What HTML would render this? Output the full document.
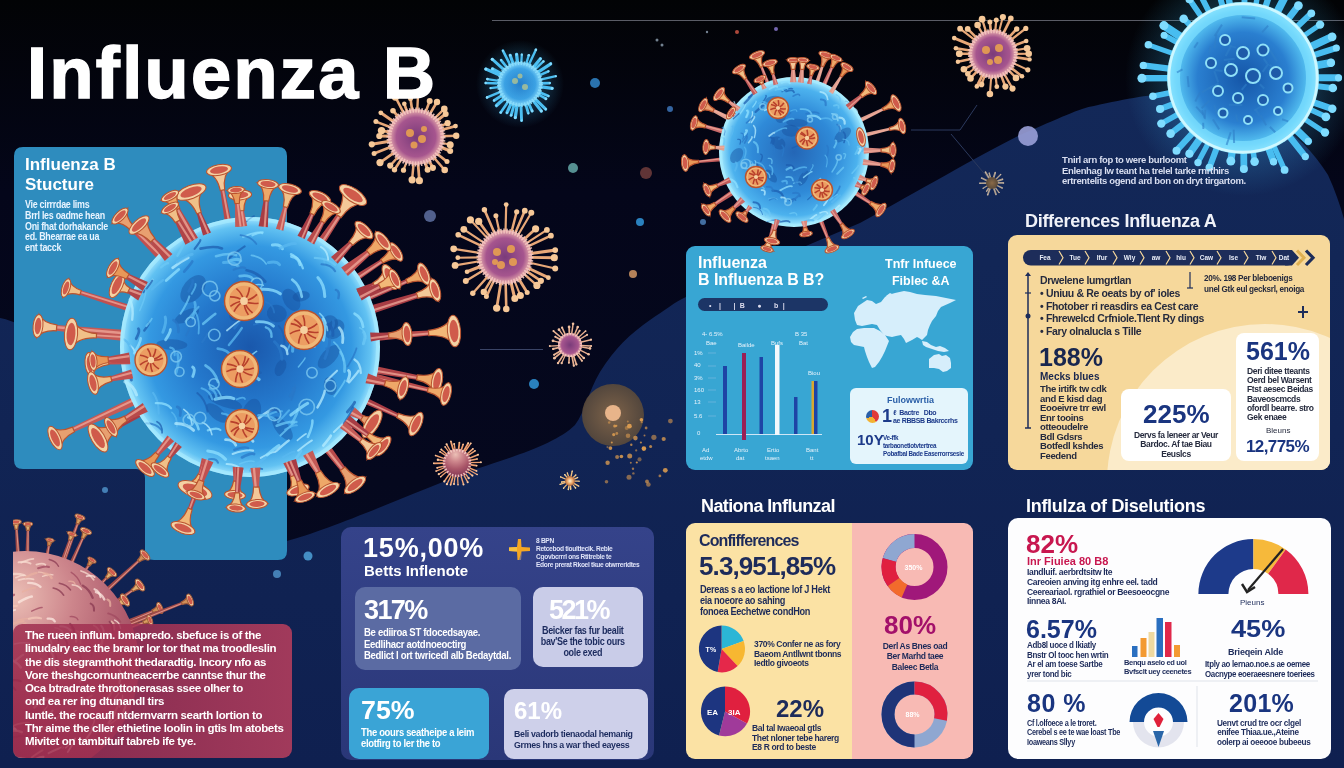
<!DOCTYPE html>
<html><head><meta charset="utf-8">
<style>
*{margin:0;padding:0;box-sizing:border-box}
html,body{width:1344px;height:768px;overflow:hidden;background:#070a17}
body{position:relative;font-family:"Liberation Sans",sans-serif;color:#fff}
.a{position:absolute}
.b{font-weight:bold}
.t{position:absolute;white-space:nowrap;line-height:1}
.sm{font-size:10px;line-height:11px;white-space:nowrap;position:absolute;font-weight:bold;letter-spacing:-0.35px}
.navy{color:#1c2b5e}
.panel{position:absolute;border-radius:9px}
</style></head><body>
<svg style="position:absolute;left:0;top:0" width="1344" height="768" viewBox="0 0 1344 768">
<defs>
<radialGradient id="gBlue" cx="50%" cy="50%" r="50%">
 <stop offset="0" stop-color="#1a58ac"/>
 <stop offset="0.45" stop-color="#2478cc"/>
 <stop offset="0.78" stop-color="#3499e2"/>
 <stop offset="0.93" stop-color="#62c2f2"/>
 <stop offset="1" stop-color="#a8e8ff"/>
</radialGradient>
<radialGradient id="gBlueLight" cx="50%" cy="50%" r="50%">
 <stop offset="0" stop-color="#2466b6"/>
 <stop offset="0.55" stop-color="#2f8ad8"/>
 <stop offset="0.85" stop-color="#4cb2ee"/>
 <stop offset="1" stop-color="#b0f0ff"/>
</radialGradient>
<radialGradient id="gGlow" cx="50%" cy="50%" r="50%">
 <stop offset="0.55" stop-color="#40b8f0" stop-opacity="0.45"/>
 <stop offset="1" stop-color="#40b8f0" stop-opacity="0"/>
</radialGradient>
<radialGradient id="gBlueTR" cx="50%" cy="50%" r="50%">
 <stop offset="0" stop-color="#1556a8"/>
 <stop offset="0.6" stop-color="#2a7fd0"/>
 <stop offset="0.88" stop-color="#58c6f4"/>
 <stop offset="1" stop-color="#a8f0ff"/>
</radialGradient>
<radialGradient id="gPink" cx="50%" cy="50%" r="50%">
 <stop offset="0" stop-color="#7a3b7a"/>
 <stop offset="0.7" stop-color="#a6558e"/>
 <stop offset="1" stop-color="#f0b8b0"/>
</radialGradient>
<radialGradient id="gSmallBlue" cx="50%" cy="50%" r="50%">
 <stop offset="0" stop-color="#1f6fc0"/>
 <stop offset="0.7" stop-color="#3a9be0"/>
 <stop offset="1" stop-color="#9fe6ff"/>
</radialGradient>
<radialGradient id="gPinkBig" cx="45%" cy="20%" r="85%">
 <stop offset="0" stop-color="#ecc0b6"/>
 <stop offset="0.3" stop-color="#cd868c"/>
 <stop offset="0.6" stop-color="#ab586a"/>
 <stop offset="1" stop-color="#7a3050"/>
</radialGradient>
<radialGradient id="gOrb" cx="50%" cy="50%" r="50%">
 <stop offset="0" stop-color="#8a6a48"/>
 <stop offset="1" stop-color="#5a4a3a"/>
</radialGradient>
<radialGradient id="gOrange" cx="50%" cy="50%" r="50%">
 <stop offset="0" stop-color="#fff0d0"/>
 <stop offset="0.6" stop-color="#e8a060"/>
 <stop offset="1" stop-color="#a06040"/>
</radialGradient>
<linearGradient id="gBg" x1="0" y1="0" x2="0" y2="1">
 <stop offset="0" stop-color="#020305"/>
 <stop offset="0.25" stop-color="#04061a"/>
 <stop offset="1" stop-color="#060a22"/>
</linearGradient>
<linearGradient id="gWave" x1="0" y1="0" x2="0" y2="1">
 <stop offset="0" stop-color="#132858"/>
 <stop offset="1" stop-color="#0f2050"/>
</linearGradient>
</defs>
<rect width="1344" height="768" fill="url(#gBg)"/>
<path d="M0,318 C60,330 120,420 150,470 C190,520 250,548 287,541 C330,530 420,490 476,469 C520,455 558,442 575,425 C585,412 588,392 600,372 C615,348 630,334 650,320 C665,310 675,302 686,297 L860,223 C920,190 980,155 1020,135 C1060,118 1080,108 1094,106 C1130,98 1160,93 1175,94 C1250,96 1300,130 1328,175 C1335,190 1340,205 1344,219 L1344,768 L0,768 Z" fill="url(#gWave)"/>
<line x1="492" y1="20.5" x2="1344" y2="20.5" stroke="#5a5c66" stroke-width="1.2"/>
<line x1="480" y1="349.5" x2="543" y2="349.5" stroke="#3a4466" stroke-width="1"/>
<polyline points="911,130 960,130 977,105" fill="none" stroke="#2c3a5e" stroke-width="1"/>
<line x1="951" y1="134" x2="988" y2="178" stroke="#2c3a5e" stroke-width="1"/>
<circle cx="595" cy="83" r="5" fill="#2f7fc0" opacity="0.9"/>
<circle cx="670" cy="109" r="3" fill="#3a6fb0" opacity="0.9"/>
<circle cx="573" cy="168" r="5" fill="#5fa0a0" opacity="0.9"/>
<circle cx="646" cy="173" r="6" fill="#6a3a3a" opacity="0.9"/>
<circle cx="640" cy="222" r="4" fill="#2f8fd0" opacity="0.9"/>
<circle cx="534" cy="384" r="5" fill="#2f8fd0" opacity="0.9"/>
<circle cx="633" cy="274" r="4" fill="#c89060" opacity="0.9"/>
<circle cx="1028" cy="136" r="10" fill="#9aa0d8" opacity="0.9"/>
<circle cx="430" cy="216" r="6" fill="#5a6a9a" opacity="0.9"/>
<circle cx="18" cy="408" r="3" fill="#5a9ad0" opacity="0.9"/>
<circle cx="105" cy="490" r="3" fill="#4a8ac0" opacity="0.9"/>
<circle cx="657" cy="40" r="1.5" fill="#8090a0" opacity="0.9"/>
<circle cx="662" cy="45" r="1.5" fill="#8090a0" opacity="0.9"/>
<circle cx="737" cy="32" r="2" fill="#c05040" opacity="0.9"/>
<circle cx="776" cy="29" r="2" fill="#8070c0" opacity="0.9"/>
<circle cx="707" cy="32" r="1.2" fill="#8090a0" opacity="0.9"/>
<circle cx="308" cy="556" r="4.5" fill="#4a9ad0" opacity="0.9"/>
<circle cx="277" cy="574" r="4" fill="#4a8ac0" opacity="0.9"/>
<circle cx="703" cy="222" r="3" fill="#4a7ab0" opacity="0.9"/>
<circle cx="613" cy="415" r="31" fill="url(#gOrb)" opacity="0.9"/>
<circle cx="613" cy="413" r="8" fill="#e8b48a"/>
<circle cx="626.7" cy="428.1" r="2" fill="#d89a50" opacity="0.5"/>
<circle cx="640.9" cy="442.5" r="1.1" fill="#d89a50" opacity="0.8"/>
<circle cx="607.5" cy="447.1" r="1.1" fill="#d89a50" opacity="0.5"/>
<circle cx="633.4" cy="473.4" r="1.2" fill="#d89a50" opacity="0.6"/>
<circle cx="647" cy="481.5" r="1.9" fill="#d89a50" opacity="0.7"/>
<circle cx="670.4" cy="421.1" r="2.4" fill="#d89a50" opacity="0.6"/>
<circle cx="614.7" cy="425.9" r="1.5" fill="#d89a50" opacity="0.9"/>
<circle cx="617.1" cy="457" r="2" fill="#d89a50" opacity="0.7"/>
<circle cx="641.7" cy="422.2" r="1.1" fill="#d89a50" opacity="0.6"/>
<circle cx="650.6" cy="446.6" r="1.5" fill="#d89a50" opacity="0.8"/>
<circle cx="635.4" cy="438.1" r="2.3" fill="#d89a50" opacity="0.8"/>
<circle cx="621.4" cy="456.5" r="1.8" fill="#d89a50" opacity="0.9"/>
<circle cx="653.9" cy="437.3" r="2.6" fill="#d89a50" opacity="0.6"/>
<circle cx="633" cy="468.7" r="1.2" fill="#d89a50" opacity="0.7"/>
<circle cx="607.6" cy="462.8" r="2.2" fill="#d89a50" opacity="0.8"/>
<circle cx="663.7" cy="439" r="2.1" fill="#d89a50" opacity="0.8"/>
<circle cx="643.9" cy="448.6" r="2.3" fill="#d89a50" opacity="1"/>
<circle cx="636.8" cy="462.5" r="1.1" fill="#d89a50" opacity="0.9"/>
<circle cx="648.4" cy="484.5" r="2.3" fill="#d89a50" opacity="0.6"/>
<circle cx="630.8" cy="462.8" r="1" fill="#d89a50" opacity="0.7"/>
<circle cx="616.3" cy="425.8" r="1.1" fill="#d89a50" opacity="0.9"/>
<circle cx="613.7" cy="434.6" r="1.6" fill="#d89a50" opacity="0.9"/>
<circle cx="610.4" cy="448.1" r="1.9" fill="#d89a50" opacity="0.9"/>
<circle cx="659.9" cy="475.9" r="1.4" fill="#d89a50" opacity="0.7"/>
<circle cx="629" cy="477.2" r="2.5" fill="#d89a50" opacity="0.6"/>
<circle cx="616.8" cy="433.5" r="1.4" fill="#d89a50" opacity="0.7"/>
<circle cx="644.5" cy="435.6" r="1" fill="#d89a50" opacity="0.7"/>
<circle cx="629.7" cy="455.9" r="2.5" fill="#d89a50" opacity="0.8"/>
<circle cx="639.5" cy="459.4" r="2.1" fill="#d89a50" opacity="0.5"/>
<circle cx="665.3" cy="470.3" r="2.4" fill="#d89a50" opacity="0.9"/>
<circle cx="631.3" cy="444.7" r="1.2" fill="#d89a50" opacity="0.8"/>
<circle cx="609.2" cy="422.5" r="1.3" fill="#d89a50" opacity="0.6"/>
<circle cx="627.8" cy="421.5" r="1" fill="#d89a50" opacity="0.6"/>
<circle cx="611.8" cy="442.4" r="1" fill="#d89a50" opacity="0.9"/>
<circle cx="646.1" cy="428" r="1.4" fill="#d89a50" opacity="0.7"/>
<circle cx="629.4" cy="426.2" r="2.4" fill="#d89a50" opacity="1"/>
<circle cx="636.2" cy="450.4" r="1.1" fill="#d89a50" opacity="0.6"/>
<circle cx="628" cy="435.7" r="2.3" fill="#d89a50" opacity="0.6"/>
<circle cx="606.5" cy="481.7" r="1.8" fill="#d89a50" opacity="0.6"/>
<circle cx="641.4" cy="419.8" r="1.8" fill="#d89a50" opacity="1"/>
<line x1="441.2" y1="136.2" x2="456.2" y2="135.7" stroke="#e8a878" stroke-width="2.5" stroke-linecap="round"/>
<circle cx="456.2" cy="135.7" r="3.2" fill="#f6c898"/>
<line x1="440.6" y1="142.6" x2="450.2" y2="144.8" stroke="#e8a878" stroke-width="2.1" stroke-linecap="round"/>
<circle cx="450.2" cy="144.8" r="3.5" fill="#f6c898"/>
<line x1="439.3" y1="146.5" x2="450.2" y2="151" stroke="#e8a878" stroke-width="3.1" stroke-linecap="round"/>
<circle cx="450.2" cy="151" r="3" fill="#f6c898"/>
<line x1="435.7" y1="152.7" x2="447" y2="161.6" stroke="#e8a878" stroke-width="2.7" stroke-linecap="round"/>
<circle cx="447" cy="161.6" r="2.5" fill="#f6c898"/>
<line x1="432.5" y1="156" x2="444.7" y2="170" stroke="#e8a878" stroke-width="2.6" stroke-linecap="round"/>
<circle cx="444.7" cy="170" r="3.3" fill="#f6c898"/>
<line x1="428.1" y1="159.1" x2="432.9" y2="167.8" stroke="#e8a878" stroke-width="2.9" stroke-linecap="round"/>
<circle cx="432.9" cy="167.8" r="3.1" fill="#f6c898"/>
<line x1="424.4" y1="160.8" x2="427.6" y2="169.8" stroke="#e8a878" stroke-width="3" stroke-linecap="round"/>
<circle cx="427.6" cy="169.8" r="3" fill="#f6c898"/>
<line x1="417.9" y1="162.1" x2="419.4" y2="180.7" stroke="#e8a878" stroke-width="2.8" stroke-linecap="round"/>
<circle cx="419.4" cy="180.7" r="3.6" fill="#f6c898"/>
<line x1="413.7" y1="162.1" x2="412.1" y2="179.8" stroke="#e8a878" stroke-width="2.5" stroke-linecap="round"/>
<circle cx="412.1" cy="179.8" r="3.6" fill="#f6c898"/>
<line x1="407.1" y1="160.6" x2="403.5" y2="170.2" stroke="#e8a878" stroke-width="2.2" stroke-linecap="round"/>
<circle cx="403.5" cy="170.2" r="2.6" fill="#f6c898"/>
<line x1="402.1" y1="158" x2="394.5" y2="169.7" stroke="#e8a878" stroke-width="2.7" stroke-linecap="round"/>
<circle cx="394.5" cy="169.7" r="2.7" fill="#f6c898"/>
<line x1="399.1" y1="155.7" x2="390.2" y2="165.6" stroke="#e8a878" stroke-width="2.4" stroke-linecap="round"/>
<circle cx="390.2" cy="165.6" r="3.1" fill="#f6c898"/>
<line x1="395.5" y1="151.6" x2="380" y2="162.6" stroke="#e8a878" stroke-width="2.8" stroke-linecap="round"/>
<circle cx="380" cy="162.6" r="3.6" fill="#f6c898"/>
<line x1="392.5" y1="146.2" x2="374.1" y2="153.5" stroke="#e8a878" stroke-width="2.8" stroke-linecap="round"/>
<circle cx="374.1" cy="153.5" r="2.5" fill="#f6c898"/>
<line x1="391.1" y1="141.1" x2="371.8" y2="144.3" stroke="#e8a878" stroke-width="3" stroke-linecap="round"/>
<circle cx="371.8" cy="144.3" r="3.1" fill="#f6c898"/>
<line x1="390.8" y1="136.3" x2="379.3" y2="136" stroke="#e8a878" stroke-width="2.9" stroke-linecap="round"/>
<circle cx="379.3" cy="136" r="3.1" fill="#f6c898"/>
<line x1="391.2" y1="132.4" x2="381.5" y2="130.6" stroke="#e8a878" stroke-width="3" stroke-linecap="round"/>
<circle cx="381.5" cy="130.6" r="3.7" fill="#f6c898"/>
<line x1="392.5" y1="128" x2="375.9" y2="121.6" stroke="#e8a878" stroke-width="2.5" stroke-linecap="round"/>
<circle cx="375.9" cy="121.6" r="2.5" fill="#f6c898"/>
<line x1="395.2" y1="122.7" x2="380.8" y2="112.8" stroke="#e8a878" stroke-width="3" stroke-linecap="round"/>
<circle cx="380.8" cy="112.8" r="2.4" fill="#f6c898"/>
<line x1="399.4" y1="118" x2="393" y2="110.7" stroke="#e8a878" stroke-width="2.8" stroke-linecap="round"/>
<circle cx="393" cy="110.7" r="2.8" fill="#f6c898"/>
<line x1="404.5" y1="114.6" x2="395.4" y2="97" stroke="#e8a878" stroke-width="2.6" stroke-linecap="round"/>
<circle cx="395.4" cy="97" r="3.7" fill="#f6c898"/>
<line x1="407.6" y1="113.2" x2="404.3" y2="103.8" stroke="#e8a878" stroke-width="2.7" stroke-linecap="round"/>
<circle cx="404.3" cy="103.8" r="2.3" fill="#f6c898"/>
<line x1="412.4" y1="112.1" x2="410.5" y2="98.6" stroke="#e8a878" stroke-width="2.7" stroke-linecap="round"/>
<circle cx="410.5" cy="98.6" r="2.5" fill="#f6c898"/>
<line x1="417.2" y1="111.8" x2="418.1" y2="93.3" stroke="#e8a878" stroke-width="2.4" stroke-linecap="round"/>
<circle cx="418.1" cy="93.3" r="3.7" fill="#f6c898"/>
<line x1="425" y1="113.5" x2="429.7" y2="101.1" stroke="#e8a878" stroke-width="2.6" stroke-linecap="round"/>
<circle cx="429.7" cy="101.1" r="3" fill="#f6c898"/>
<line x1="429" y1="115.4" x2="437" y2="102" stroke="#e8a878" stroke-width="2.7" stroke-linecap="round"/>
<circle cx="437" cy="102" r="3.2" fill="#f6c898"/>
<line x1="433.9" y1="119.2" x2="444.3" y2="108.9" stroke="#e8a878" stroke-width="2.5" stroke-linecap="round"/>
<circle cx="444.3" cy="108.9" r="3.3" fill="#f6c898"/>
<line x1="435.9" y1="121.5" x2="445.7" y2="113.9" stroke="#e8a878" stroke-width="3.1" stroke-linecap="round"/>
<circle cx="445.7" cy="113.9" r="3" fill="#f6c898"/>
<line x1="439.1" y1="126.9" x2="447.6" y2="123.2" stroke="#e8a878" stroke-width="2.5" stroke-linecap="round"/>
<circle cx="447.6" cy="123.2" r="3.1" fill="#f6c898"/>
<line x1="440.3" y1="130.3" x2="455.5" y2="126.1" stroke="#e8a878" stroke-width="2.7" stroke-linecap="round"/>
<circle cx="455.5" cy="126.1" r="2.4" fill="#f6c898"/>
<circle cx="416" cy="137" r="28" fill="url(#gPink)"/>
<circle cx="416" cy="137" r="27" fill="none" stroke="#f4c8c0" stroke-width="5" stroke-dasharray="1.5 1.5" opacity="0.9"/>
<circle cx="410" cy="133" r="4" fill="#e8a050" opacity="0.9"/>
<circle cx="422" cy="139" r="4" fill="#e8a050" opacity="0.9"/>
<circle cx="414" cy="145" r="3.5" fill="#e8a050" opacity="0.9"/>
<circle cx="424" cy="129" r="3" fill="#e8a050" opacity="0.9"/>
<line x1="539.8" y1="83.4" x2="549.7" y2="83.1" stroke="#4ec0f2" stroke-width="2.7" stroke-linecap="round"/>
<circle cx="549.7" cy="83.1" r="1.1" fill="#8fe0ff"/>
<line x1="539.6" y1="86.7" x2="552.1" y2="88.4" stroke="#4ec0f2" stroke-width="3.3" stroke-linecap="round"/>
<circle cx="552.1" cy="88.4" r="1.4" fill="#8fe0ff"/>
<line x1="538.2" y1="91.7" x2="548.4" y2="96" stroke="#4ec0f2" stroke-width="2.8" stroke-linecap="round"/>
<circle cx="548.4" cy="96" r="1.1" fill="#8fe0ff"/>
<line x1="537.2" y1="93.8" x2="545.9" y2="98.7" stroke="#4ec0f2" stroke-width="2.5" stroke-linecap="round"/>
<circle cx="545.9" cy="98.7" r="1.5" fill="#8fe0ff"/>
<line x1="534.1" y1="97.9" x2="545.7" y2="109.2" stroke="#4ec0f2" stroke-width="3.1" stroke-linecap="round"/>
<circle cx="545.7" cy="109.2" r="1.1" fill="#8fe0ff"/>
<line x1="532.3" y1="99.5" x2="541.3" y2="111" stroke="#4ec0f2" stroke-width="3.1" stroke-linecap="round"/>
<circle cx="541.3" cy="111" r="1.5" fill="#8fe0ff"/>
<line x1="528.1" y1="102.1" x2="532.1" y2="111" stroke="#4ec0f2" stroke-width="2.9" stroke-linecap="round"/>
<circle cx="532.1" cy="111" r="1.4" fill="#8fe0ff"/>
<line x1="525.4" y1="103" x2="528.3" y2="113.2" stroke="#4ec0f2" stroke-width="2.8" stroke-linecap="round"/>
<circle cx="528.3" cy="113.2" r="1" fill="#8fe0ff"/>
<line x1="520.9" y1="103.8" x2="521.6" y2="120.6" stroke="#4ec0f2" stroke-width="2.9" stroke-linecap="round"/>
<circle cx="521.6" cy="120.6" r="1.1" fill="#8fe0ff"/>
<line x1="517.3" y1="103.6" x2="515.3" y2="117.6" stroke="#4ec0f2" stroke-width="3.2" stroke-linecap="round"/>
<circle cx="515.3" cy="117.6" r="1.5" fill="#8fe0ff"/>
<line x1="514.6" y1="103" x2="511.1" y2="115.3" stroke="#4ec0f2" stroke-width="2.9" stroke-linecap="round"/>
<circle cx="511.1" cy="115.3" r="1.2" fill="#8fe0ff"/>
<line x1="511.8" y1="102" x2="507" y2="112.7" stroke="#4ec0f2" stroke-width="3.2" stroke-linecap="round"/>
<circle cx="507" cy="112.7" r="1" fill="#8fe0ff"/>
<line x1="508.9" y1="100.4" x2="500.7" y2="112.5" stroke="#4ec0f2" stroke-width="2.6" stroke-linecap="round"/>
<circle cx="500.7" cy="112.5" r="1.3" fill="#8fe0ff"/>
<line x1="505.4" y1="97.4" x2="496.5" y2="105.6" stroke="#4ec0f2" stroke-width="3.4" stroke-linecap="round"/>
<circle cx="496.5" cy="105.6" r="1.1" fill="#8fe0ff"/>
<line x1="503.3" y1="94.6" x2="494.1" y2="100.4" stroke="#4ec0f2" stroke-width="2.9" stroke-linecap="round"/>
<circle cx="494.1" cy="100.4" r="1.1" fill="#8fe0ff"/>
<line x1="501.7" y1="91.4" x2="487.1" y2="97.4" stroke="#4ec0f2" stroke-width="2.6" stroke-linecap="round"/>
<circle cx="487.1" cy="97.4" r="1.3" fill="#8fe0ff"/>
<line x1="500.4" y1="86.8" x2="490.6" y2="88.1" stroke="#4ec0f2" stroke-width="2.3" stroke-linecap="round"/>
<circle cx="490.6" cy="88.1" r="1.1" fill="#8fe0ff"/>
<line x1="500.2" y1="83.4" x2="485.7" y2="83" stroke="#4ec0f2" stroke-width="2.5" stroke-linecap="round"/>
<circle cx="485.7" cy="83" r="1.2" fill="#8fe0ff"/>
<line x1="500.4" y1="81.1" x2="487.4" y2="79.1" stroke="#4ec0f2" stroke-width="2.3" stroke-linecap="round"/>
<circle cx="487.4" cy="79.1" r="1.4" fill="#8fe0ff"/>
<line x1="501.9" y1="76" x2="485.8" y2="69" stroke="#4ec0f2" stroke-width="3.1" stroke-linecap="round"/>
<circle cx="485.8" cy="69" r="1.5" fill="#8fe0ff"/>
<line x1="502.6" y1="74.5" x2="492.5" y2="68.9" stroke="#4ec0f2" stroke-width="3.3" stroke-linecap="round"/>
<circle cx="492.5" cy="68.9" r="1.4" fill="#8fe0ff"/>
<line x1="505.2" y1="70.8" x2="492.2" y2="59.2" stroke="#4ec0f2" stroke-width="2.9" stroke-linecap="round"/>
<circle cx="492.2" cy="59.2" r="1.5" fill="#8fe0ff"/>
<line x1="507.7" y1="68.5" x2="501.1" y2="60.1" stroke="#4ec0f2" stroke-width="2.7" stroke-linecap="round"/>
<circle cx="501.1" cy="60.1" r="1" fill="#8fe0ff"/>
<line x1="510.9" y1="66.4" x2="502.9" y2="50.7" stroke="#4ec0f2" stroke-width="2.6" stroke-linecap="round"/>
<circle cx="502.9" cy="50.7" r="1" fill="#8fe0ff"/>
<line x1="513.6" y1="65.3" x2="510.2" y2="55.3" stroke="#4ec0f2" stroke-width="3.1" stroke-linecap="round"/>
<circle cx="510.2" cy="55.3" r="1.2" fill="#8fe0ff"/>
<line x1="517.7" y1="64.3" x2="516.6" y2="54.5" stroke="#4ec0f2" stroke-width="3.3" stroke-linecap="round"/>
<circle cx="516.6" cy="54.5" r="1.2" fill="#8fe0ff"/>
<line x1="521.2" y1="64.2" x2="521.8" y2="54.7" stroke="#4ec0f2" stroke-width="2.3" stroke-linecap="round"/>
<circle cx="521.8" cy="54.7" r="1.1" fill="#8fe0ff"/>
<line x1="525.8" y1="65.1" x2="528.8" y2="55.2" stroke="#4ec0f2" stroke-width="2.3" stroke-linecap="round"/>
<circle cx="528.8" cy="55.2" r="1.3" fill="#8fe0ff"/>
<line x1="528.3" y1="66" x2="535.9" y2="49.7" stroke="#4ec0f2" stroke-width="2.4" stroke-linecap="round"/>
<circle cx="535.9" cy="49.7" r="1.3" fill="#8fe0ff"/>
<line x1="532.4" y1="68.6" x2="540.4" y2="58.7" stroke="#4ec0f2" stroke-width="3.3" stroke-linecap="round"/>
<circle cx="540.4" cy="58.7" r="1.2" fill="#8fe0ff"/>
<line x1="534.2" y1="70.2" x2="543.4" y2="61.4" stroke="#4ec0f2" stroke-width="2.3" stroke-linecap="round"/>
<circle cx="543.4" cy="61.4" r="1.2" fill="#8fe0ff"/>
<line x1="536.5" y1="73.1" x2="550.7" y2="63.8" stroke="#4ec0f2" stroke-width="3.2" stroke-linecap="round"/>
<circle cx="550.7" cy="63.8" r="1.3" fill="#8fe0ff"/>
<line x1="538.1" y1="75.9" x2="548.4" y2="71.3" stroke="#4ec0f2" stroke-width="2.5" stroke-linecap="round"/>
<circle cx="548.4" cy="71.3" r="1.1" fill="#8fe0ff"/>
<line x1="539.3" y1="79.8" x2="555.8" y2="76.2" stroke="#4ec0f2" stroke-width="2.4" stroke-linecap="round"/>
<circle cx="555.8" cy="76.2" r="1" fill="#8fe0ff"/>
<circle cx="520" cy="84" r="22" fill="url(#gSmallBlue)"/>
<circle cx="520" cy="84" r="21" fill="none" stroke="#9fe8ff" stroke-width="4" stroke-dasharray="1.5 1.5" opacity="0.9"/>
<circle cx="515" cy="81" r="3" fill="#c0c080" opacity="0.9"/>
<circle cx="525" cy="87" r="3" fill="#c0c080" opacity="0.9"/>
<circle cx="520" cy="76" r="2.5" fill="#c0c080" opacity="0.9"/>
<line x1="529.3" y1="257.4" x2="554.3" y2="257.7" stroke="#e8a878" stroke-width="2.9" stroke-linecap="round"/>
<circle cx="554.3" cy="257.7" r="3.6" fill="#f6c898"/>
<line x1="528.7" y1="262.4" x2="555.2" y2="268.5" stroke="#e8a878" stroke-width="2.1" stroke-linecap="round"/>
<circle cx="555.2" cy="268.5" r="3" fill="#f6c898"/>
<line x1="526.9" y1="267.5" x2="548.4" y2="277.7" stroke="#e8a878" stroke-width="3" stroke-linecap="round"/>
<circle cx="548.4" cy="277.7" r="2.4" fill="#f6c898"/>
<line x1="525.3" y1="270.4" x2="540.9" y2="280.8" stroke="#e8a878" stroke-width="2.6" stroke-linecap="round"/>
<circle cx="540.9" cy="280.8" r="3.1" fill="#f6c898"/>
<line x1="523.1" y1="273.2" x2="536.9" y2="285.4" stroke="#e8a878" stroke-width="2.4" stroke-linecap="round"/>
<circle cx="536.9" cy="285.4" r="3.6" fill="#f6c898"/>
<line x1="517.9" y1="277.6" x2="527.2" y2="292.6" stroke="#e8a878" stroke-width="2.9" stroke-linecap="round"/>
<circle cx="527.2" cy="292.6" r="2.5" fill="#f6c898"/>
<line x1="514" y1="279.6" x2="520.4" y2="295.6" stroke="#e8a878" stroke-width="2.1" stroke-linecap="round"/>
<circle cx="520.4" cy="295.6" r="3.5" fill="#f6c898"/>
<line x1="510.6" y1="280.7" x2="514.8" y2="298.6" stroke="#e8a878" stroke-width="3.1" stroke-linecap="round"/>
<circle cx="514.8" cy="298.6" r="3.5" fill="#f6c898"/>
<line x1="505.6" y1="281.3" x2="506.3" y2="309" stroke="#e8a878" stroke-width="2.6" stroke-linecap="round"/>
<circle cx="506.3" cy="309" r="3.3" fill="#f6c898"/>
<line x1="501.1" y1="281" x2="496.7" y2="308.1" stroke="#e8a878" stroke-width="2.8" stroke-linecap="round"/>
<circle cx="496.7" cy="308.1" r="3.7" fill="#f6c898"/>
<line x1="494.7" y1="279" x2="486.4" y2="296.6" stroke="#e8a878" stroke-width="2.5" stroke-linecap="round"/>
<circle cx="486.4" cy="296.6" r="2.5" fill="#f6c898"/>
<line x1="492.4" y1="277.8" x2="483.8" y2="291.9" stroke="#e8a878" stroke-width="2.4" stroke-linecap="round"/>
<circle cx="483.8" cy="291.9" r="3.2" fill="#f6c898"/>
<line x1="488.9" y1="275.2" x2="472.8" y2="293.2" stroke="#e8a878" stroke-width="2.4" stroke-linecap="round"/>
<circle cx="472.8" cy="293.2" r="2.7" fill="#f6c898"/>
<line x1="484.3" y1="269.7" x2="465.8" y2="281.1" stroke="#e8a878" stroke-width="2.4" stroke-linecap="round"/>
<circle cx="465.8" cy="281.1" r="3" fill="#f6c898"/>
<line x1="482.3" y1="265.8" x2="467" y2="271.7" stroke="#e8a878" stroke-width="3.1" stroke-linecap="round"/>
<circle cx="467" cy="271.7" r="2.3" fill="#f6c898"/>
<line x1="481" y1="261" x2="455.1" y2="265.4" stroke="#e8a878" stroke-width="2.1" stroke-linecap="round"/>
<circle cx="455.1" cy="265.4" r="3.4" fill="#f6c898"/>
<line x1="480.7" y1="257.4" x2="457.8" y2="257.7" stroke="#e8a878" stroke-width="2.1" stroke-linecap="round"/>
<circle cx="457.8" cy="257.7" r="2.4" fill="#f6c898"/>
<line x1="481" y1="253.2" x2="453.7" y2="248.8" stroke="#e8a878" stroke-width="2.3" stroke-linecap="round"/>
<circle cx="453.7" cy="248.8" r="3.4" fill="#f6c898"/>
<line x1="483" y1="246.6" x2="458.2" y2="234.8" stroke="#e8a878" stroke-width="2.4" stroke-linecap="round"/>
<circle cx="458.2" cy="234.8" r="2.8" fill="#f6c898"/>
<line x1="484.8" y1="243.4" x2="463.8" y2="229.3" stroke="#e8a878" stroke-width="2.2" stroke-linecap="round"/>
<circle cx="463.8" cy="229.3" r="3.4" fill="#f6c898"/>
<line x1="488.4" y1="239.2" x2="470.4" y2="219.9" stroke="#e8a878" stroke-width="2.1" stroke-linecap="round"/>
<circle cx="470.4" cy="219.9" r="3.6" fill="#f6c898"/>
<line x1="490.5" y1="237.5" x2="478.7" y2="221.4" stroke="#e8a878" stroke-width="2.7" stroke-linecap="round"/>
<circle cx="478.7" cy="221.4" r="3.6" fill="#f6c898"/>
<line x1="495.3" y1="234.7" x2="484.4" y2="209.8" stroke="#e8a878" stroke-width="2.6" stroke-linecap="round"/>
<circle cx="484.4" cy="209.8" r="2.7" fill="#f6c898"/>
<line x1="499.7" y1="233.3" x2="495.9" y2="215.8" stroke="#e8a878" stroke-width="2.2" stroke-linecap="round"/>
<circle cx="495.9" cy="215.8" r="2.5" fill="#f6c898"/>
<line x1="505.5" y1="232.7" x2="506.2" y2="204.6" stroke="#e8a878" stroke-width="2.2" stroke-linecap="round"/>
<circle cx="506.2" cy="204.6" r="2.4" fill="#f6c898"/>
<line x1="511.1" y1="233.5" x2="516.7" y2="211.8" stroke="#e8a878" stroke-width="2.5" stroke-linecap="round"/>
<circle cx="516.7" cy="211.8" r="2.6" fill="#f6c898"/>
<line x1="514.5" y1="234.7" x2="524.8" y2="210.7" stroke="#e8a878" stroke-width="2.6" stroke-linecap="round"/>
<circle cx="524.8" cy="210.7" r="2.9" fill="#f6c898"/>
<line x1="517.4" y1="236.1" x2="531.3" y2="212.8" stroke="#e8a878" stroke-width="2.1" stroke-linecap="round"/>
<circle cx="531.3" cy="212.8" r="3" fill="#f6c898"/>
<line x1="522.9" y1="240.5" x2="535.6" y2="228.8" stroke="#e8a878" stroke-width="2.8" stroke-linecap="round"/>
<circle cx="535.6" cy="228.8" r="3.6" fill="#f6c898"/>
<line x1="525.4" y1="243.8" x2="546.9" y2="229.9" stroke="#e8a878" stroke-width="2.2" stroke-linecap="round"/>
<circle cx="546.9" cy="229.9" r="2.9" fill="#f6c898"/>
<line x1="527" y1="246.8" x2="550.9" y2="235.7" stroke="#e8a878" stroke-width="2.4" stroke-linecap="round"/>
<circle cx="550.9" cy="235.7" r="2.9" fill="#f6c898"/>
<line x1="529.1" y1="253.7" x2="555.2" y2="250.1" stroke="#e8a878" stroke-width="3.1" stroke-linecap="round"/>
<circle cx="555.2" cy="250.1" r="2.9" fill="#f6c898"/>
<circle cx="505" cy="257" r="27" fill="url(#gPink)"/>
<circle cx="505" cy="257" r="26" fill="none" stroke="#f4c8c0" stroke-width="4.9" stroke-dasharray="1.5 1.5" opacity="0.9"/>
<circle cx="497" cy="252" r="4" fill="#e8a050" opacity="0.9"/>
<circle cx="511" cy="249" r="4" fill="#e8a050" opacity="0.9"/>
<circle cx="513" cy="262" r="4" fill="#e8a050" opacity="0.9"/>
<circle cx="501" cy="265" r="4" fill="#e8a050" opacity="0.9"/>
<circle cx="495" cy="262" r="3" fill="#e8a050" opacity="0.9"/>
<line x1="580.8" y1="345.5" x2="591.1" y2="345.9" stroke="#e8b090" stroke-width="1.5" stroke-linecap="round"/>
<circle cx="591.1" cy="345.9" r="1" fill="#f0c0a0"/>
<line x1="580.6" y1="346.8" x2="590" y2="348.4" stroke="#e8b090" stroke-width="1.5" stroke-linecap="round"/>
<circle cx="590" cy="348.4" r="1.3" fill="#f0c0a0"/>
<line x1="579.7" y1="349.8" x2="588.6" y2="354.3" stroke="#e8b090" stroke-width="1.4" stroke-linecap="round"/>
<circle cx="588.6" cy="354.3" r="1.3" fill="#f0c0a0"/>
<line x1="577.8" y1="352.4" x2="583.8" y2="358" stroke="#e8b090" stroke-width="1.5" stroke-linecap="round"/>
<circle cx="583.8" cy="358" r="1.3" fill="#f0c0a0"/>
<line x1="576.5" y1="353.6" x2="581.9" y2="360.7" stroke="#e8b090" stroke-width="1.7" stroke-linecap="round"/>
<circle cx="581.9" cy="360.7" r="1" fill="#f0c0a0"/>
<line x1="573.4" y1="355.3" x2="576.4" y2="364.4" stroke="#e8b090" stroke-width="1.7" stroke-linecap="round"/>
<circle cx="576.4" cy="364.4" r="1.1" fill="#f0c0a0"/>
<line x1="571.9" y1="355.6" x2="573.8" y2="365.7" stroke="#e8b090" stroke-width="1.7" stroke-linecap="round"/>
<circle cx="573.8" cy="365.7" r="1.1" fill="#f0c0a0"/>
<line x1="569.3" y1="355.8" x2="568.9" y2="362.8" stroke="#e8b090" stroke-width="1.6" stroke-linecap="round"/>
<circle cx="568.9" cy="362.8" r="1" fill="#f0c0a0"/>
<line x1="565.5" y1="354.8" x2="561.7" y2="363.1" stroke="#e8b090" stroke-width="1.3" stroke-linecap="round"/>
<circle cx="561.7" cy="363.1" r="1.2" fill="#f0c0a0"/>
<line x1="564" y1="354" x2="558" y2="363.1" stroke="#e8b090" stroke-width="1.7" stroke-linecap="round"/>
<circle cx="558" cy="363.1" r="1.2" fill="#f0c0a0"/>
<line x1="561.8" y1="352" x2="554.4" y2="358.2" stroke="#e8b090" stroke-width="1.7" stroke-linecap="round"/>
<circle cx="554.4" cy="358.2" r="1.4" fill="#f0c0a0"/>
<line x1="560.8" y1="350.7" x2="554.1" y2="354.8" stroke="#e8b090" stroke-width="1.6" stroke-linecap="round"/>
<circle cx="554.1" cy="354.8" r="1" fill="#f0c0a0"/>
<line x1="559.5" y1="347.4" x2="553.2" y2="348.9" stroke="#e8b090" stroke-width="1.7" stroke-linecap="round"/>
<circle cx="553.2" cy="348.9" r="1.2" fill="#f0c0a0"/>
<line x1="559.2" y1="345.6" x2="549.8" y2="346.1" stroke="#e8b090" stroke-width="1.4" stroke-linecap="round"/>
<circle cx="549.8" cy="346.1" r="1" fill="#f0c0a0"/>
<line x1="559.5" y1="342.4" x2="553" y2="340.8" stroke="#e8b090" stroke-width="1.3" stroke-linecap="round"/>
<circle cx="553" cy="340.8" r="1.4" fill="#f0c0a0"/>
<line x1="560.6" y1="339.7" x2="555.3" y2="336.7" stroke="#e8b090" stroke-width="1.7" stroke-linecap="round"/>
<circle cx="555.3" cy="336.7" r="0.9" fill="#f0c0a0"/>
<line x1="561.7" y1="338" x2="553.5" y2="331.1" stroke="#e8b090" stroke-width="1.6" stroke-linecap="round"/>
<circle cx="553.5" cy="331.1" r="1" fill="#f0c0a0"/>
<line x1="563.7" y1="336.2" x2="559" y2="329.7" stroke="#e8b090" stroke-width="1.3" stroke-linecap="round"/>
<circle cx="559" cy="329.7" r="1.4" fill="#f0c0a0"/>
<line x1="565.5" y1="335.2" x2="562.1" y2="327.7" stroke="#e8b090" stroke-width="1.6" stroke-linecap="round"/>
<circle cx="562.1" cy="327.7" r="1.1" fill="#f0c0a0"/>
<line x1="569.4" y1="334.2" x2="569.1" y2="326.9" stroke="#e8b090" stroke-width="1.8" stroke-linecap="round"/>
<circle cx="569.1" cy="326.9" r="1.4" fill="#f0c0a0"/>
<line x1="571.6" y1="334.3" x2="573.1" y2="323.8" stroke="#e8b090" stroke-width="1.5" stroke-linecap="round"/>
<circle cx="573.1" cy="323.8" r="1.3" fill="#f0c0a0"/>
<line x1="574.3" y1="335.1" x2="577.7" y2="327.1" stroke="#e8b090" stroke-width="1.5" stroke-linecap="round"/>
<circle cx="577.7" cy="327.1" r="1.3" fill="#f0c0a0"/>
<line x1="576" y1="336" x2="579.6" y2="330.7" stroke="#e8b090" stroke-width="1.6" stroke-linecap="round"/>
<circle cx="579.6" cy="330.7" r="1" fill="#f0c0a0"/>
<line x1="578.1" y1="337.8" x2="585.6" y2="331.1" stroke="#e8b090" stroke-width="1.3" stroke-linecap="round"/>
<circle cx="585.6" cy="331.1" r="0.9" fill="#f0c0a0"/>
<line x1="579.3" y1="339.5" x2="587.1" y2="334.8" stroke="#e8b090" stroke-width="1.4" stroke-linecap="round"/>
<circle cx="587.1" cy="334.8" r="1" fill="#f0c0a0"/>
<line x1="580.5" y1="342.3" x2="591" y2="339.7" stroke="#e8b090" stroke-width="1.4" stroke-linecap="round"/>
<circle cx="591" cy="339.7" r="1.1" fill="#f0c0a0"/>
<circle cx="570" cy="345" r="12" fill="url(#gPink)"/>
<circle cx="570" cy="345" r="11" fill="none" stroke="#f4c8c0" stroke-width="2.2" stroke-dasharray="1.5 1.5" opacity="0.9"/>
<line x1="469.6" y1="462.6" x2="480.9" y2="462.3" stroke="#f0a070" stroke-width="1.3" stroke-linecap="round"/>
<circle cx="480.9" cy="462.3" r="1" fill="#f8c8a0"/>
<line x1="469.5" y1="464.7" x2="476.6" y2="465.7" stroke="#f0a070" stroke-width="1.8" stroke-linecap="round"/>
<circle cx="476.6" cy="465.7" r="0.8" fill="#f8c8a0"/>
<line x1="468.7" y1="467.7" x2="476.5" y2="470.9" stroke="#f0a070" stroke-width="1.5" stroke-linecap="round"/>
<circle cx="476.5" cy="470.9" r="0.9" fill="#f8c8a0"/>
<line x1="467.9" y1="469.3" x2="477.1" y2="474.5" stroke="#f0a070" stroke-width="1.3" stroke-linecap="round"/>
<circle cx="477.1" cy="474.5" r="0.8" fill="#f8c8a0"/>
<line x1="466.7" y1="471" x2="472.4" y2="475.6" stroke="#f0a070" stroke-width="1.4" stroke-linecap="round"/>
<circle cx="472.4" cy="475.6" r="1.1" fill="#f8c8a0"/>
<line x1="464.7" y1="473" x2="468.7" y2="478.1" stroke="#f0a070" stroke-width="1.4" stroke-linecap="round"/>
<circle cx="468.7" cy="478.1" r="1.2" fill="#f8c8a0"/>
<line x1="463.2" y1="474" x2="467.7" y2="482.2" stroke="#f0a070" stroke-width="1.4" stroke-linecap="round"/>
<circle cx="467.7" cy="482.2" r="1" fill="#f8c8a0"/>
<line x1="460.7" y1="475.1" x2="463.5" y2="484.4" stroke="#f0a070" stroke-width="1.5" stroke-linecap="round"/>
<circle cx="463.5" cy="484.4" r="1" fill="#f8c8a0"/>
<line x1="457.6" y1="475.6" x2="458" y2="484.7" stroke="#f0a070" stroke-width="1.3" stroke-linecap="round"/>
<circle cx="458" cy="484.7" r="0.7" fill="#f8c8a0"/>
<line x1="455.2" y1="475.5" x2="454" y2="484" stroke="#f0a070" stroke-width="1.3" stroke-linecap="round"/>
<circle cx="454" cy="484" r="1.1" fill="#f8c8a0"/>
<line x1="453.4" y1="475.1" x2="450.6" y2="484.7" stroke="#f0a070" stroke-width="1.7" stroke-linecap="round"/>
<circle cx="450.6" cy="484.7" r="0.8" fill="#f8c8a0"/>
<line x1="451.6" y1="474.4" x2="446.9" y2="484.2" stroke="#f0a070" stroke-width="1.3" stroke-linecap="round"/>
<circle cx="446.9" cy="484.2" r="1.1" fill="#f8c8a0"/>
<line x1="449.9" y1="473.4" x2="444.3" y2="481.4" stroke="#f0a070" stroke-width="1.6" stroke-linecap="round"/>
<circle cx="444.3" cy="481.4" r="1.1" fill="#f8c8a0"/>
<line x1="447.4" y1="471.1" x2="440.7" y2="476.7" stroke="#f0a070" stroke-width="1.3" stroke-linecap="round"/>
<circle cx="440.7" cy="476.7" r="0.8" fill="#f8c8a0"/>
<line x1="446.3" y1="469.6" x2="438.8" y2="474.2" stroke="#f0a070" stroke-width="1.2" stroke-linecap="round"/>
<circle cx="438.8" cy="474.2" r="1.1" fill="#f8c8a0"/>
<line x1="445.2" y1="467.5" x2="436.1" y2="471.1" stroke="#f0a070" stroke-width="1.3" stroke-linecap="round"/>
<circle cx="436.1" cy="471.1" r="0.8" fill="#f8c8a0"/>
<line x1="444.8" y1="466" x2="437.2" y2="467.8" stroke="#f0a070" stroke-width="1.4" stroke-linecap="round"/>
<circle cx="437.2" cy="467.8" r="0.9" fill="#f8c8a0"/>
<line x1="444.4" y1="463.2" x2="433.8" y2="463.3" stroke="#f0a070" stroke-width="1.7" stroke-linecap="round"/>
<circle cx="433.8" cy="463.3" r="0.8" fill="#f8c8a0"/>
<line x1="444.6" y1="460.8" x2="437.9" y2="459.7" stroke="#f0a070" stroke-width="1.6" stroke-linecap="round"/>
<circle cx="437.9" cy="459.7" r="1.2" fill="#f8c8a0"/>
<line x1="445.1" y1="458.8" x2="435.5" y2="455.5" stroke="#f0a070" stroke-width="1.4" stroke-linecap="round"/>
<circle cx="435.5" cy="455.5" r="0.7" fill="#f8c8a0"/>
<line x1="446.5" y1="456.1" x2="440" y2="451.8" stroke="#f0a070" stroke-width="1.3" stroke-linecap="round"/>
<circle cx="440" cy="451.8" r="0.9" fill="#f8c8a0"/>
<line x1="447.4" y1="454.8" x2="441.3" y2="449.5" stroke="#f0a070" stroke-width="1.5" stroke-linecap="round"/>
<circle cx="441.3" cy="449.5" r="0.9" fill="#f8c8a0"/>
<line x1="449.5" y1="452.9" x2="445.1" y2="446.9" stroke="#f0a070" stroke-width="1.3" stroke-linecap="round"/>
<circle cx="445.1" cy="446.9" r="0.8" fill="#f8c8a0"/>
<line x1="450.9" y1="452" x2="446.6" y2="444.3" stroke="#f0a070" stroke-width="1.4" stroke-linecap="round"/>
<circle cx="446.6" cy="444.3" r="1.1" fill="#f8c8a0"/>
<line x1="453.6" y1="450.9" x2="450.9" y2="441.4" stroke="#f0a070" stroke-width="1.8" stroke-linecap="round"/>
<circle cx="450.9" cy="441.4" r="0.7" fill="#f8c8a0"/>
<line x1="455.2" y1="450.5" x2="454.2" y2="444" stroke="#f0a070" stroke-width="1.4" stroke-linecap="round"/>
<circle cx="454.2" cy="444" r="1" fill="#f8c8a0"/>
<line x1="458.5" y1="450.5" x2="459.4" y2="442.7" stroke="#f0a070" stroke-width="1.8" stroke-linecap="round"/>
<circle cx="459.4" cy="442.7" r="0.7" fill="#f8c8a0"/>
<line x1="460.9" y1="451" x2="463.1" y2="444.4" stroke="#f0a070" stroke-width="1.7" stroke-linecap="round"/>
<circle cx="463.1" cy="444.4" r="0.7" fill="#f8c8a0"/>
<line x1="463.2" y1="452" x2="468.2" y2="443.2" stroke="#f0a070" stroke-width="1.8" stroke-linecap="round"/>
<circle cx="468.2" cy="443.2" r="1" fill="#f8c8a0"/>
<line x1="464.2" y1="452.7" x2="470.8" y2="443.4" stroke="#f0a070" stroke-width="1.5" stroke-linecap="round"/>
<circle cx="470.8" cy="443.4" r="0.8" fill="#f8c8a0"/>
<line x1="466.4" y1="454.6" x2="472.9" y2="448.9" stroke="#f0a070" stroke-width="1.5" stroke-linecap="round"/>
<circle cx="472.9" cy="448.9" r="0.8" fill="#f8c8a0"/>
<line x1="467.4" y1="455.9" x2="475" y2="450.8" stroke="#f0a070" stroke-width="1.5" stroke-linecap="round"/>
<circle cx="475" cy="450.8" r="0.8" fill="#f8c8a0"/>
<line x1="468.7" y1="458.4" x2="478" y2="454.7" stroke="#f0a070" stroke-width="1.6" stroke-linecap="round"/>
<circle cx="478" cy="454.7" r="0.9" fill="#f8c8a0"/>
<line x1="469.4" y1="460.5" x2="477.1" y2="459" stroke="#f0a070" stroke-width="1.3" stroke-linecap="round"/>
<circle cx="477.1" cy="459" r="0.8" fill="#f8c8a0"/>
<circle cx="457" cy="463" r="14" fill="url(#gPinkBig)"/>
<circle cx="457" cy="463" r="13" fill="none" stroke="#f8d0c8" stroke-width="2.5" stroke-dasharray="1.5 1.5" opacity="0.9"/>
<line x1="1014.6" y1="53.9" x2="1028.7" y2="53.8" stroke="#e8a878" stroke-width="2.1" stroke-linecap="round"/>
<circle cx="1028.7" cy="53.8" r="3.3" fill="#f6c898"/>
<line x1="1014.4" y1="57.2" x2="1029.6" y2="59.4" stroke="#e8a878" stroke-width="2.8" stroke-linecap="round"/>
<circle cx="1029.6" cy="59.4" r="2.2" fill="#f6c898"/>
<line x1="1012.7" y1="62.9" x2="1027.8" y2="69.8" stroke="#e8a878" stroke-width="2" stroke-linecap="round"/>
<circle cx="1027.8" cy="69.8" r="2.6" fill="#f6c898"/>
<line x1="1010.1" y1="67.1" x2="1022" y2="76.2" stroke="#e8a878" stroke-width="2.6" stroke-linecap="round"/>
<circle cx="1022" cy="76.2" r="2.3" fill="#f6c898"/>
<line x1="1008" y1="69.6" x2="1016" y2="77.9" stroke="#e8a878" stroke-width="2.4" stroke-linecap="round"/>
<circle cx="1016" cy="77.9" r="3.3" fill="#f6c898"/>
<line x1="1003.6" y1="72.8" x2="1012.5" y2="88.6" stroke="#e8a878" stroke-width="2.3" stroke-linecap="round"/>
<circle cx="1012.5" cy="88.6" r="3.1" fill="#f6c898"/>
<line x1="1000.7" y1="74.2" x2="1005.4" y2="86.6" stroke="#e8a878" stroke-width="2.6" stroke-linecap="round"/>
<circle cx="1005.4" cy="86.6" r="3.1" fill="#f6c898"/>
<line x1="995.5" y1="75.5" x2="996.8" y2="86.7" stroke="#e8a878" stroke-width="2.2" stroke-linecap="round"/>
<circle cx="996.8" cy="86.7" r="2.4" fill="#f6c898"/>
<line x1="991.3" y1="75.5" x2="989.9" y2="94" stroke="#e8a878" stroke-width="2.1" stroke-linecap="round"/>
<circle cx="989.9" cy="94" r="3.3" fill="#f6c898"/>
<line x1="985.4" y1="74.2" x2="981.5" y2="84.4" stroke="#e8a878" stroke-width="2.3" stroke-linecap="round"/>
<circle cx="981.5" cy="84.4" r="2.8" fill="#f6c898"/>
<line x1="983.3" y1="73.3" x2="976.8" y2="86.4" stroke="#e8a878" stroke-width="2.8" stroke-linecap="round"/>
<circle cx="976.8" cy="86.4" r="2.3" fill="#f6c898"/>
<line x1="978.4" y1="69.9" x2="970.5" y2="78.4" stroke="#e8a878" stroke-width="2.5" stroke-linecap="round"/>
<circle cx="970.5" cy="78.4" r="3.3" fill="#f6c898"/>
<line x1="976" y1="67.3" x2="967.8" y2="73.8" stroke="#e8a878" stroke-width="2" stroke-linecap="round"/>
<circle cx="967.8" cy="73.8" r="2.8" fill="#f6c898"/>
<line x1="973.8" y1="64" x2="963.9" y2="69.2" stroke="#e8a878" stroke-width="2.4" stroke-linecap="round"/>
<circle cx="963.9" cy="69.2" r="3.3" fill="#f6c898"/>
<line x1="971.9" y1="58.7" x2="957.9" y2="61.8" stroke="#e8a878" stroke-width="2.5" stroke-linecap="round"/>
<circle cx="957.9" cy="61.8" r="2.2" fill="#f6c898"/>
<line x1="971.4" y1="53.8" x2="959.3" y2="53.7" stroke="#e8a878" stroke-width="2.5" stroke-linecap="round"/>
<circle cx="959.3" cy="53.7" r="3.4" fill="#f6c898"/>
<line x1="971.7" y1="50.7" x2="955.9" y2="48.3" stroke="#e8a878" stroke-width="2.5" stroke-linecap="round"/>
<circle cx="955.9" cy="48.3" r="2.3" fill="#f6c898"/>
<line x1="973" y1="45.8" x2="954.2" y2="38.1" stroke="#e8a878" stroke-width="2.9" stroke-linecap="round"/>
<circle cx="954.2" cy="38.1" r="2.3" fill="#f6c898"/>
<line x1="975.9" y1="40.9" x2="960.1" y2="28.7" stroke="#e8a878" stroke-width="2.1" stroke-linecap="round"/>
<circle cx="960.1" cy="28.7" r="2.9" fill="#f6c898"/>
<line x1="977.6" y1="38.8" x2="967.7" y2="28.9" stroke="#e8a878" stroke-width="2.6" stroke-linecap="round"/>
<circle cx="967.7" cy="28.9" r="2.9" fill="#f6c898"/>
<line x1="982.9" y1="34.9" x2="977.6" y2="25" stroke="#e8a878" stroke-width="2.3" stroke-linecap="round"/>
<circle cx="977.6" cy="25" r="3.3" fill="#f6c898"/>
<line x1="986.5" y1="33.4" x2="982.1" y2="19.2" stroke="#e8a878" stroke-width="2.3" stroke-linecap="round"/>
<circle cx="982.1" cy="19.2" r="3.4" fill="#f6c898"/>
<line x1="990.9" y1="32.5" x2="989.9" y2="22" stroke="#e8a878" stroke-width="2.7" stroke-linecap="round"/>
<circle cx="989.9" cy="22" r="2.5" fill="#f6c898"/>
<line x1="995.1" y1="32.5" x2="996.3" y2="20" stroke="#e8a878" stroke-width="2.3" stroke-linecap="round"/>
<circle cx="996.3" cy="20" r="2.5" fill="#f6c898"/>
<line x1="998.6" y1="33.1" x2="1002.9" y2="17" stroke="#e8a878" stroke-width="2" stroke-linecap="round"/>
<circle cx="1002.9" cy="17" r="3.1" fill="#f6c898"/>
<line x1="1002.7" y1="34.7" x2="1010.8" y2="18.4" stroke="#e8a878" stroke-width="2.7" stroke-linecap="round"/>
<circle cx="1010.8" cy="18.4" r="2.8" fill="#f6c898"/>
<line x1="1007.9" y1="38.3" x2="1016.7" y2="29" stroke="#e8a878" stroke-width="2.6" stroke-linecap="round"/>
<circle cx="1016.7" cy="29" r="2.7" fill="#f6c898"/>
<line x1="1010" y1="40.7" x2="1025.8" y2="28.4" stroke="#e8a878" stroke-width="2.3" stroke-linecap="round"/>
<circle cx="1025.8" cy="28.4" r="2.6" fill="#f6c898"/>
<line x1="1013.1" y1="46.1" x2="1026.2" y2="41" stroke="#e8a878" stroke-width="2.6" stroke-linecap="round"/>
<circle cx="1026.2" cy="41" r="2.3" fill="#f6c898"/>
<line x1="1014.3" y1="50.4" x2="1027.1" y2="48.3" stroke="#e8a878" stroke-width="2" stroke-linecap="round"/>
<circle cx="1027.1" cy="48.3" r="3.4" fill="#f6c898"/>
<circle cx="993" cy="54" r="24" fill="url(#gPink)"/>
<circle cx="993" cy="54" r="23" fill="none" stroke="#f4c8c0" stroke-width="4.3" stroke-dasharray="1.5 1.5" opacity="0.9"/>
<circle cx="986" cy="50" r="4" fill="#e8a050" opacity="0.9"/>
<circle cx="999" cy="48" r="4" fill="#e8a050" opacity="0.9"/>
<circle cx="998" cy="60" r="4" fill="#e8a050" opacity="0.9"/>
<circle cx="990" cy="62" r="3" fill="#e8a050" opacity="0.9"/>
<line x1="574.5" y1="481.1" x2="579.1" y2="481.2" stroke="#f0c080" stroke-width="1.3" stroke-linecap="round"/>
<circle cx="579.1" cy="481.2" r="0.5" fill="#f8e0b0"/>
<line x1="573.9" y1="483.3" x2="578.7" y2="486.1" stroke="#f0c080" stroke-width="1.4" stroke-linecap="round"/>
<circle cx="578.7" cy="486.1" r="0.5" fill="#f8e0b0"/>
<line x1="572.8" y1="484.5" x2="575.5" y2="487.9" stroke="#f0c080" stroke-width="1.2" stroke-linecap="round"/>
<circle cx="575.5" cy="487.9" r="0.8" fill="#f8e0b0"/>
<line x1="570.4" y1="485.5" x2="570.7" y2="489.1" stroke="#f0c080" stroke-width="1.5" stroke-linecap="round"/>
<circle cx="570.7" cy="489.1" r="0.7" fill="#f8e0b0"/>
<line x1="569.1" y1="485.4" x2="568.3" y2="489.5" stroke="#f0c080" stroke-width="1.4" stroke-linecap="round"/>
<circle cx="568.3" cy="489.5" r="0.6" fill="#f8e0b0"/>
<line x1="567" y1="484.4" x2="563.6" y2="488.2" stroke="#f0c080" stroke-width="1.1" stroke-linecap="round"/>
<circle cx="563.6" cy="488.2" r="0.7" fill="#f8e0b0"/>
<line x1="565.7" y1="482.4" x2="560.1" y2="484.3" stroke="#f0c080" stroke-width="1.4" stroke-linecap="round"/>
<circle cx="560.1" cy="484.3" r="0.5" fill="#f8e0b0"/>
<line x1="565.5" y1="481.6" x2="561.7" y2="482.1" stroke="#f0c080" stroke-width="1.5" stroke-linecap="round"/>
<circle cx="561.7" cy="482.1" r="0.6" fill="#f8e0b0"/>
<line x1="565.9" y1="479.2" x2="560.6" y2="476.9" stroke="#f0c080" stroke-width="1.2" stroke-linecap="round"/>
<circle cx="560.6" cy="476.9" r="0.6" fill="#f8e0b0"/>
<line x1="567.1" y1="477.5" x2="564.8" y2="474.7" stroke="#f0c080" stroke-width="1.3" stroke-linecap="round"/>
<circle cx="564.8" cy="474.7" r="0.7" fill="#f8e0b0"/>
<line x1="568.6" y1="476.7" x2="567.3" y2="472.9" stroke="#f0c080" stroke-width="1.3" stroke-linecap="round"/>
<circle cx="567.3" cy="472.9" r="0.5" fill="#f8e0b0"/>
<line x1="571" y1="476.6" x2="572.2" y2="471.2" stroke="#f0c080" stroke-width="1.4" stroke-linecap="round"/>
<circle cx="572.2" cy="471.2" r="0.6" fill="#f8e0b0"/>
<line x1="573.1" y1="477.8" x2="575.8" y2="475" stroke="#f0c080" stroke-width="1.3" stroke-linecap="round"/>
<circle cx="575.8" cy="475" r="0.6" fill="#f8e0b0"/>
<line x1="574.1" y1="479.2" x2="577.6" y2="477.6" stroke="#f0c080" stroke-width="1.4" stroke-linecap="round"/>
<circle cx="577.6" cy="477.6" r="0.5" fill="#f8e0b0"/>
<circle cx="570" cy="481" r="5" fill="url(#gOrange)"/>
<line x1="997.4" y1="182.9" x2="1003.3" y2="182.9" stroke="#b0a090" stroke-width="1.9" stroke-linecap="round"/>
<circle cx="1003.3" cy="182.9" r="0.5" fill="#d0c0b0"/>
<line x1="996.9" y1="185.4" x2="1002.2" y2="188" stroke="#b0a090" stroke-width="1.4" stroke-linecap="round"/>
<circle cx="1002.2" cy="188" r="0.5" fill="#d0c0b0"/>
<line x1="995.2" y1="187.3" x2="999.1" y2="192.6" stroke="#b0a090" stroke-width="1.3" stroke-linecap="round"/>
<circle cx="999.1" cy="192.6" r="0.5" fill="#d0c0b0"/>
<line x1="993.8" y1="188.1" x2="996" y2="194.4" stroke="#b0a090" stroke-width="1.7" stroke-linecap="round"/>
<circle cx="996" cy="194.4" r="0.4" fill="#d0c0b0"/>
<line x1="990.1" y1="188.1" x2="987.7" y2="194.7" stroke="#b0a090" stroke-width="1.7" stroke-linecap="round"/>
<circle cx="987.7" cy="194.7" r="0.6" fill="#d0c0b0"/>
<line x1="989" y1="187.5" x2="986.7" y2="191.1" stroke="#b0a090" stroke-width="1.6" stroke-linecap="round"/>
<circle cx="986.7" cy="191.1" r="0.4" fill="#d0c0b0"/>
<line x1="987.3" y1="185.7" x2="983.1" y2="188.2" stroke="#b0a090" stroke-width="1.3" stroke-linecap="round"/>
<circle cx="983.1" cy="188.2" r="0.5" fill="#d0c0b0"/>
<line x1="986.6" y1="183.1" x2="979.9" y2="183.2" stroke="#b0a090" stroke-width="1.6" stroke-linecap="round"/>
<circle cx="979.9" cy="183.2" r="0.6" fill="#d0c0b0"/>
<line x1="987.1" y1="180.7" x2="981.6" y2="178" stroke="#b0a090" stroke-width="1.6" stroke-linecap="round"/>
<circle cx="981.6" cy="178" r="0.5" fill="#d0c0b0"/>
<line x1="989.2" y1="178.4" x2="985.5" y2="172.2" stroke="#b0a090" stroke-width="1.8" stroke-linecap="round"/>
<circle cx="985.5" cy="172.2" r="0.6" fill="#d0c0b0"/>
<line x1="990.5" y1="177.8" x2="989.2" y2="173.1" stroke="#b0a090" stroke-width="1.5" stroke-linecap="round"/>
<circle cx="989.2" cy="173.1" r="0.4" fill="#d0c0b0"/>
<line x1="993.6" y1="177.8" x2="995.2" y2="172.7" stroke="#b0a090" stroke-width="1.8" stroke-linecap="round"/>
<circle cx="995.2" cy="172.7" r="0.5" fill="#d0c0b0"/>
<line x1="995.9" y1="179.2" x2="1000.7" y2="174.5" stroke="#b0a090" stroke-width="1.3" stroke-linecap="round"/>
<circle cx="1000.7" cy="174.5" r="0.5" fill="#d0c0b0"/>
<line x1="997.1" y1="181.2" x2="1002.4" y2="179.3" stroke="#b0a090" stroke-width="1.9" stroke-linecap="round"/>
<circle cx="1002.4" cy="179.3" r="0.5" fill="#d0c0b0"/>
<circle cx="992" cy="183" r="6" fill="url(#gOrb)"/>
<circle cx="1243" cy="78" r="118" fill="url(#gGlow)" opacity="0.6"/>
<circle cx="520" cy="84" r="44" fill="url(#gGlow)" opacity="0.5"/>
<line x1="1307.6" y1="77.8" x2="1338.5" y2="77.8" stroke="#48bdf0" stroke-width="7" stroke-linecap="round"/>
<circle cx="1338.5" cy="77.8" r="3.6" fill="#7fdcff"/>
<line x1="1307.2" y1="85.2" x2="1332.8" y2="88" stroke="#48bdf0" stroke-width="5.8" stroke-linecap="round"/>
<circle cx="1332.8" cy="88" r="4.3" fill="#7fdcff"/>
<line x1="1304.1" y1="99.1" x2="1332.3" y2="108.8" stroke="#48bdf0" stroke-width="6.7" stroke-linecap="round"/>
<circle cx="1332.3" cy="108.8" r="4.2" fill="#7fdcff"/>
<line x1="1301.5" y1="105.4" x2="1325.9" y2="116.8" stroke="#48bdf0" stroke-width="5.5" stroke-linecap="round"/>
<circle cx="1325.9" cy="116.8" r="4.4" fill="#7fdcff"/>
<line x1="1296.8" y1="113.8" x2="1325" y2="132.5" stroke="#48bdf0" stroke-width="5.2" stroke-linecap="round"/>
<circle cx="1325" cy="132.5" r="4.2" fill="#7fdcff"/>
<line x1="1289.4" y1="123" x2="1308.2" y2="141.3" stroke="#48bdf0" stroke-width="7.5" stroke-linecap="round"/>
<circle cx="1308.2" cy="141.3" r="3.5" fill="#7fdcff"/>
<line x1="1283.1" y1="128.6" x2="1305.3" y2="156.6" stroke="#48bdf0" stroke-width="6.5" stroke-linecap="round"/>
<circle cx="1305.3" cy="156.6" r="3.6" fill="#7fdcff"/>
<line x1="1269.7" y1="136.8" x2="1284.6" y2="169.9" stroke="#48bdf0" stroke-width="5.3" stroke-linecap="round"/>
<circle cx="1284.6" cy="169.9" r="3.9" fill="#7fdcff"/>
<line x1="1265.1" y1="138.7" x2="1273.5" y2="161.8" stroke="#48bdf0" stroke-width="6.9" stroke-linecap="round"/>
<circle cx="1273.5" cy="161.8" r="3.7" fill="#7fdcff"/>
<line x1="1251.9" y1="142" x2="1254.6" y2="161.6" stroke="#48bdf0" stroke-width="5.5" stroke-linecap="round"/>
<circle cx="1254.6" cy="161.6" r="4.3" fill="#7fdcff"/>
<line x1="1243.6" y1="142.6" x2="1243.9" y2="169.1" stroke="#48bdf0" stroke-width="6.8" stroke-linecap="round"/>
<circle cx="1243.9" cy="169.1" r="4" fill="#7fdcff"/>
<line x1="1233.6" y1="141.9" x2="1230.8" y2="161.1" stroke="#48bdf0" stroke-width="7.2" stroke-linecap="round"/>
<circle cx="1230.8" cy="161.1" r="4.5" fill="#7fdcff"/>
<line x1="1220.3" y1="138.5" x2="1209.4" y2="167.6" stroke="#48bdf0" stroke-width="6.1" stroke-linecap="round"/>
<circle cx="1209.4" cy="167.6" r="3.9" fill="#7fdcff"/>
<line x1="1212.6" y1="135" x2="1198" y2="162.6" stroke="#48bdf0" stroke-width="5.3" stroke-linecap="round"/>
<circle cx="1198" cy="162.6" r="3.7" fill="#7fdcff"/>
<line x1="1205.7" y1="130.7" x2="1189.4" y2="153.8" stroke="#48bdf0" stroke-width="7.4" stroke-linecap="round"/>
<circle cx="1189.4" cy="153.8" r="4" fill="#7fdcff"/>
<line x1="1199.4" y1="125.7" x2="1176.5" y2="150.7" stroke="#48bdf0" stroke-width="6.3" stroke-linecap="round"/>
<circle cx="1176.5" cy="150.7" r="4" fill="#7fdcff"/>
<line x1="1191.7" y1="117.3" x2="1170.6" y2="133.6" stroke="#48bdf0" stroke-width="6.2" stroke-linecap="round"/>
<circle cx="1170.6" cy="133.6" r="4.3" fill="#7fdcff"/>
<line x1="1186.6" y1="109.5" x2="1161.3" y2="123.6" stroke="#48bdf0" stroke-width="5.5" stroke-linecap="round"/>
<circle cx="1161.3" cy="123.6" r="4.2" fill="#7fdcff"/>
<line x1="1182.5" y1="100.6" x2="1160.1" y2="109" stroke="#48bdf0" stroke-width="6" stroke-linecap="round"/>
<circle cx="1160.1" cy="109" r="4.1" fill="#7fdcff"/>
<line x1="1179.7" y1="90.8" x2="1152.9" y2="96.2" stroke="#48bdf0" stroke-width="5.6" stroke-linecap="round"/>
<circle cx="1152.9" cy="96.2" r="3.8" fill="#7fdcff"/>
<line x1="1178.4" y1="78.1" x2="1141.9" y2="78.2" stroke="#48bdf0" stroke-width="6.4" stroke-linecap="round"/>
<circle cx="1141.9" cy="78.2" r="4.5" fill="#7fdcff"/>
<line x1="1178.9" y1="69.9" x2="1143.3" y2="65.4" stroke="#48bdf0" stroke-width="6.1" stroke-linecap="round"/>
<circle cx="1143.3" cy="65.4" r="3.7" fill="#7fdcff"/>
<line x1="1182" y1="56.6" x2="1148.4" y2="44.8" stroke="#48bdf0" stroke-width="5" stroke-linecap="round"/>
<circle cx="1148.4" cy="44.8" r="3.8" fill="#7fdcff"/>
<line x1="1186.2" y1="47.2" x2="1164.1" y2="35.2" stroke="#48bdf0" stroke-width="5.7" stroke-linecap="round"/>
<circle cx="1164.1" cy="35.2" r="3.5" fill="#7fdcff"/>
<line x1="1189.1" y1="42.3" x2="1163.9" y2="25.6" stroke="#48bdf0" stroke-width="8" stroke-linecap="round"/>
<circle cx="1163.9" cy="25.6" r="4.5" fill="#7fdcff"/>
<line x1="1197.3" y1="32.3" x2="1183.7" y2="18.7" stroke="#48bdf0" stroke-width="6" stroke-linecap="round"/>
<circle cx="1183.7" cy="18.7" r="4.3" fill="#7fdcff"/>
<line x1="1206.7" y1="24.6" x2="1189.5" y2="-0.7" stroke="#48bdf0" stroke-width="5.7" stroke-linecap="round"/>
<circle cx="1189.5" cy="-0.7" r="4" fill="#7fdcff"/>
<line x1="1213.5" y1="20.5" x2="1199.7" y2="-6.5" stroke="#48bdf0" stroke-width="5.8" stroke-linecap="round"/>
<circle cx="1199.7" cy="-6.5" r="4.4" fill="#7fdcff"/>
<line x1="1225.3" y1="15.9" x2="1219.4" y2="-5.1" stroke="#48bdf0" stroke-width="5.9" stroke-linecap="round"/>
<circle cx="1219.4" cy="-5.1" r="4.4" fill="#7fdcff"/>
<line x1="1231.6" y1="14.4" x2="1225.2" y2="-21.2" stroke="#48bdf0" stroke-width="6.5" stroke-linecap="round"/>
<circle cx="1225.2" cy="-21.2" r="4.2" fill="#7fdcff"/>
<line x1="1244.2" y1="13.4" x2="1244.7" y2="-9.3" stroke="#48bdf0" stroke-width="5.9" stroke-linecap="round"/>
<circle cx="1244.7" cy="-9.3" r="3.8" fill="#7fdcff"/>
<line x1="1254.2" y1="14.4" x2="1259.7" y2="-16.8" stroke="#48bdf0" stroke-width="5.4" stroke-linecap="round"/>
<circle cx="1259.7" cy="-16.8" r="4.4" fill="#7fdcff"/>
<line x1="1262.5" y1="16.4" x2="1269.5" y2="-5.8" stroke="#48bdf0" stroke-width="6.3" stroke-linecap="round"/>
<circle cx="1269.5" cy="-5.8" r="4.5" fill="#7fdcff"/>
<line x1="1272.7" y1="20.6" x2="1286.6" y2="-6.3" stroke="#48bdf0" stroke-width="7.8" stroke-linecap="round"/>
<circle cx="1286.6" cy="-6.3" r="4.5" fill="#7fdcff"/>
<line x1="1282.2" y1="26.7" x2="1298.4" y2="5.6" stroke="#48bdf0" stroke-width="6.8" stroke-linecap="round"/>
<circle cx="1298.4" cy="5.6" r="4.4" fill="#7fdcff"/>
<line x1="1289.9" y1="33.6" x2="1311.3" y2="13.3" stroke="#48bdf0" stroke-width="6" stroke-linecap="round"/>
<circle cx="1311.3" cy="13.3" r="3.9" fill="#7fdcff"/>
<line x1="1296.1" y1="41.2" x2="1320.1" y2="24.6" stroke="#48bdf0" stroke-width="5.1" stroke-linecap="round"/>
<circle cx="1320.1" cy="24.6" r="4.2" fill="#7fdcff"/>
<line x1="1301.6" y1="50.9" x2="1332.1" y2="36.8" stroke="#48bdf0" stroke-width="7.7" stroke-linecap="round"/>
<circle cx="1332.1" cy="36.8" r="4.4" fill="#7fdcff"/>
<line x1="1304.5" y1="58.2" x2="1336.3" y2="48" stroke="#48bdf0" stroke-width="6.1" stroke-linecap="round"/>
<circle cx="1336.3" cy="48" r="3.6" fill="#7fdcff"/>
<line x1="1306.7" y1="67" x2="1330.9" y2="62.8" stroke="#48bdf0" stroke-width="7.8" stroke-linecap="round"/>
<circle cx="1330.9" cy="62.8" r="4.2" fill="#7fdcff"/>
<circle cx="1243" cy="78" r="76" fill="url(#gBlueTR)"/>
<circle cx="1243" cy="78" r="69" fill="none" stroke="#7fe0ff" stroke-width="12" opacity="0.7"/>
<circle cx="1243" cy="78" r="74" fill="none" stroke="#e0fcff" stroke-width="2.5" opacity="0.8"/>
<path d="M1210.2,46.3 l-0.8,7" stroke="#2f7fc8" stroke-width="2" opacity="0.6"/>
<path d="M1202.2,110 l2.3,7.6" stroke="#2f7fc8" stroke-width="2" opacity="0.6"/>
<path d="M1229.1,45.6 l6.8,2" stroke="#2f7fc8" stroke-width="2" opacity="0.6"/>
<path d="M1231.4,45.3 l-5.8,10.6" stroke="#2f7fc8" stroke-width="2" opacity="0.6"/>
<path d="M1203.2,122.8 l0.2,6.2" stroke="#2f7fc8" stroke-width="2" opacity="0.6"/>
<path d="M1260.7,115.3 l5.4,10" stroke="#2f7fc8" stroke-width="2" opacity="0.6"/>
<path d="M1228.8,104.8 l13.5,0.3" stroke="#2f7fc8" stroke-width="2" opacity="0.6"/>
<path d="M1236.1,114.6 l1.6,7.4" stroke="#2f7fc8" stroke-width="2" opacity="0.6"/>
<path d="M1268.4,63.8 l-5.8,8.1" stroke="#2f7fc8" stroke-width="2" opacity="0.6"/>
<path d="M1218.6,83.5 l-9.6,5.1" stroke="#2f7fc8" stroke-width="2" opacity="0.6"/>
<path d="M1213,85.8 l-11.1,6.5" stroke="#2f7fc8" stroke-width="2" opacity="0.6"/>
<path d="M1214.3,71 l3.9,11.4" stroke="#2f7fc8" stroke-width="2" opacity="0.6"/>
<path d="M1216.6,34.5 l-2.3,13.6" stroke="#2f7fc8" stroke-width="2" opacity="0.6"/>
<path d="M1212.9,119.3 l6.3,10.1" stroke="#2f7fc8" stroke-width="2" opacity="0.6"/>
<path d="M1214.9,111.6 l7.7,3.5" stroke="#2f7fc8" stroke-width="2" opacity="0.6"/>
<path d="M1214.7,69.9 l7.9,1.2" stroke="#2f7fc8" stroke-width="2" opacity="0.6"/>
<path d="M1230.7,132.2 l-4.1,12.8" stroke="#2f7fc8" stroke-width="2" opacity="0.6"/>
<path d="M1270,50.3 l7,11.1" stroke="#2f7fc8" stroke-width="2" opacity="0.6"/>
<path d="M1229.1,61 l-4.3,12" stroke="#2f7fc8" stroke-width="2" opacity="0.6"/>
<path d="M1196.2,106.7 l7.4,8.1" stroke="#2f7fc8" stroke-width="2" opacity="0.6"/>
<path d="M1214.2,105.1 l2.8,8.6" stroke="#2f7fc8" stroke-width="2" opacity="0.6"/>
<path d="M1269.9,126.8 l5.3,5.5" stroke="#2f7fc8" stroke-width="2" opacity="0.6"/>
<path d="M1182.5,69.3 l-5.6,3.2" stroke="#2f7fc8" stroke-width="2" opacity="0.6"/>
<path d="M1268.1,25.7 l-6,6.6" stroke="#2f7fc8" stroke-width="2" opacity="0.6"/>
<path d="M1265.3,104 l-11.2,6.5" stroke="#2f7fc8" stroke-width="2" opacity="0.6"/>
<path d="M1263.7,58.5 l3.5,5.1" stroke="#2f7fc8" stroke-width="2" opacity="0.6"/>
<path d="M1246.4,84.2 l-4.6,5.7" stroke="#2f7fc8" stroke-width="2" opacity="0.6"/>
<path d="M1255.4,109.4 l4.2,6.2" stroke="#2f7fc8" stroke-width="2" opacity="0.6"/>
<path d="M1197.9,42.2 l-3.7,5.7" stroke="#2f7fc8" stroke-width="2" opacity="0.6"/>
<path d="M1200,92.4 l-4.7,9.1" stroke="#2f7fc8" stroke-width="2" opacity="0.6"/>
<path d="M1187.6,76.2 l1.1,11" stroke="#2f7fc8" stroke-width="2" opacity="0.6"/>
<path d="M1205.3,109.8 l-0.5,9.3" stroke="#2f7fc8" stroke-width="2" opacity="0.6"/>
<path d="M1233.7,129.6 l0.4,13.4" stroke="#2f7fc8" stroke-width="2" opacity="0.6"/>
<path d="M1222,24.6 l-7.4,11.5" stroke="#2f7fc8" stroke-width="2" opacity="0.6"/>
<path d="M1209.4,100.6 l-7.8,7.6" stroke="#2f7fc8" stroke-width="2" opacity="0.6"/>
<path d="M1282.1,119.2 l6.1,2.2" stroke="#2f7fc8" stroke-width="2" opacity="0.6"/>
<path d="M1259.9,84.2 l4.3,4.3" stroke="#2f7fc8" stroke-width="2" opacity="0.6"/>
<path d="M1234.7,58.8 l-10.9,1.2" stroke="#2f7fc8" stroke-width="2" opacity="0.6"/>
<path d="M1241.7,17.2 l13.5,1.2" stroke="#2f7fc8" stroke-width="2" opacity="0.6"/>
<path d="M1269.5,64.8 l7.8,5.9" stroke="#2f7fc8" stroke-width="2" opacity="0.6"/>
<circle cx="1225" cy="40" r="5" fill="#1d5aa8" stroke="#8fe0f8" stroke-width="2"/>
<circle cx="1243" cy="53" r="6" fill="#1d5aa8" stroke="#8fe0f8" stroke-width="2"/>
<circle cx="1263" cy="50" r="5.5" fill="#1d5aa8" stroke="#8fe0f8" stroke-width="2"/>
<circle cx="1211" cy="63" r="5" fill="#1d5aa8" stroke="#8fe0f8" stroke-width="2"/>
<circle cx="1231" cy="70" r="6" fill="#1d5aa8" stroke="#8fe0f8" stroke-width="2"/>
<circle cx="1253" cy="76" r="7" fill="#1d5aa8" stroke="#8fe0f8" stroke-width="2"/>
<circle cx="1276" cy="73" r="6" fill="#1d5aa8" stroke="#8fe0f8" stroke-width="2"/>
<circle cx="1218" cy="91" r="5" fill="#1d5aa8" stroke="#8fe0f8" stroke-width="2"/>
<circle cx="1238" cy="98" r="5" fill="#1d5aa8" stroke="#8fe0f8" stroke-width="2"/>
<circle cx="1263" cy="100" r="5" fill="#1d5aa8" stroke="#8fe0f8" stroke-width="2"/>
<circle cx="1288" cy="88" r="4.5" fill="#1d5aa8" stroke="#8fe0f8" stroke-width="2"/>
<circle cx="1223" cy="113" r="4.5" fill="#1d5aa8" stroke="#8fe0f8" stroke-width="2"/>
<circle cx="1248" cy="120" r="4" fill="#1d5aa8" stroke="#8fe0f8" stroke-width="2"/>
<circle cx="1278" cy="111" r="4" fill="#1d5aa8" stroke="#8fe0f8" stroke-width="2"/></svg>

<!-- title -->
<div class="t b" style="left:27px;top:37px;font-size:72px;letter-spacing:2.4px;color:#fff;-webkit-text-stroke:1.6px #fff">Influenza B</div>

<!-- left blue structure panel with notch -->
<svg class="a" style="left:0;top:0" width="300" height="570" viewBox="0 0 300 570">
 <path d="M23,147 H278 Q287,147 287,156 V551 Q287,560 278,560 H154 Q145,560 145,551 V478 Q145,469 136,469 H23 Q14,469 14,460 V156 Q14,147 23,147 Z" fill="#2e8cbe"/>
</svg>
<div class="t b" style="left:25px;top:155px;font-size:17px;line-height:20px">Influenza B<br>Stucture</div>
<div class="sm" style="left:25px;top:199px;font-size:11px;line-height:10.8px;color:#e8f4ff;transform:scaleX(0.81);transform-origin:0 0">Vie cirrrdae lims<br>Brrl les oadme hean<br>Oni fhat dorhakancle<br>ed. Bhearrae ea ua<br>ent tacck</div>

<svg style="position:absolute;left:0;top:0" width="1344" height="768" viewBox="0 0 1344 768"><path d="M237.2,250.3 L224.7,189.7 L220.3,190.5 L229.1,251.7 Z" fill="#b84a4a"/>
<line x1="234.4" y1="250.7" x2="223" y2="190" stroke="#f4b0a0" stroke-width="1.9" opacity="0.7"/>
<path d="M224.7,189.7 Q222.5,174.6 231.4,167.8 L206.6,172.2 Q217.2,175.5 220.3,190.5 Z" fill="#f4c898" stroke="#b9532f" stroke-width="1.2"/>
<ellipse cx="219" cy="170" rx="12.6" ry="5.3" transform="rotate(-9.9 219 170)" fill="#f4d2a4" stroke="#b9532f" stroke-width="1"/>
<ellipse cx="219" cy="170" rx="9.1" ry="3.5" transform="rotate(-9.9 219 170)" fill="#c9473c" opacity="0.85"/>
<path d="M308.8,269.1 L341,217.6 L336.4,214.6 L300.6,263.5 Z" fill="#b84a4a"/>
<line x1="305.9" y1="267.1" x2="339.1" y2="216.4" stroke="#f4b0a0" stroke-width="2.3" opacity="0.7"/>
<path d="M341,217.6 Q352.1,202.1 366,203.8 L340,186.2 Q346.7,198.4 336.4,214.6 Z" fill="#f4c898" stroke="#b9532f" stroke-width="1.2"/>
<ellipse cx="353" cy="195" rx="15.8" ry="6.6" transform="rotate(34.1 353 195)" fill="#f4d2a4" stroke="#b9532f" stroke-width="1"/>
<ellipse cx="353" cy="195" rx="11.3" ry="4.4" transform="rotate(34.1 353 195)" fill="#c9473c" opacity="0.85"/>
<path d="M184.6,274.6 L133.7,226.3 L130.2,229.8 L178.1,281 Z" fill="#c05050"/>
<line x1="182.3" y1="276.8" x2="132.3" y2="227.7" stroke="#f4b0a0" stroke-width="2.1" opacity="0.7"/>
<path d="M133.7,226.3 Q125.1,216.9 127.5,208.6 L112.5,223.4 Q120.9,221.1 130.2,229.8 Z" fill="#e8a070" stroke="#b9532f" stroke-width="1.2"/>
<ellipse cx="120" cy="216" rx="10.5" ry="4.4" transform="rotate(-44.8 120 216)" fill="#f4d2a4" stroke="#b9532f" stroke-width="1"/>
<ellipse cx="120" cy="216" rx="7.6" ry="2.9" transform="rotate(-44.8 120 216)" fill="#c9473c" opacity="0.85"/>
<path d="M334,297.3 L383,263.1 L380.5,259.4 L329.5,290.4 Z" fill="#b04448"/>
<line x1="332.4" y1="294.9" x2="382" y2="261.6" stroke="#f4b0a0" stroke-width="1.9" opacity="0.7"/>
<path d="M383,263.1 Q393.9,256.6 401.7,260.8 L390.3,243.2 Q391,252.1 380.5,259.4 Z" fill="#eea868" stroke="#b9532f" stroke-width="1.2"/>
<ellipse cx="396" cy="252" rx="10.5" ry="4.4" transform="rotate(56.9 396 252)" fill="#f4d2a4" stroke="#b9532f" stroke-width="1"/>
<ellipse cx="396" cy="252" rx="7.6" ry="2.9" transform="rotate(56.9 396 252)" fill="#c9473c" opacity="0.85"/>
<path d="M158.4,313.3 L81.3,290.5 L79.9,294.8 L155.9,321.1 Z" fill="#c05050"/>
<line x1="157.5" y1="316.1" x2="80.7" y2="292.2" stroke="#f4b0a0" stroke-width="1.9" opacity="0.7"/>
<path d="M81.3,290.5 Q70.5,286.6 68.9,279 L63.1,297 Q68.8,291.7 79.9,294.8 Z" fill="#f0c088" stroke="#b9532f" stroke-width="1.2"/>
<ellipse cx="66" cy="288" rx="9.5" ry="4" transform="rotate(-72.2 66 288)" fill="#f4d2a4" stroke="#b9532f" stroke-width="1"/>
<ellipse cx="66" cy="288" rx="6.8" ry="2.6" transform="rotate(-72.2 66 288)" fill="#c9473c" opacity="0.85"/>
<path d="M341.4,312.9 L407.6,283.2 L405.9,279.3 L338.4,305.7 Z" fill="#a83c44"/>
<line x1="340.4" y1="310.4" x2="406.9" y2="281.6" stroke="#f4b0a0" stroke-width="1.8" opacity="0.7"/>
<path d="M407.6,283.2 Q420.7,278.2 428.5,284.7 L419.5,263.3 Q418.7,273.4 405.9,279.3 Z" fill="#eea868" stroke="#b9532f" stroke-width="1.2"/>
<ellipse cx="424" cy="274" rx="11.6" ry="4.9" transform="rotate(67.2 424 274)" fill="#f4d2a4" stroke="#b9532f" stroke-width="1"/>
<ellipse cx="424" cy="274" rx="8.3" ry="3.2" transform="rotate(67.2 424 274)" fill="#c9473c" opacity="0.85"/>
<path d="M344.7,323.2 L418,298.2 L416.3,292.8 L341.7,313.4 Z" fill="#a83c44"/>
<line x1="343.6" y1="319.8" x2="417.3" y2="296" stroke="#f4b0a0" stroke-width="2.3" opacity="0.7"/>
<path d="M418,298.2 Q431.5,294.6 438.4,301 L431.6,279 Q429.5,288.2 416.3,292.8 Z" fill="#f4c898" stroke="#b9532f" stroke-width="1.2"/>
<ellipse cx="435" cy="290" rx="11.6" ry="4.9" transform="rotate(72.9 435 290)" fill="#f4d2a4" stroke="#b9532f" stroke-width="1"/>
<ellipse cx="435" cy="290" rx="8.3" ry="3.2" transform="rotate(72.9 435 290)" fill="#c9473c" opacity="0.85"/>
<path d="M153.5,332 L56.9,324.9 L56.3,330.8 L152.4,342.8 Z" fill="#c45a56"/>
<line x1="153.1" y1="335.8" x2="56.7" y2="327.3" stroke="#f4b0a0" stroke-width="2.5" opacity="0.7"/>
<path d="M56.9,324.9 Q43,322.9 39.1,314.5 L36.9,337.5 Q42.3,330 56.3,330.8 Z" fill="#f4c898" stroke="#b9532f" stroke-width="1.2"/>
<ellipse cx="38" cy="326" rx="11.6" ry="4.9" transform="rotate(-84.3 38 326)" fill="#f4d2a4" stroke="#b9532f" stroke-width="1"/>
<ellipse cx="38" cy="326" rx="8.3" ry="3.2" transform="rotate(-84.3 38 326)" fill="#c9473c" opacity="0.85"/>
<path d="M153,336 L96.6,333.7 L96.3,338 L152.5,343.9 Z" fill="#c45a56"/>
<line x1="152.8" y1="338.8" x2="96.5" y2="335.4" stroke="#f4b0a0" stroke-width="1.8" opacity="0.7"/>
<path d="M96.6,333.7 Q77.5,331.9 72.1,318.3 L69.9,349.7 Q77.2,337.1 96.3,338 Z" fill="#f0c088" stroke="#b9532f" stroke-width="1.2"/>
<ellipse cx="71" cy="334" rx="15.8" ry="6.6" transform="rotate(-85.8 71 334)" fill="#f4d2a4" stroke="#b9532f" stroke-width="1"/>
<ellipse cx="71" cy="334" rx="11.3" ry="4.4" transform="rotate(-85.8 71 334)" fill="#c9473c" opacity="0.85"/>
<path d="M347.6,344.1 L428.8,335.6 L428.4,330.4 L346.8,334.6 Z" fill="#b84a4a"/>
<line x1="347.3" y1="340.8" x2="428.6" y2="333.5" stroke="#f4b0a0" stroke-width="2.2" opacity="0.7"/>
<path d="M428.8,335.6 Q447.9,334.6 455.2,346.7 L452.8,315.3 Q447.4,328.4 428.4,330.4 Z" fill="#f2b878" stroke="#b9532f" stroke-width="1.2"/>
<ellipse cx="454" cy="331" rx="15.8" ry="6.6" transform="rotate(85.5 454 331)" fill="#f4d2a4" stroke="#b9532f" stroke-width="1"/>
<ellipse cx="454" cy="331" rx="11.3" ry="4.4" transform="rotate(85.5 454 331)" fill="#c9473c" opacity="0.85"/>
<path d="M345.1,368.9 L416.5,379.8 L417.4,374.9 L346.7,360 Z" fill="#b04448"/>
<line x1="345.7" y1="365.8" x2="416.8" y2="377.8" stroke="#f4b0a0" stroke-width="2" opacity="0.7"/>
<path d="M416.5,379.8 Q431.5,383 434.7,393.4 L439.3,368.6 Q432.5,377.2 417.4,374.9 Z" fill="#eea868" stroke="#b9532f" stroke-width="1.2"/>
<ellipse cx="437" cy="381" rx="12.6" ry="5.3" transform="rotate(100.3 437 381)" fill="#f4d2a4" stroke="#b9532f" stroke-width="1"/>
<ellipse cx="437" cy="381" rx="9.1" ry="3.5" transform="rotate(100.3 437 381)" fill="#c9473c" opacity="0.85"/>
<path d="M343.9,373.7 L427.3,391.8 L428.3,387.5 L345.8,365.7 Z" fill="#b84a4a"/>
<line x1="344.5" y1="370.9" x2="427.7" y2="390.1" stroke="#f4b0a0" stroke-width="1.9" opacity="0.7"/>
<path d="M427.3,391.8 Q440.8,395.5 443.3,405.2 L448.7,382.8 Q442.1,390.3 428.3,387.5 Z" fill="#eea868" stroke="#b9532f" stroke-width="1.2"/>
<ellipse cx="446" cy="394" rx="11.6" ry="4.9" transform="rotate(103.5 446 394)" fill="#f4d2a4" stroke="#b9532f" stroke-width="1"/>
<ellipse cx="446" cy="394" rx="8.3" ry="3.2" transform="rotate(103.5 446 394)" fill="#c9473c" opacity="0.85"/>
<path d="M159.7,384 L72.4,427.1 L74.6,431.7 L163.6,392.5 Z" fill="#c45a56"/>
<line x1="161.1" y1="387" x2="73.3" y2="428.9" stroke="#f4b0a0" stroke-width="2.1" opacity="0.7"/>
<path d="M72.4,427.1 Q58.3,433.1 49.7,426.6 L60.3,449.4 Q60.9,438.6 74.6,431.7 Z" fill="#e8a070" stroke="#b9532f" stroke-width="1.2"/>
<ellipse cx="55" cy="438" rx="12.6" ry="5.3" transform="rotate(245 55 438)" fill="#f4d2a4" stroke="#b9532f" stroke-width="1"/>
<ellipse cx="55" cy="438" rx="9.1" ry="3.5" transform="rotate(245 55 438)" fill="#c9473c" opacity="0.85"/>
<path d="M163.7,392.7 L118.5,422.5 L121.3,427.3 L169,401.4 Z" fill="#a83c44"/>
<line x1="165.6" y1="395.8" x2="119.6" y2="424.4" stroke="#f4b0a0" stroke-width="2.3" opacity="0.7"/>
<path d="M118.5,422.5 Q101.8,431.9 89.9,424.5 L106.1,451.5 Q105.2,437.6 121.3,427.3 Z" fill="#e8a070" stroke="#b9532f" stroke-width="1.2"/>
<ellipse cx="98" cy="438" rx="15.8" ry="6.6" transform="rotate(239.1 98 438)" fill="#f4d2a4" stroke="#b9532f" stroke-width="1"/>
<ellipse cx="98" cy="438" rx="11.3" ry="4.4" transform="rotate(239.1 98 438)" fill="#c9473c" opacity="0.85"/>
<path d="M336.7,391.7 L396.6,417.4 L398.4,413.4 L340.1,384.4 Z" fill="#a83c44"/>
<line x1="337.9" y1="389.1" x2="397.3" y2="415.8" stroke="#f4b0a0" stroke-width="1.8" opacity="0.7"/>
<path d="M396.6,417.4 Q410.3,424.3 410.7,435.4 L421.3,412.6 Q412.5,419.5 398.4,413.4 Z" fill="#f4c898" stroke="#b9532f" stroke-width="1.2"/>
<ellipse cx="416" cy="424" rx="12.6" ry="5.3" transform="rotate(114.9 416 424)" fill="#f4d2a4" stroke="#b9532f" stroke-width="1"/>
<ellipse cx="416" cy="424" rx="9.1" ry="3.5" transform="rotate(114.9 416 424)" fill="#c9473c" opacity="0.85"/>
<path d="M212.4,437 L188,508.1 L192.1,509.6 L219.9,439.8 Z" fill="#b04448"/>
<line x1="215" y1="438" x2="189.7" y2="508.7" stroke="#f4b0a0" stroke-width="1.8" opacity="0.7"/>
<path d="M188,508.1 Q182.3,522.3 171.2,523.6 L194.8,532.4 Q187.2,524.1 192.1,509.6 Z" fill="#f2b878" stroke="#b9532f" stroke-width="1.2"/>
<ellipse cx="183" cy="528" rx="12.6" ry="5.3" transform="rotate(200.3 183 528)" fill="#f4d2a4" stroke="#b9532f" stroke-width="1"/>
<ellipse cx="183" cy="528" rx="9.1" ry="3.5" transform="rotate(200.3 183 528)" fill="#c9473c" opacity="0.85"/>
<path d="M304.8,427.8 L340.3,470.5 L345,467 L313.3,421.4 Z" fill="#b84a4a"/>
<line x1="307.8" y1="425.6" x2="342.2" y2="469.1" stroke="#f4b0a0" stroke-width="2.4" opacity="0.7"/>
<path d="M340.3,470.5 Q349.1,483 345,492.6 L365,477.4 Q354.7,478.8 345,467 Z" fill="#e8a070" stroke="#b9532f" stroke-width="1.2"/>
<ellipse cx="355" cy="485" rx="12.6" ry="5.3" transform="rotate(142.7 355 485)" fill="#f4d2a4" stroke="#b9532f" stroke-width="1"/>
<ellipse cx="355" cy="485" rx="9.1" ry="3.5" transform="rotate(142.7 355 485)" fill="#c9473c" opacity="0.85"/>
<circle cx="250" cy="347" r="130" fill="url(#gBlue)"/>
<ellipse cx="329.9" cy="323.2" rx="8.2" ry="8" transform="rotate(164 329.9 323.2)" fill="#174f9e" opacity="0.45"/>
<ellipse cx="298.4" cy="333.2" rx="12.2" ry="8.4" transform="rotate(35 298.4 333.2)" fill="#174f9e" opacity="0.45"/>
<ellipse cx="280.5" cy="367.7" rx="8.9" ry="5.1" transform="rotate(114 280.5 367.7)" fill="#174f9e" opacity="0.45"/>
<ellipse cx="330.3" cy="386" rx="9.2" ry="6.4" transform="rotate(77 330.3 386)" fill="#174f9e" opacity="0.45"/>
<ellipse cx="216.7" cy="413" rx="12.9" ry="6.1" transform="rotate(42 216.7 413)" fill="#174f9e" opacity="0.45"/>
<ellipse cx="276.8" cy="313.5" rx="10" ry="8.7" transform="rotate(11 276.8 313.5)" fill="#174f9e" opacity="0.45"/>
<ellipse cx="171.8" cy="344.6" rx="15.5" ry="5.3" transform="rotate(2 171.8 344.6)" fill="#174f9e" opacity="0.45"/>
<ellipse cx="291.3" cy="299.8" rx="12" ry="7.8" transform="rotate(59 291.3 299.8)" fill="#174f9e" opacity="0.45"/>
<ellipse cx="233.4" cy="299.2" rx="11.1" ry="5.2" transform="rotate(99 233.4 299.2)" fill="#174f9e" opacity="0.45"/>
<ellipse cx="244.1" cy="307.7" rx="17.9" ry="9.1" transform="rotate(140 244.1 307.7)" fill="#174f9e" opacity="0.45"/>
<ellipse cx="186.8" cy="315.8" rx="13.5" ry="5.3" transform="rotate(152 186.8 315.8)" fill="#174f9e" opacity="0.45"/>
<ellipse cx="334.5" cy="329.3" rx="11.1" ry="8.5" transform="rotate(134 334.5 329.3)" fill="#174f9e" opacity="0.45"/>
<ellipse cx="282.5" cy="428.4" rx="14.2" ry="6.6" transform="rotate(51 282.5 428.4)" fill="#174f9e" opacity="0.45"/>
<ellipse cx="225.1" cy="401.6" rx="17.9" ry="5.5" transform="rotate(19 225.1 401.6)" fill="#174f9e" opacity="0.45"/>
<ellipse cx="193.1" cy="289" rx="16.1" ry="9.9" transform="rotate(129 193.1 289)" fill="#174f9e" opacity="0.45"/>
<ellipse cx="328.8" cy="356.8" rx="14.4" ry="7.2" transform="rotate(132 328.8 356.8)" fill="#174f9e" opacity="0.45"/>
<ellipse cx="301.2" cy="296.2" rx="8.7" ry="5.1" transform="rotate(169 301.2 296.2)" fill="#174f9e" opacity="0.45"/>
<ellipse cx="251.2" cy="413.3" rx="15" ry="9.1" transform="rotate(109 251.2 413.3)" fill="#174f9e" opacity="0.45"/>
<path d="M257.2,431.3 q-3.7,-2.3 -13.3,1.4" stroke="#5ab8f0" stroke-width="3.1" fill="none" opacity="0.75" stroke-linecap="round"/>
<path d="M348.6,370.6 q2.6,2.2 -0.9,10.4" stroke="#b5ecff" stroke-width="3" fill="none" opacity="0.75" stroke-linecap="round"/>
<path d="M172.6,267.8 q10.8,-8 15.7,-10.1" stroke="#b5ecff" stroke-width="2.7" fill="none" opacity="0.75" stroke-linecap="round"/>
<path d="M253.1,450.6 q-7.3,-1.3 -20.5,3.4" stroke="#b5ecff" stroke-width="2.1" fill="none" opacity="0.75" stroke-linecap="round"/>
<path d="M228.2,258.9 q11.3,-9.3 16.5,-12.5" stroke="#1d5fb0" stroke-width="2" fill="none" opacity="0.75" stroke-linecap="round"/>
<path d="M297.9,409.1 q-0.1,4.2 -6.3,14.4" stroke="#6cc8f5" stroke-width="2.6" fill="none" opacity="0.75" stroke-linecap="round"/>
<path d="M246.6,270.3 q12.3,2.6 18.6,11.3" stroke="#1d5fb0" stroke-width="2.7" fill="none" opacity="0.75" stroke-linecap="round"/>
<path d="M221,395.9 q-3.2,-8.8 -12.4,-11.6" stroke="#6cc8f5" stroke-width="1.6" fill="none" opacity="0.75" stroke-linecap="round"/>
<path d="M228.9,345 q9.4,-11.4 12.9,-16.9" stroke="#5ab8f0" stroke-width="2.4" fill="none" opacity="0.75" stroke-linecap="round"/>
<path d="M226.8,290.4 q9.3,-9.5 12.6,-12.9" stroke="#2a78c8" stroke-width="2.3" fill="none" opacity="0.75" stroke-linecap="round"/>
<path d="M188.6,291.4 q5,-8.6 4,-11.2" stroke="#2a78c8" stroke-width="2.6" fill="none" opacity="0.75" stroke-linecap="round"/>
<path d="M289,340.9 q4.8,2.2 3.6,10.4" stroke="#5ab8f0" stroke-width="3.1" fill="none" opacity="0.75" stroke-linecap="round"/>
<path d="M354.5,359.5 q6.2,3.8 6.3,13.6" stroke="#b5ecff" stroke-width="2.3" fill="none" opacity="0.75" stroke-linecap="round"/>
<path d="M333.9,342.1 q7.9,6.4 9.8,18.8" stroke="#6cc8f5" stroke-width="1.8" fill="none" opacity="0.75" stroke-linecap="round"/>
<path d="M326.3,348.4 q2.5,2.1 -1.1,10.3" stroke="#2a78c8" stroke-width="2.4" fill="none" opacity="0.75" stroke-linecap="round"/>
<path d="M260.6,372.7 q-3.5,-0.8 -12.9,4.4" stroke="#1d5fb0" stroke-width="2.5" fill="none" opacity="0.75" stroke-linecap="round"/>
<path d="M151.9,289.3 q8.6,-7.6 11.2,-9.3" stroke="#5ab8f0" stroke-width="2.5" fill="none" opacity="0.75" stroke-linecap="round"/>
<path d="M278.7,326 q5.9,5.8 5.8,17.5" stroke="#1d5fb0" stroke-width="1.8" fill="none" opacity="0.75" stroke-linecap="round"/>
<path d="M162.8,332.3 q4.2,-10.7 2.4,-15.3" stroke="#5ab8f0" stroke-width="2.9" fill="none" opacity="0.75" stroke-linecap="round"/>
<path d="M241,419.3 q-3.4,-2.2 -12.9,1.5" stroke="#5ab8f0" stroke-width="1.5" fill="none" opacity="0.75" stroke-linecap="round"/>
<path d="M194.6,248.9 q5.9,-7.5 5.8,-8.9" stroke="#1d5fb0" stroke-width="2.1" fill="none" opacity="0.75" stroke-linecap="round"/>
<path d="M289,410.4 q-2.5,2.9 -11,11.9" stroke="#5ab8f0" stroke-width="2.2" fill="none" opacity="0.75" stroke-linecap="round"/>
<path d="M252.5,369.4 q-3,-0.4 -11.9,5.2" stroke="#1d5fb0" stroke-width="2.7" fill="none" opacity="0.75" stroke-linecap="round"/>
<path d="M144.3,330.5 q5.4,-6.9 4.7,-7.8" stroke="#1d5fb0" stroke-width="2.4" fill="none" opacity="0.75" stroke-linecap="round"/>
<path d="M166.2,280.6 q9.3,-8.6 12.6,-11.2" stroke="#8fe0ff" stroke-width="2.7" fill="none" opacity="0.75" stroke-linecap="round"/>
<path d="M296.3,422 q-6.8,-1.2 -19.6,3.7" stroke="#6cc8f5" stroke-width="2.7" fill="none" opacity="0.75" stroke-linecap="round"/>
<path d="M260.1,289.4 q13.1,-0.8 20.2,4.4" stroke="#8fe0ff" stroke-width="3.1" fill="none" opacity="0.75" stroke-linecap="round"/>
<path d="M323.1,319 q3.1,7.6 0.3,21.1" stroke="#8fe0ff" stroke-width="3.1" fill="none" opacity="0.75" stroke-linecap="round"/>
<path d="M245,399 q-1.2,-2.8 -8.3,0.4" stroke="#5ab8f0" stroke-width="1.8" fill="none" opacity="0.75" stroke-linecap="round"/>
<path d="M132.2,319.7 q1.7,-13.1 -2.5,-20.2" stroke="#b5ecff" stroke-width="2.4" fill="none" opacity="0.75" stroke-linecap="round"/>
<path d="M243,236.8 q12.9,-5.3 19.8,-4.6" stroke="#8fe0ff" stroke-width="1.9" fill="none" opacity="0.75" stroke-linecap="round"/>
<path d="M192,424.8 q-1.1,-10.7 -8.2,-15.4" stroke="#b5ecff" stroke-width="1.7" fill="none" opacity="0.75" stroke-linecap="round"/>
<path d="M231.8,356.6 q-4,-7 -14,-8" stroke="#5ab8f0" stroke-width="2.8" fill="none" opacity="0.75" stroke-linecap="round"/>
<path d="M275.1,452 q-4.1,-0.1 -14.3,5.9" stroke="#b5ecff" stroke-width="2" fill="none" opacity="0.75" stroke-linecap="round"/>
<path d="M223.6,304.1 q9.9,-7.6 13.7,-9.3" stroke="#2a78c8" stroke-width="2.8" fill="none" opacity="0.75" stroke-linecap="round"/>
<path d="M248.1,448.1 q-4,-2.1 -13.9,1.8" stroke="#2a78c8" stroke-width="2.3" fill="none" opacity="0.75" stroke-linecap="round"/>
<path d="M265.9,327.4 q5.8,1.7 5.6,9.3" stroke="#6cc8f5" stroke-width="2.5" fill="none" opacity="0.75" stroke-linecap="round"/>
<path d="M240.5,235.1 q11,1.4 15.9,8.9" stroke="#2a78c8" stroke-width="1.7" fill="none" opacity="0.75" stroke-linecap="round"/>
<path d="M253.9,324.7 q13,-3.7 20.1,-1.4" stroke="#2a78c8" stroke-width="1.8" fill="none" opacity="0.75" stroke-linecap="round"/>
<path d="M244.1,287.5 q12.6,-4.2 19.2,-2.3" stroke="#8fe0ff" stroke-width="1.5" fill="none" opacity="0.75" stroke-linecap="round"/>
<path d="M330.9,435.6 q-0.9,2 -7.7,10" stroke="#b5ecff" stroke-width="2.6" fill="none" opacity="0.75" stroke-linecap="round"/>
<path d="M216,256.2 q13,-3.6 20.1,-1.1" stroke="#6cc8f5" stroke-width="2.6" fill="none" opacity="0.75" stroke-linecap="round"/>
<path d="M146.2,374.5 q4,-7.8 2.1,-9.5" stroke="#b5ecff" stroke-width="2.9" fill="none" opacity="0.75" stroke-linecap="round"/>
<path d="M354.7,402.2 q-0.7,1.9 -7.4,9.8" stroke="#1d5fb0" stroke-width="2.8" fill="none" opacity="0.75" stroke-linecap="round"/>
<path d="M346.2,420.8 q-3.1,2.6 -12.3,11.2" stroke="#b5ecff" stroke-width="1.9" fill="none" opacity="0.75" stroke-linecap="round"/>
<path d="M229.7,260.9 q8.5,-3 11,-0.1" stroke="#6cc8f5" stroke-width="3.1" fill="none" opacity="0.75" stroke-linecap="round"/>
<path d="M340.5,352.2 q5,6.7 4,19.4" stroke="#6cc8f5" stroke-width="2.7" fill="none" opacity="0.75" stroke-linecap="round"/>
<path d="M307.6,403.4 q-5.3,2.8 -16.7,11.7" stroke="#8fe0ff" stroke-width="3.2" fill="none" opacity="0.75" stroke-linecap="round"/>
<path d="M232.9,289 q10.2,-4.8 14.4,-3.5" stroke="#b5ecff" stroke-width="2.1" fill="none" opacity="0.75" stroke-linecap="round"/>
<path d="M184.2,271.7 q7.1,-8.1 8.1,-10.3" stroke="#2a78c8" stroke-width="2.6" fill="none" opacity="0.75" stroke-linecap="round"/>
<path d="M165.6,339.7 q5.3,-8 4.7,-10.1" stroke="#8fe0ff" stroke-width="2.9" fill="none" opacity="0.75" stroke-linecap="round"/>
<path d="M315.9,248.2 q7.5,5.3 9,16.5" stroke="#5ab8f0" stroke-width="1.6" fill="none" opacity="0.75" stroke-linecap="round"/>
<path d="M294.6,422.6 q-4.1,3.5 -14.2,13" stroke="#6cc8f5" stroke-width="2" fill="none" opacity="0.75" stroke-linecap="round"/>
<path d="M131.4,380 q-1.1,-6.5 -8.2,-7.1" stroke="#1d5fb0" stroke-width="2.9" fill="none" opacity="0.75" stroke-linecap="round"/>
<path d="M295,385.1 q1.2,4.5 -3.7,15" stroke="#2a78c8" stroke-width="1.7" fill="none" opacity="0.75" stroke-linecap="round"/>
<path d="M236.5,305 q6.4,-7.2 6.9,-8.5" stroke="#1d5fb0" stroke-width="1.9" fill="none" opacity="0.75" stroke-linecap="round"/>
<path d="M253.1,441.4 q-3.7,-5.2 -13.4,-4.3" stroke="#b5ecff" stroke-width="2.7" fill="none" opacity="0.75" stroke-linecap="round"/>
<path d="M158.7,413.6 q0.2,-13.3 -5.6,-20.7" stroke="#5ab8f0" stroke-width="2.1" fill="none" opacity="0.75" stroke-linecap="round"/>
<path d="M358.5,370.8 q-1.7,2.8 -9.5,11.6" stroke="#b5ecff" stroke-width="2.3" fill="none" opacity="0.75" stroke-linecap="round"/>
<path d="M234.5,328.1 q8.3,-10.8 10.5,-15.7" stroke="#2a78c8" stroke-width="2.7" fill="none" opacity="0.75" stroke-linecap="round"/>
<path d="M297,425.3 q-3,-0.8 -12,4.3" stroke="#5ab8f0" stroke-width="1.9" fill="none" opacity="0.75" stroke-linecap="round"/>
<path d="M218,462.7 q-1.5,-4.7 -9,-3.5" stroke="#2a78c8" stroke-width="2.1" fill="none" opacity="0.75" stroke-linecap="round"/>
<path d="M252.4,235.4 q7.9,-4 9.9,-2.1" stroke="#8fe0ff" stroke-width="2" fill="none" opacity="0.75" stroke-linecap="round"/>
<path d="M335.9,289.9 q4.3,1.2 2.5,8.3" stroke="#2a78c8" stroke-width="2.4" fill="none" opacity="0.75" stroke-linecap="round"/>
<path d="M290.3,339.9 q1.4,2.3 -3.1,10.6" stroke="#5ab8f0" stroke-width="1.8" fill="none" opacity="0.75" stroke-linecap="round"/>
<path d="M220.4,430 q-3.3,-2.8 -12.6,0.4" stroke="#8fe0ff" stroke-width="2.2" fill="none" opacity="0.75" stroke-linecap="round"/>
<path d="M305,358.1 q-0.3,1.4 -6.6,8.8" stroke="#6cc8f5" stroke-width="1.5" fill="none" opacity="0.75" stroke-linecap="round"/>
<path d="M314.9,257.9 q13.2,0.5 20.3,6.9" stroke="#6cc8f5" stroke-width="2.4" fill="none" opacity="0.75" stroke-linecap="round"/>
<path d="M235.6,422.4 q-3.8,-7.5 -13.6,-9" stroke="#5ab8f0" stroke-width="2.1" fill="none" opacity="0.75" stroke-linecap="round"/>
<path d="M218,382 q-3.2,-11.2 -12.5,-16.5" stroke="#6cc8f5" stroke-width="2.7" fill="none" opacity="0.75" stroke-linecap="round"/>
<path d="M200.5,248.6 q13.7,-3.1 21.5,-0.2" stroke="#1d5fb0" stroke-width="2.7" fill="none" opacity="0.75" stroke-linecap="round"/>
<path d="M185.7,321.6 q9.4,-10.4 12.8,-14.7" stroke="#5ab8f0" stroke-width="2.2" fill="none" opacity="0.75" stroke-linecap="round"/>
<path d="M235.8,445.2 q-2.2,-5.8 -10.3,-5.6" stroke="#b5ecff" stroke-width="2.8" fill="none" opacity="0.75" stroke-linecap="round"/>
<path d="M293.6,388.5 q1.3,0.8 -3.4,7.6" stroke="#2a78c8" stroke-width="3.2" fill="none" opacity="0.75" stroke-linecap="round"/>
<path d="M223.5,262.5 q10.3,-1.1 14.7,3.9" stroke="#5ab8f0" stroke-width="3" fill="none" opacity="0.75" stroke-linecap="round"/>
<path d="M319.7,313.4 q6.9,5.6 7.8,17.1" stroke="#8fe0ff" stroke-width="1.7" fill="none" opacity="0.75" stroke-linecap="round"/>
<path d="M256.6,351.4 q-2.6,1.5 -11.2,9" stroke="#8fe0ff" stroke-width="1.6" fill="none" opacity="0.75" stroke-linecap="round"/>
<path d="M281.9,411.3 q-4.8,-0.8 -15.5,4.4" stroke="#5ab8f0" stroke-width="2" fill="none" opacity="0.75" stroke-linecap="round"/>
<path d="M354.6,313.7 q7.3,3.6 8.5,13.2" stroke="#8fe0ff" stroke-width="2.7" fill="none" opacity="0.75" stroke-linecap="round"/>
<path d="M363.6,332.2 q2.9,2.8 -0.2,11.6" stroke="#6cc8f5" stroke-width="3" fill="none" opacity="0.75" stroke-linecap="round"/>
<path d="M212.3,399.4 q-2.3,-8.6 -10.7,-11.1" stroke="#5ab8f0" stroke-width="2.1" fill="none" opacity="0.75" stroke-linecap="round"/>
<path d="M291.6,256.4 q7.3,1.1 8.5,8.3" stroke="#8fe0ff" stroke-width="3.1" fill="none" opacity="0.75" stroke-linecap="round"/>
<path d="M256.3,321.7 q11.6,-0.8 17.2,4.4" stroke="#8fe0ff" stroke-width="2.9" fill="none" opacity="0.75" stroke-linecap="round"/>
<path d="M203.2,323.8 q9.1,-8 12.1,-10" stroke="#6cc8f5" stroke-width="2.6" fill="none" opacity="0.75" stroke-linecap="round"/>
<path d="M253.5,295.6 q6.9,-0.4 7.8,5.2" stroke="#6cc8f5" stroke-width="2.2" fill="none" opacity="0.75" stroke-linecap="round"/>
<path d="M239.7,276.1 q9.5,-1.6 13.1,2.8" stroke="#6cc8f5" stroke-width="2.8" fill="none" opacity="0.75" stroke-linecap="round"/>
<path d="M254,454 q-3,-1.3 -12,3.4" stroke="#2a78c8" stroke-width="2.8" fill="none" opacity="0.75" stroke-linecap="round"/>
<path d="M302.5,332.1 q1.3,5.2 -3.4,16.3" stroke="#2a78c8" stroke-width="2.3" fill="none" opacity="0.75" stroke-linecap="round"/>
<path d="M272.4,245.1 q8,-1.2 10,3.7" stroke="#8fe0ff" stroke-width="3" fill="none" opacity="0.75" stroke-linecap="round"/>
<path d="M353.1,407.8 q-1.4,4.8 -8.9,15.7" stroke="#1d5fb0" stroke-width="2.9" fill="none" opacity="0.75" stroke-linecap="round"/>
<path d="M161,267.2 q6.5,-5 7,-4" stroke="#6cc8f5" stroke-width="2.4" fill="none" opacity="0.75" stroke-linecap="round"/>
<path d="M356.5,348.3 q-1.5,6.2 -9,18.3" stroke="#2a78c8" stroke-width="1.7" fill="none" opacity="0.75" stroke-linecap="round"/>
<path d="M329.6,338.8 q0.6,6.7 -4.8,19.5" stroke="#2a78c8" stroke-width="2.8" fill="none" opacity="0.75" stroke-linecap="round"/>
<path d="M233.8,398.7 q-6.3,-2.8 -18.7,0.5" stroke="#8fe0ff" stroke-width="3.1" fill="none" opacity="0.75" stroke-linecap="round"/>
<path d="M291.2,323.8 q6.7,4.7 7.3,15.5" stroke="#6cc8f5" stroke-width="2.2" fill="none" opacity="0.75" stroke-linecap="round"/>
<path d="M176.9,426.7 q0.5,-10.2 -5,-14.3" stroke="#5ab8f0" stroke-width="1.8" fill="none" opacity="0.75" stroke-linecap="round"/>
<path d="M216.6,398.6 q-0.4,-8 -6.7,-10" stroke="#5ab8f0" stroke-width="2.4" fill="none" opacity="0.75" stroke-linecap="round"/>
<path d="M272.5,409.3 q-3.8,1.3 -13.5,8.6" stroke="#b5ecff" stroke-width="2.8" fill="none" opacity="0.75" stroke-linecap="round"/>
<path d="M251.5,255.4 q10.3,1.3 14.6,8.5" stroke="#6cc8f5" stroke-width="1.8" fill="none" opacity="0.75" stroke-linecap="round"/>
<path d="M198.6,333.5 q1.4,-13.6 -3.1,-21.2" stroke="#5ab8f0" stroke-width="1.8" fill="none" opacity="0.75" stroke-linecap="round"/>
<path d="M136.4,360.6 q-0.1,-10.5 -6.3,-15.1" stroke="#b5ecff" stroke-width="1.9" fill="none" opacity="0.75" stroke-linecap="round"/>
<path d="M177.5,255.6 q6.6,-10.6 7.1,-15.2" stroke="#6cc8f5" stroke-width="2.5" fill="none" opacity="0.75" stroke-linecap="round"/>
<path d="M281.3,345.7 q6,1.2 6.1,8.4" stroke="#b5ecff" stroke-width="2.4" fill="none" opacity="0.75" stroke-linecap="round"/>
<path d="M177.1,262 q10.6,-6.9 15.1,-7.7" stroke="#5ab8f0" stroke-width="2.9" fill="none" opacity="0.75" stroke-linecap="round"/>
<path d="M191.7,293.8 q4.9,-7.9 3.8,-9.8" stroke="#5ab8f0" stroke-width="2" fill="none" opacity="0.75" stroke-linecap="round"/>
<path d="M275.2,419.7 q-5.4,-5.2 -16.8,-4.4" stroke="#5ab8f0" stroke-width="2.6" fill="none" opacity="0.75" stroke-linecap="round"/>
<path d="M134.1,353.1 q6.3,-10.4 6.6,-14.8" stroke="#8fe0ff" stroke-width="2.6" fill="none" opacity="0.75" stroke-linecap="round"/>
<path d="M311,331.6 q4.8,4.5 3.5,15" stroke="#6cc8f5" stroke-width="2.7" fill="none" opacity="0.75" stroke-linecap="round"/>
<path d="M262.2,469 q-2.1,-1.4 -10.1,3.1" stroke="#1d5fb0" stroke-width="1.8" fill="none" opacity="0.75" stroke-linecap="round"/>
<path d="M211.9,434.7 q-1.7,-9.1 -9.4,-12.2" stroke="#b5ecff" stroke-width="1.6" fill="none" opacity="0.75" stroke-linecap="round"/>
<path d="M320.8,246.9 q6.7,3.4 7.4,12.8" stroke="#b5ecff" stroke-width="1.8" fill="none" opacity="0.75" stroke-linecap="round"/>
<path d="M162.1,432.8 q0.4,-8.6 -5.1,-11.1" stroke="#1d5fb0" stroke-width="1.7" fill="none" opacity="0.75" stroke-linecap="round"/>
<path d="M161.5,430 q-4.7,-6.4 -15.3,-6.7" stroke="#2a78c8" stroke-width="2.1" fill="none" opacity="0.75" stroke-linecap="round"/>
<path d="M278.9,445.6 q-3,1.7 -11.9,9.4" stroke="#8fe0ff" stroke-width="3.2" fill="none" opacity="0.75" stroke-linecap="round"/>
<path d="M274.4,341.7 q6.8,5.8 7.6,17.6" stroke="#2a78c8" stroke-width="2.9" fill="none" opacity="0.75" stroke-linecap="round"/>
<path d="M324.8,390.7 q-0.6,5.3 -7.3,16.7" stroke="#b5ecff" stroke-width="2.5" fill="none" opacity="0.75" stroke-linecap="round"/>
<path d="M202.2,342.1 q5.3,-7 4.5,-8" stroke="#2a78c8" stroke-width="2.2" fill="none" opacity="0.75" stroke-linecap="round"/>
<path d="M290.9,254.1 q9,4.2 12,14.3" stroke="#8fe0ff" stroke-width="2.2" fill="none" opacity="0.75" stroke-linecap="round"/>
<path d="M344.9,380.6 q-2.3,4.9 -10.6,15.9" stroke="#6cc8f5" stroke-width="1.9" fill="none" opacity="0.75" stroke-linecap="round"/>
<path d="M192.5,318.1 q4.1,-10.8 2.3,-15.7" stroke="#5ab8f0" stroke-width="2.8" fill="none" opacity="0.75" stroke-linecap="round"/>
<path d="M207.6,411.6 q-2.1,-12.3 -10.3,-18.6" stroke="#1d5fb0" stroke-width="2" fill="none" opacity="0.75" stroke-linecap="round"/>
<path d="M225.5,459.3 q-5.9,-7.1 -17.7,-8.3" stroke="#8fe0ff" stroke-width="3.1" fill="none" opacity="0.75" stroke-linecap="round"/>
<path d="M244.3,384.2 q-3.9,-8.2 -13.9,-10.3" stroke="#5ab8f0" stroke-width="2.3" fill="none" opacity="0.75" stroke-linecap="round"/>
<path d="M359.8,327.7 q6,2.5 6.1,11.1" stroke="#6cc8f5" stroke-width="1.6" fill="none" opacity="0.75" stroke-linecap="round"/>
<path d="M301.1,450.6 q-2.3,4.6 -10.5,15.2" stroke="#6cc8f5" stroke-width="2.6" fill="none" opacity="0.75" stroke-linecap="round"/>
<path d="M339.2,327.8 q4.7,4.4 3.4,14.8" stroke="#b5ecff" stroke-width="2.8" fill="none" opacity="0.75" stroke-linecap="round"/>
<path d="M265.8,301.9 q7.2,2.3 8.4,10.6" stroke="#2a78c8" stroke-width="1.8" fill="none" opacity="0.75" stroke-linecap="round"/>
<path d="M265.1,457.9 q-4.4,3.4 -14.7,12.7" stroke="#5ab8f0" stroke-width="2.7" fill="none" opacity="0.75" stroke-linecap="round"/>
<path d="M226.9,330.5 q9.4,-8.1 12.9,-10.1" stroke="#b5ecff" stroke-width="1.7" fill="none" opacity="0.75" stroke-linecap="round"/>
<path d="M292.2,279.7 q7.8,5.5 9.6,17.1" stroke="#8fe0ff" stroke-width="2.7" fill="none" opacity="0.75" stroke-linecap="round"/>
<path d="M254,461.4 q-4.3,-1.7 -14.6,2.6" stroke="#6cc8f5" stroke-width="1.6" fill="none" opacity="0.75" stroke-linecap="round"/>
<path d="M244.5,222.9 q7.8,-6.4 9.6,-6.9" stroke="#1d5fb0" stroke-width="1.6" fill="none" opacity="0.75" stroke-linecap="round"/>
<path d="M333.3,320.8 q1.5,3.5 -3.1,13.1" stroke="#2a78c8" stroke-width="2.7" fill="none" opacity="0.75" stroke-linecap="round"/>
<path d="M145.4,288.9 q6.6,-7.6 7.2,-9.3" stroke="#8fe0ff" stroke-width="1.9" fill="none" opacity="0.75" stroke-linecap="round"/>
<path d="M278.4,411.7 q-1.3,-3.6 -8.5,-1.2" stroke="#1d5fb0" stroke-width="2.5" fill="none" opacity="0.75" stroke-linecap="round"/>
<path d="M136.2,338.7 q4.1,-8 2.2,-10" stroke="#1d5fb0" stroke-width="2.8" fill="none" opacity="0.75" stroke-linecap="round"/>
<path d="M242.9,470.8 q-5.2,-6.4 -16.3,-6.8" stroke="#b5ecff" stroke-width="2.1" fill="none" opacity="0.75" stroke-linecap="round"/>
<path d="M268.3,262.6 q8.6,-1.9 11.3,2.2" stroke="#5ab8f0" stroke-width="2.8" fill="none" opacity="0.75" stroke-linecap="round"/>
<path d="M178.4,331.9 q0.6,-8.9 -4.9,-11.8" stroke="#2a78c8" stroke-width="2.7" fill="none" opacity="0.75" stroke-linecap="round"/>
<path d="M171.1,408.2 q-4.7,-5.5 -15.3,-5" stroke="#8fe0ff" stroke-width="2.3" fill="none" opacity="0.75" stroke-linecap="round"/>
<path d="M305.4,315.5 q6.6,0.5 7.2,6.9" stroke="#8fe0ff" stroke-width="1.7" fill="none" opacity="0.75" stroke-linecap="round"/>
<path d="M143.5,292.3 q7.4,-8.9 8.8,-11.8" stroke="#1d5fb0" stroke-width="1.8" fill="none" opacity="0.75" stroke-linecap="round"/>
<path d="M174.6,355.1 q0.8,-6.8 -4.4,-7.5" stroke="#5ab8f0" stroke-width="2.1" fill="none" opacity="0.75" stroke-linecap="round"/>
<path d="M327.9,324.4 q5.5,2.6 5,11.1" stroke="#1d5fb0" stroke-width="3" fill="none" opacity="0.75" stroke-linecap="round"/>
<path d="M317.9,277.6 q6.5,6.5 6.9,19" stroke="#8fe0ff" stroke-width="3" fill="none" opacity="0.75" stroke-linecap="round"/>
<path d="M186.3,335.4 q5.3,-11.1 4.6,-16.3" stroke="#2a78c8" stroke-width="1.9" fill="none" opacity="0.75" stroke-linecap="round"/>
<path d="M198.6,429.2 q-2.2,-8.9 -10.4,-11.8" stroke="#8fe0ff" stroke-width="2.5" fill="none" opacity="0.75" stroke-linecap="round"/>
<path d="M312,440.4 q-4,2.2 -14,10.4" stroke="#b5ecff" stroke-width="1.8" fill="none" opacity="0.75" stroke-linecap="round"/>
<path d="M136.6,394.9 q-2.8,-9.6 -11.7,-13.1" stroke="#b5ecff" stroke-width="3" fill="none" opacity="0.75" stroke-linecap="round"/>
<path d="M337,370.7 q-2.3,2.1 -10.6,10.3" stroke="#b5ecff" stroke-width="2.2" fill="none" opacity="0.75" stroke-linecap="round"/>
<path d="M309.5,321.9 q8,0.3 9.9,6.7" stroke="#1d5fb0" stroke-width="2" fill="none" opacity="0.75" stroke-linecap="round"/>
<path d="M294.4,451.7 q-2.7,-0.3 -11.4,5.4" stroke="#5ab8f0" stroke-width="2.1" fill="none" opacity="0.75" stroke-linecap="round"/>
<path d="M237.3,296 q10.1,-3.1 14.1,-0.1" stroke="#2a78c8" stroke-width="1.9" fill="none" opacity="0.75" stroke-linecap="round"/>
<path d="M288.8,440.5 q-3.3,2.3 -12.6,10.6" stroke="#b5ecff" stroke-width="2.3" fill="none" opacity="0.75" stroke-linecap="round"/>
<path d="M180.1,415.5 q1.6,-7.3 -2.8,-8.6" stroke="#2a78c8" stroke-width="2.8" fill="none" opacity="0.75" stroke-linecap="round"/>
<path d="M139.7,310.5 q6.1,-13.5 6.2,-21" stroke="#6cc8f5" stroke-width="1.6" fill="none" opacity="0.75" stroke-linecap="round"/>
<path d="M180.5,313.7 q7.4,-11.7 8.8,-17.3" stroke="#6cc8f5" stroke-width="2.1" fill="none" opacity="0.75" stroke-linecap="round"/>
<path d="M279.8,248.2 q10.9,-5.3 15.8,-4.6" stroke="#5ab8f0" stroke-width="2.8" fill="none" opacity="0.75" stroke-linecap="round"/>
<path d="M176.2,372.7 q3.6,-12.5 1.3,-19.1" stroke="#5ab8f0" stroke-width="2.7" fill="none" opacity="0.75" stroke-linecap="round"/>
<path d="M259,379.5 q-5.6,-5.1 -17.2,-4.2" stroke="#8fe0ff" stroke-width="3.2" fill="none" opacity="0.75" stroke-linecap="round"/>
<path d="M306.1,433.9 q-1.3,0.2 -8.7,6.5" stroke="#b5ecff" stroke-width="1.6" fill="none" opacity="0.75" stroke-linecap="round"/>
<path d="M131.9,354 q-1,-10.3 -7.9,-14.5" stroke="#5ab8f0" stroke-width="2.2" fill="none" opacity="0.75" stroke-linecap="round"/>
<path d="M312.4,420.4 q0.7,5.2 -4.5,16.5" stroke="#8fe0ff" stroke-width="2.5" fill="none" opacity="0.75" stroke-linecap="round"/>
<path d="M193.5,430.3 q-5.8,-6.4 -17.7,-6.8" stroke="#b5ecff" stroke-width="3.1" fill="none" opacity="0.75" stroke-linecap="round"/>
<path d="M321.5,264.3 q9.8,0.4 13.6,6.9" stroke="#2a78c8" stroke-width="2.1" fill="none" opacity="0.75" stroke-linecap="round"/>
<path d="M233.7,269.8 q8.8,-3.8 11.5,-1.6" stroke="#2a78c8" stroke-width="2.2" fill="none" opacity="0.75" stroke-linecap="round"/>
<path d="M367.6,377.9 q4.5,2.3 3.1,10.7" stroke="#6cc8f5" stroke-width="3" fill="none" opacity="0.75" stroke-linecap="round"/>
<path d="M153.2,372.5 q2.6,-7.5 -0.7,-9.1" stroke="#b5ecff" stroke-width="2.1" fill="none" opacity="0.75" stroke-linecap="round"/>
<path d="M146.3,326.1 q5.7,-6.7 5.5,-7.5" stroke="#6cc8f5" stroke-width="1.9" fill="none" opacity="0.75" stroke-linecap="round"/>
<path d="M192.8,376.4 q3,-7.7 -0.1,-9.3" stroke="#8fe0ff" stroke-width="2.9" fill="none" opacity="0.75" stroke-linecap="round"/>
<circle cx="214.3" cy="335" r="5.7" fill="none" stroke="#7cc8f0" stroke-width="1.6" opacity="0.8"/>
<circle cx="234.4" cy="258.6" r="6.6" fill="none" stroke="#7cc8f0" stroke-width="1.6" opacity="0.8"/>
<circle cx="200" cy="418" r="5.8" fill="none" stroke="#7cc8f0" stroke-width="1.6" opacity="0.8"/>
<circle cx="231.7" cy="371.9" r="4.8" fill="none" stroke="#7cc8f0" stroke-width="1.6" opacity="0.8"/>
<circle cx="306.7" cy="406.9" r="7.7" fill="none" stroke="#7cc8f0" stroke-width="1.6" opacity="0.8"/>
<circle cx="179.5" cy="371.8" r="4.5" fill="none" stroke="#7cc8f0" stroke-width="1.6" opacity="0.8"/>
<circle cx="190.7" cy="321.9" r="4.6" fill="none" stroke="#7cc8f0" stroke-width="1.6" opacity="0.8"/>
<circle cx="188.9" cy="420.1" r="5.7" fill="none" stroke="#7cc8f0" stroke-width="1.6" opacity="0.8"/>
<circle cx="214" cy="383.8" r="5.1" fill="none" stroke="#7cc8f0" stroke-width="1.6" opacity="0.8"/>
<circle cx="330.2" cy="385.8" r="5.5" fill="none" stroke="#7cc8f0" stroke-width="1.6" opacity="0.8"/>
<circle cx="176.1" cy="356.6" r="5.3" fill="none" stroke="#7cc8f0" stroke-width="1.6" opacity="0.8"/>
<circle cx="312" cy="372.7" r="5.2" fill="none" stroke="#7cc8f0" stroke-width="1.6" opacity="0.8"/>
<circle cx="256.7" cy="283.7" r="5.7" fill="none" stroke="#7cc8f0" stroke-width="1.6" opacity="0.8"/>
<circle cx="214.8" cy="295.8" r="5.1" fill="none" stroke="#7cc8f0" stroke-width="1.6" opacity="0.8"/>
<circle cx="274.3" cy="414.2" r="6.5" fill="none" stroke="#7cc8f0" stroke-width="1.6" opacity="0.8"/>
<circle cx="209.9" cy="288.7" r="7.5" fill="none" stroke="#7cc8f0" stroke-width="1.6" opacity="0.8"/>
<circle cx="250" cy="347" r="128" fill="none" stroke="#a8ecff" stroke-width="4" opacity="0.6"/>
<circle cx="244" cy="301" r="19.5" fill="#f0b878" stroke="#b9532f" stroke-width="1.4"/>
<circle cx="244" cy="301" r="15.2" fill="#ec9d62"/>
<path d="M244,301 Q251,304.4 258.5,303.2" stroke="#b8402c" stroke-width="1.6" fill="none"/>
<path d="M244,301 Q246.5,308.4 252.6,312.8" stroke="#b8402c" stroke-width="1.6" fill="none"/>
<path d="M244,301 Q244.1,308.8 248.4,314.9" stroke="#b8402c" stroke-width="1.6" fill="none"/>
<path d="M244,301 Q237.2,304.9 234,311.7" stroke="#b8402c" stroke-width="1.6" fill="none"/>
<path d="M244,301 Q236.2,301.6 230.4,306.4" stroke="#b8402c" stroke-width="1.6" fill="none"/>
<path d="M244,301 Q237.5,296.7 230,296.9" stroke="#b8402c" stroke-width="1.6" fill="none"/>
<path d="M244,301 Q242.1,293.4 236.4,288.5" stroke="#b8402c" stroke-width="1.6" fill="none"/>
<path d="M244,301 Q248.9,295 249.5,287.4" stroke="#b8402c" stroke-width="1.6" fill="none"/>
<path d="M244,301 Q251.7,299.7 257,294.4" stroke="#b8402c" stroke-width="1.6" fill="none"/>
<circle cx="244" cy="301" r="3.9" fill="#f6d0a0"/>
<circle cx="304" cy="330" r="19.5" fill="#f0b878" stroke="#b9532f" stroke-width="1.4"/>
<circle cx="304" cy="330" r="15.2" fill="#ec9d62"/>
<path d="M304,330 Q311,333.4 318.5,332.2" stroke="#b8402c" stroke-width="1.6" fill="none"/>
<path d="M304,330 Q308.9,336.1 316.1,338.2" stroke="#b8402c" stroke-width="1.6" fill="none"/>
<path d="M304,330 Q304.5,337.8 309.2,343.7" stroke="#b8402c" stroke-width="1.6" fill="none"/>
<path d="M304,330 Q299.1,336.1 298.6,343.6" stroke="#b8402c" stroke-width="1.6" fill="none"/>
<path d="M304,330 Q296.2,329.7 289.9,333.8" stroke="#b8402c" stroke-width="1.6" fill="none"/>
<path d="M304,330 Q298.3,324.7 290.8,323.6" stroke="#b8402c" stroke-width="1.6" fill="none"/>
<path d="M304,330 Q300.7,322.9 294.1,319.2" stroke="#b8402c" stroke-width="1.6" fill="none"/>
<path d="M304,330 Q305.8,322.4 302.9,315.4" stroke="#b8402c" stroke-width="1.6" fill="none"/>
<path d="M304,330 Q311.7,328.8 317.2,323.6" stroke="#b8402c" stroke-width="1.6" fill="none"/>
<circle cx="304" cy="330" r="3.9" fill="#f6d0a0"/>
<circle cx="240" cy="369" r="18.5" fill="#f0b878" stroke="#b9532f" stroke-width="1.4"/>
<circle cx="240" cy="369" r="14.4" fill="#ec9d62"/>
<path d="M240,369 Q247.2,370.6 253.8,367.9" stroke="#b8402c" stroke-width="1.6" fill="none"/>
<path d="M240,369 Q245.3,374.1 252.4,375.3" stroke="#b8402c" stroke-width="1.6" fill="none"/>
<path d="M240,369 Q239.2,376.4 242.6,382.6" stroke="#b8402c" stroke-width="1.6" fill="none"/>
<path d="M240,369 Q235.7,375 235.6,382.2" stroke="#b8402c" stroke-width="1.6" fill="none"/>
<path d="M240,369 Q232.6,368.2 226.4,371.6" stroke="#b8402c" stroke-width="1.6" fill="none"/>
<path d="M240,369 Q234.2,364.4 227,364.1" stroke="#b8402c" stroke-width="1.6" fill="none"/>
<path d="M240,369 Q238.8,361.7 233.7,356.6" stroke="#b8402c" stroke-width="1.6" fill="none"/>
<path d="M240,369 Q244.7,363.3 245.3,356.2" stroke="#b8402c" stroke-width="1.6" fill="none"/>
<path d="M240,369 Q246.2,364.9 248.8,358.3" stroke="#b8402c" stroke-width="1.6" fill="none"/>
<circle cx="240" cy="369" r="3.7" fill="#f6d0a0"/>
<circle cx="151" cy="360" r="16" fill="#f0b878" stroke="#b9532f" stroke-width="1.4"/>
<circle cx="151" cy="360" r="12.5" fill="#ec9d62"/>
<path d="M151,360 Q157.3,361 162.9,358.3" stroke="#b8402c" stroke-width="1.6" fill="none"/>
<path d="M151,360 Q153.7,365.8 159,368.9" stroke="#b8402c" stroke-width="1.6" fill="none"/>
<path d="M151,360 Q149.9,366.3 152.4,371.9" stroke="#b8402c" stroke-width="1.6" fill="none"/>
<path d="M151,360 Q146.4,364.5 145.3,370.6" stroke="#b8402c" stroke-width="1.6" fill="none"/>
<path d="M151,360 Q144.6,360.8 140,364.9" stroke="#b8402c" stroke-width="1.6" fill="none"/>
<path d="M151,360 Q146.1,355.8 140,355.2" stroke="#b8402c" stroke-width="1.6" fill="none"/>
<path d="M151,360 Q151,353.6 147.4,348.5" stroke="#b8402c" stroke-width="1.6" fill="none"/>
<path d="M151,360 Q155.1,355.1 155.7,348.9" stroke="#b8402c" stroke-width="1.6" fill="none"/>
<path d="M151,360 Q157.3,358.8 161.6,354.4" stroke="#b8402c" stroke-width="1.6" fill="none"/>
<circle cx="151" cy="360" r="3.2" fill="#f6d0a0"/>
<circle cx="242" cy="426" r="16.5" fill="#f0b878" stroke="#b9532f" stroke-width="1.4"/>
<circle cx="242" cy="426" r="12.9" fill="#ec9d62"/>
<path d="M242,426 Q247.7,429.4 254,428.9" stroke="#b8402c" stroke-width="1.6" fill="none"/>
<path d="M242,426 Q246.5,430.8 252.8,432.1" stroke="#b8402c" stroke-width="1.6" fill="none"/>
<path d="M242,426 Q242.7,432.6 246.9,437.3" stroke="#b8402c" stroke-width="1.6" fill="none"/>
<path d="M242,426 Q236.5,429.6 234.1,435.6" stroke="#b8402c" stroke-width="1.6" fill="none"/>
<path d="M242,426 Q235.5,427.2 231,431.7" stroke="#b8402c" stroke-width="1.6" fill="none"/>
<path d="M242,426 Q236.8,422 230.4,421.6" stroke="#b8402c" stroke-width="1.6" fill="none"/>
<path d="M242,426 Q240.4,419.6 235.6,415.4" stroke="#b8402c" stroke-width="1.6" fill="none"/>
<path d="M242,426 Q246.3,421 246.9,414.7" stroke="#b8402c" stroke-width="1.6" fill="none"/>
<path d="M242,426 Q248,423.3 251.2,417.8" stroke="#b8402c" stroke-width="1.6" fill="none"/>
<circle cx="242" cy="426" r="3.3" fill="#f6d0a0"/>
<path d="M211,232.5 L201.2,212.2 L196.8,213.8 L203,235.5 Z" fill="#a83c44"/>
<line x1="208.2" y1="233.5" x2="199.4" y2="212.8" stroke="#f4b0a0" stroke-width="2" opacity="0.7"/>
<path d="M201.2,212.2 Q195.6,196.2 205.7,186.4 L176.3,197.6 Q190.4,198.3 196.8,213.8 Z" fill="#f0c088" stroke="#b9532f" stroke-width="1.2"/>
<ellipse cx="191" cy="192" rx="15.8" ry="6.6" transform="rotate(-20.8 191 192)" fill="#f4d2a4" stroke="#b9532f" stroke-width="1"/>
<ellipse cx="191" cy="192" rx="11.3" ry="4.4" transform="rotate(-20.8 191 192)" fill="#c9473c" opacity="0.85"/>
<path d="M247.2,226 L243.9,210.5 L238.2,210.9 L236.9,226.7 Z" fill="#c45a56"/>
<line x1="243.6" y1="226.3" x2="241.6" y2="210.6" stroke="#f4b0a0" stroke-width="2.4" opacity="0.7"/>
<path d="M243.9,210.5 Q243.6,198.7 251.5,194.2 L228.5,195.8 Q236.9,199.1 238.2,210.9 Z" fill="#f2b878" stroke="#b9532f" stroke-width="1.2"/>
<ellipse cx="240" cy="195" rx="11.6" ry="4.9" transform="rotate(-3.8 240 195)" fill="#f4d2a4" stroke="#b9532f" stroke-width="1"/>
<ellipse cx="240" cy="195" rx="8.3" ry="3.2" transform="rotate(-3.8 240 195)" fill="#c9473c" opacity="0.85"/>
<path d="M267.9,227.3 L268.7,201.2 L263.6,200.6 L258.6,226.3 Z" fill="#a83c44"/>
<line x1="264.7" y1="227" x2="266.6" y2="201" stroke="#f4b0a0" stroke-width="2.1" opacity="0.7"/>
<path d="M268.7,201.2 Q270.6,188.6 278.4,185.2 L257.6,182.8 Q264.5,187.9 263.6,200.6 Z" fill="#eea868" stroke="#b9532f" stroke-width="1.2"/>
<ellipse cx="268" cy="184" rx="10.5" ry="4.4" transform="rotate(6.3 268 184)" fill="#f4d2a4" stroke="#b9532f" stroke-width="1"/>
<ellipse cx="268" cy="184" rx="7.6" ry="2.9" transform="rotate(6.3 268 184)" fill="#c9473c" opacity="0.85"/>
<path d="M283.4,230.7 L287.5,207.6 L283.4,206.6 L275.9,228.8 Z" fill="#c45a56"/>
<line x1="280.8" y1="230.1" x2="285.8" y2="207.2" stroke="#f4b0a0" stroke-width="1.8" opacity="0.7"/>
<path d="M287.5,207.6 Q291.3,194.2 301.2,191.8 L278.8,186.2 Q286.4,192.9 283.4,206.6 Z" fill="#f0c088" stroke="#b9532f" stroke-width="1.2"/>
<ellipse cx="290" cy="189" rx="11.6" ry="4.9" transform="rotate(14.2 290 189)" fill="#f4d2a4" stroke="#b9532f" stroke-width="1"/>
<ellipse cx="290" cy="189" rx="8.3" ry="3.2" transform="rotate(14.2 290 189)" fill="#c9473c" opacity="0.85"/>
<path d="M304.7,239.1 L314.1,214.9 L310.1,213 L297.5,235.8 Z" fill="#a83c44"/>
<line x1="302.2" y1="237.9" x2="312.5" y2="214.1" stroke="#f4b0a0" stroke-width="1.8" opacity="0.7"/>
<path d="M314.1,214.9 Q320.4,202.3 330.5,201.9 L309.5,192.1 Q315.7,200.1 310.1,213 Z" fill="#f2b878" stroke="#b9532f" stroke-width="1.2"/>
<ellipse cx="320" cy="197" rx="11.6" ry="4.9" transform="rotate(25 320 197)" fill="#f4d2a4" stroke="#b9532f" stroke-width="1"/>
<ellipse cx="320" cy="197" rx="8.3" ry="3.2" transform="rotate(25 320 197)" fill="#c9473c" opacity="0.85"/>
<path d="M172.4,254.1 L154.8,238.2 L150.7,242 L164.8,261 Z" fill="#b84a4a"/>
<line x1="169.8" y1="256.5" x2="153.1" y2="239.7" stroke="#f4b0a0" stroke-width="2.3" opacity="0.7"/>
<path d="M154.8,238.2 Q144.9,226.5 148.3,216.5 L129.7,233.5 Q140,231 150.7,242 Z" fill="#e8a070" stroke="#b9532f" stroke-width="1.2"/>
<ellipse cx="139" cy="225" rx="12.6" ry="5.3" transform="rotate(-42.3 139 225)" fill="#f4d2a4" stroke="#b9532f" stroke-width="1"/>
<ellipse cx="139" cy="225" rx="9.1" ry="3.5" transform="rotate(-42.3 139 225)" fill="#c9473c" opacity="0.85"/>
<path d="M337.7,263.7 L352.8,245.2 L349.1,241.6 L331,257.1 Z" fill="#b04448"/>
<line x1="335.4" y1="261.4" x2="351.3" y2="243.7" stroke="#f4b0a0" stroke-width="2.1" opacity="0.7"/>
<path d="M352.8,245.2 Q362.9,235.5 372.3,238.1 L355.7,221.9 Q358.5,231.2 349.1,241.6 Z" fill="#f4c898" stroke="#b9532f" stroke-width="1.2"/>
<ellipse cx="364" cy="230" rx="11.6" ry="4.9" transform="rotate(44.3 364 230)" fill="#f4d2a4" stroke="#b9532f" stroke-width="1"/>
<ellipse cx="364" cy="230" rx="8.3" ry="3.2" transform="rotate(44.3 364 230)" fill="#c9473c" opacity="0.85"/>
<path d="M347.9,275.9 L370.2,255 L366.5,250.3 L341.2,267.4 Z" fill="#c05050"/>
<line x1="345.6" y1="272.9" x2="368.7" y2="253.1" stroke="#f4b0a0" stroke-width="2.5" opacity="0.7"/>
<path d="M370.2,255 Q381.6,246.7 390.2,250 L375.8,232 Q377.1,241.1 366.5,250.3 Z" fill="#eea868" stroke="#b9532f" stroke-width="1.2"/>
<ellipse cx="383" cy="241" rx="11.6" ry="4.9" transform="rotate(51.4 383 241)" fill="#f4d2a4" stroke="#b9532f" stroke-width="1"/>
<ellipse cx="383" cy="241" rx="8.3" ry="3.2" transform="rotate(51.4 383 241)" fill="#c9473c" opacity="0.85"/>
<path d="M142.6,291.2 L129.9,287.9 L127.5,293 L138.2,300.6 Z" fill="#b04448"/>
<line x1="141.1" y1="294.5" x2="128.9" y2="289.9" stroke="#f4b0a0" stroke-width="2.4" opacity="0.7"/>
<path d="M129.9,287.9 Q121.4,283.3 122.8,272.6 L111.2,297.4 Q118.5,289.4 127.5,293 Z" fill="#f0c088" stroke="#b9532f" stroke-width="1.2"/>
<ellipse cx="117" cy="285" rx="13.7" ry="5.7" transform="rotate(-65 117 285)" fill="#f4d2a4" stroke="#b9532f" stroke-width="1"/>
<ellipse cx="117" cy="285" rx="9.8" ry="3.8" transform="rotate(-65 117 285)" fill="#c9473c" opacity="0.85"/>
<path d="M360.2,297.1 L375.2,287.2 L372.9,282.7 L356.1,288.8 Z" fill="#a83c44"/>
<line x1="358.8" y1="294.2" x2="374.3" y2="285.4" stroke="#f4b0a0" stroke-width="2.1" opacity="0.7"/>
<path d="M375.2,287.2 Q387.4,281.7 396.1,289.2 L383.9,264.8 Q384.7,276.3 372.9,282.7 Z" fill="#f4c898" stroke="#b9532f" stroke-width="1.2"/>
<ellipse cx="390" cy="277" rx="13.7" ry="5.7" transform="rotate(63.4 390 277)" fill="#f4d2a4" stroke="#b9532f" stroke-width="1"/>
<ellipse cx="390" cy="277" rx="9.8" ry="3.8" transform="rotate(63.4 390 277)" fill="#c9473c" opacity="0.85"/>
<path d="M370.9,341.4 L388.9,337.9 L388.5,333.1 L370.1,332.6 Z" fill="#a83c44"/>
<line x1="370.6" y1="338.3" x2="388.8" y2="336" stroke="#f4b0a0" stroke-width="2" opacity="0.7"/>
<path d="M388.9,337.9 Q402.7,337.3 408,345.5 L406,322.5 Q402.2,331.5 388.5,333.1 Z" fill="#e8a070" stroke="#b9532f" stroke-width="1.2"/>
<ellipse cx="407" cy="334" rx="11.6" ry="4.9" transform="rotate(85.3 407 334)" fill="#f4d2a4" stroke="#b9532f" stroke-width="1"/>
<ellipse cx="407" cy="334" rx="8.3" ry="3.2" transform="rotate(85.3 407 334)" fill="#c9473c" opacity="0.85"/>
<path d="M129.3,355.3 L108.3,359.6 L108.9,364.5 L130.3,364.3 Z" fill="#c05050"/>
<line x1="129.6" y1="358.4" x2="108.5" y2="361.5" stroke="#f4b0a0" stroke-width="2.1" opacity="0.7"/>
<path d="M108.3,359.6 Q94.3,360.6 88.8,352.5 L91.2,375.5 Q95,366.5 108.9,364.5 Z" fill="#f0c088" stroke="#b9532f" stroke-width="1.2"/>
<ellipse cx="90" cy="364" rx="11.6" ry="4.9" transform="rotate(263.9 90 364)" fill="#f4d2a4" stroke="#b9532f" stroke-width="1"/>
<ellipse cx="90" cy="364" rx="8.3" ry="3.2" transform="rotate(263.9 90 364)" fill="#c9473c" opacity="0.85"/>
<path d="M131.1,369.5 L110.7,376.3 L111.8,381.3 L133.2,378.6 Z" fill="#c05050"/>
<line x1="131.8" y1="372.7" x2="111.1" y2="378.3" stroke="#f4b0a0" stroke-width="2.1" opacity="0.7"/>
<path d="M110.7,376.3 Q96.9,379 90.4,371.7 L95.6,394.3 Q98.2,384.9 111.8,381.3 Z" fill="#f0c088" stroke="#b9532f" stroke-width="1.2"/>
<ellipse cx="93" cy="383" rx="11.6" ry="4.9" transform="rotate(257.1 93 383)" fill="#f4d2a4" stroke="#b9532f" stroke-width="1"/>
<ellipse cx="93" cy="383" rx="8.3" ry="3.2" transform="rotate(257.1 93 383)" fill="#c9473c" opacity="0.85"/>
<path d="M349.6,415.6 L360.7,420 L363.5,415.5 L354.8,407.4 Z" fill="#c45a56"/>
<line x1="351.5" y1="412.8" x2="361.8" y2="418.2" stroke="#f4b0a0" stroke-width="2.2" opacity="0.7"/>
<path d="M360.7,420 Q367.8,425.1 363.6,437.3 L380.4,410.7 Q371.2,419.8 363.5,415.5 Z" fill="#e8a070" stroke="#b9532f" stroke-width="1.2"/>
<ellipse cx="372" cy="424" rx="15.8" ry="6.6" transform="rotate(122.3 372 424)" fill="#f4d2a4" stroke="#b9532f" stroke-width="1"/>
<ellipse cx="372" cy="424" rx="11.3" ry="4.4" transform="rotate(122.3 372 424)" fill="#c9473c" opacity="0.85"/>
<path d="M167.4,435.4 L155.4,452.3 L159.1,455.5 L174.1,441.2 Z" fill="#c05050"/>
<line x1="169.8" y1="437.4" x2="156.9" y2="453.6" stroke="#f4b0a0" stroke-width="2" opacity="0.7"/>
<path d="M155.4,452.3 Q145.9,462.6 136.3,460.4 L153.7,475.6 Q150.3,466.4 159.1,455.5 Z" fill="#e89858" stroke="#b9532f" stroke-width="1.2"/>
<ellipse cx="145" cy="468" rx="11.6" ry="4.9" transform="rotate(221 145 468)" fill="#f4d2a4" stroke="#b9532f" stroke-width="1"/>
<ellipse cx="145" cy="468" rx="8.3" ry="3.2" transform="rotate(221 145 468)" fill="#c9473c" opacity="0.85"/>
<path d="M201.8,458 L198.2,473.9 L203.4,475.9 L211.4,461.7 Z" fill="#c05050"/>
<line x1="205.2" y1="459.3" x2="200.3" y2="474.7" stroke="#f4b0a0" stroke-width="2.3" opacity="0.7"/>
<path d="M198.2,473.9 Q193.3,485 178.3,483.6 L211.7,496.4 Q199.6,487.4 203.4,475.9 Z" fill="#f2b878" stroke="#b9532f" stroke-width="1.2"/>
<ellipse cx="195" cy="490" rx="17.9" ry="7.5" transform="rotate(201 195 490)" fill="#f4d2a4" stroke="#b9532f" stroke-width="1"/>
<ellipse cx="195" cy="490" rx="12.9" ry="5" transform="rotate(201 195 490)" fill="#c9473c" opacity="0.85"/>
<path d="M232.7,466.8 L233.6,480.9 L239.2,481.4 L242.9,467.8 Z" fill="#c05050"/>
<line x1="236.3" y1="467.1" x2="235.8" y2="481.1" stroke="#f4b0a0" stroke-width="2.3" opacity="0.7"/>
<path d="M233.6,480.9 Q232,491.2 224.6,493.9 L245.4,496.1 Q238.7,491.9 239.2,481.4 Z" fill="#f2b878" stroke="#b9532f" stroke-width="1.2"/>
<ellipse cx="235" cy="495" rx="10.5" ry="4.4" transform="rotate(185.8 235 495)" fill="#f4d2a4" stroke="#b9532f" stroke-width="1"/>
<ellipse cx="235" cy="495" rx="7.6" ry="2.9" transform="rotate(185.8 235 495)" fill="#c9473c" opacity="0.85"/>
<path d="M250.4,468 L253.5,487.1 L259,486.9 L260.4,467.6 Z" fill="#c45a56"/>
<line x1="253.9" y1="467.8" x2="255.7" y2="487" stroke="#f4b0a0" stroke-width="2.3" opacity="0.7"/>
<path d="M253.5,487.1 Q253.6,499.9 246.5,504.5 L267.5,503.5 Q260.1,499.6 259,486.9 Z" fill="#f4c898" stroke="#b9532f" stroke-width="1.2"/>
<ellipse cx="257" cy="504" rx="10.5" ry="4.4" transform="rotate(177.4 257 504)" fill="#f4d2a4" stroke="#b9532f" stroke-width="1"/>
<ellipse cx="257" cy="504" rx="7.6" ry="2.9" transform="rotate(177.4 257 504)" fill="#c9473c" opacity="0.85"/>
<path d="M283.3,463.3 L290.4,476.8 L296,474.9 L293.6,459.9 Z" fill="#b84a4a"/>
<line x1="286.9" y1="462.1" x2="292.7" y2="476" stroke="#f4b0a0" stroke-width="2.5" opacity="0.7"/>
<path d="M290.4,476.8 Q293.4,487.6 287.1,493.7 L308.9,486.3 Q300.2,485.3 296,474.9 Z" fill="#f2b878" stroke="#b9532f" stroke-width="1.2"/>
<ellipse cx="298" cy="490" rx="11.6" ry="4.9" transform="rotate(161.4 298 490)" fill="#f4d2a4" stroke="#b9532f" stroke-width="1"/>
<ellipse cx="298" cy="490" rx="8.3" ry="3.2" transform="rotate(161.4 298 490)" fill="#c9473c" opacity="0.85"/>
<path d="M303.1,455.7 L315.6,473.5 L320.8,470.7 L312.7,450.5 Z" fill="#c45a56"/>
<line x1="306.5" y1="453.9" x2="317.7" y2="472.4" stroke="#f4b0a0" stroke-width="2.5" opacity="0.7"/>
<path d="M315.6,473.5 Q322.4,487.2 316.9,496 L339.1,484 Q328.7,483.8 320.8,470.7 Z" fill="#eea868" stroke="#b9532f" stroke-width="1.2"/>
<ellipse cx="328" cy="490" rx="12.6" ry="5.3" transform="rotate(151.4 328 490)" fill="#f4d2a4" stroke="#b9532f" stroke-width="1"/>
<ellipse cx="328" cy="490" rx="9.1" ry="3.5" transform="rotate(151.4 328 490)" fill="#c9473c" opacity="0.85"/>
<path d="M344.3,422.8 L366.5,436.8 L369.5,432.9 L349.7,415.6 Z" fill="#a83c44"/>
<line x1="346.2" y1="420.3" x2="367.7" y2="435.2" stroke="#f4b0a0" stroke-width="2" opacity="0.7"/>
<path d="M366.5,436.8 Q377.5,445.6 376.1,455.3 L389.9,436.7 Q381,440.9 369.5,432.9 Z" fill="#f2b878" stroke="#b9532f" stroke-width="1.2"/>
<ellipse cx="383" cy="446" rx="11.6" ry="4.9" transform="rotate(126.7 383 446)" fill="#f4d2a4" stroke="#b9532f" stroke-width="1"/>
<ellipse cx="383" cy="446" rx="8.3" ry="3.2" transform="rotate(126.7 383 446)" fill="#c9473c" opacity="0.85"/>
<path d="M175.3,442.1 L167.5,456 L171.1,458.6 L181.9,447 Z" fill="#b04448"/>
<line x1="177.6" y1="443.8" x2="168.9" y2="457" stroke="#f4b0a0" stroke-width="1.9" opacity="0.7"/>
<path d="M167.5,456 Q160.2,465.2 151.5,463.8 L168.5,476.2 Q164.5,468.4 171.1,458.6 Z" fill="#f0c088" stroke="#b9532f" stroke-width="1.2"/>
<ellipse cx="160" cy="470" rx="10.5" ry="4.4" transform="rotate(216.2 160 470)" fill="#f4d2a4" stroke="#b9532f" stroke-width="1"/>
<ellipse cx="160" cy="470" rx="7.6" ry="2.9" transform="rotate(216.2 160 470)" fill="#c9473c" opacity="0.85"/>
<path d="M198,237.7 L179.7,208.2 L174.7,210.8 L188.8,242.6 Z" fill="#b84a4a"/>
<line x1="194.8" y1="239.4" x2="177.7" y2="209.3" stroke="#f4b0a0" stroke-width="2.4" opacity="0.7"/>
<path d="M179.7,208.2 Q174.8,197.8 178.4,191.6 L161.6,200.4 Q168.8,201 174.7,210.8 Z" fill="#eea868" stroke="#b9532f" stroke-width="1.2"/>
<ellipse cx="170" cy="196" rx="9.5" ry="4" transform="rotate(-27.9 170 196)" fill="#f4d2a4" stroke="#b9532f" stroke-width="1"/>
<ellipse cx="170" cy="196" rx="6.8" ry="2.6" transform="rotate(-27.9 170 196)" fill="#c9473c" opacity="0.85"/>
<path d="M147.9,282.1 L129.2,274 L126.3,279 L142.7,291.1 Z" fill="#b04448"/>
<line x1="146" y1="285.2" x2="128" y2="276" stroke="#f4b0a0" stroke-width="2.4" opacity="0.7"/>
<path d="M129.2,274 Q118.4,267.2 118.2,258.9 L107.8,277.1 Q115,273.1 126.3,279 Z" fill="#e89858" stroke="#b9532f" stroke-width="1.2"/>
<ellipse cx="113" cy="268" rx="10.5" ry="4.4" transform="rotate(-60 113 268)" fill="#f4d2a4" stroke="#b9532f" stroke-width="1"/>
<ellipse cx="113" cy="268" rx="7.6" ry="2.9" transform="rotate(-60 113 268)" fill="#c9473c" opacity="0.85"/>
<path d="M194,239.8 L180,219.9 L175.3,222.6 L185.4,244.7 Z" fill="#b04448"/>
<line x1="191" y1="241.5" x2="178.1" y2="221" stroke="#f4b0a0" stroke-width="2.2" opacity="0.7"/>
<path d="M180,219.9 Q174.7,209.7 178.2,203.3 L161.8,212.7 Q169.1,212.9 175.3,222.6 Z" fill="#f0c088" stroke="#b9532f" stroke-width="1.2"/>
<ellipse cx="170" cy="208" rx="9.5" ry="4" transform="rotate(-29.9 170 208)" fill="#f4d2a4" stroke="#b9532f" stroke-width="1"/>
<ellipse cx="170" cy="208" rx="6.8" ry="2.6" transform="rotate(-29.9 170 208)" fill="#c9473c" opacity="0.85"/>
<path d="M314.2,244.5 L324.5,222.9 L320.5,220.6 L306.9,240.2 Z" fill="#b84a4a"/>
<line x1="311.7" y1="243" x2="322.9" y2="221.9" stroke="#f4b0a0" stroke-width="1.9" opacity="0.7"/>
<path d="M324.5,222.9 Q331.3,212.1 340.1,212.3 L321.9,201.7 Q326.5,209.3 320.5,220.6 Z" fill="#eea868" stroke="#b9532f" stroke-width="1.2"/>
<ellipse cx="331" cy="207" rx="10.5" ry="4.4" transform="rotate(30.1 331 207)" fill="#f4d2a4" stroke="#b9532f" stroke-width="1"/>
<ellipse cx="331" cy="207" rx="7.6" ry="2.9" transform="rotate(30.1 331 207)" fill="#c9473c" opacity="0.85"/>
<path d="M361.7,300.5 L380.8,288.8 L378.4,283.6 L357.2,290.9 Z" fill="#a83c44"/>
<line x1="360.1" y1="297.1" x2="379.9" y2="286.7" stroke="#f4b0a0" stroke-width="2.4" opacity="0.7"/>
<path d="M380.8,288.8 Q392.6,283.9 399.5,288.5 L390.5,269.5 Q389.7,277.7 378.4,283.6 Z" fill="#f2b878" stroke="#b9532f" stroke-width="1.2"/>
<ellipse cx="395" cy="279" rx="10.5" ry="4.4" transform="rotate(64.9 395 279)" fill="#f4d2a4" stroke="#b9532f" stroke-width="1"/>
<ellipse cx="395" cy="279" rx="7.6" ry="2.9" transform="rotate(64.9 395 279)" fill="#c9473c" opacity="0.85"/>
<path d="M365.5,383.2 L384.2,385.8 L385.7,380.5 L368.1,373.4 Z" fill="#b84a4a"/>
<line x1="366.4" y1="379.8" x2="384.8" y2="383.7" stroke="#f4b0a0" stroke-width="2.3" opacity="0.7"/>
<path d="M384.2,385.8 Q397.6,390 400,399.2 L406,376.8 Q399.3,383.6 385.7,380.5 Z" fill="#eea868" stroke="#b9532f" stroke-width="1.2"/>
<ellipse cx="403" cy="388" rx="11.6" ry="4.9" transform="rotate(105 403 388)" fill="#f4d2a4" stroke="#b9532f" stroke-width="1"/>
<ellipse cx="403" cy="388" rx="8.3" ry="3.2" transform="rotate(105 403 388)" fill="#c9473c" opacity="0.85"/>
<path d="M339.9,428 L359.5,441.9 L362.5,438.3 L345.4,421.4 Z" fill="#c45a56"/>
<line x1="341.8" y1="425.7" x2="360.7" y2="440.4" stroke="#f4b0a0" stroke-width="1.9" opacity="0.7"/>
<path d="M359.5,441.9 Q368.9,450.4 367.3,459 L380.7,443 Q372.5,446.1 362.5,438.3 Z" fill="#f4c898" stroke="#b9532f" stroke-width="1.2"/>
<ellipse cx="374" cy="451" rx="10.5" ry="4.4" transform="rotate(130 374 451)" fill="#f4d2a4" stroke="#b9532f" stroke-width="1"/>
<ellipse cx="374" cy="451" rx="7.6" ry="2.9" transform="rotate(130 374 451)" fill="#c9473c" opacity="0.85"/>
<path d="M287.3,462.1 L296.8,481.9 L301.5,480.2 L296,458.9 Z" fill="#a83c44"/>
<line x1="290.3" y1="461" x2="298.7" y2="481.2" stroke="#f4b0a0" stroke-width="2.1" opacity="0.7"/>
<path d="M296.8,481.9 Q300.7,494.1 295.1,500.6 L314.9,493.4 Q306.4,492 301.5,480.2 Z" fill="#e89858" stroke="#b9532f" stroke-width="1.2"/>
<ellipse cx="305" cy="497" rx="10.5" ry="4.4" transform="rotate(159.9 305 497)" fill="#f4d2a4" stroke="#b9532f" stroke-width="1"/>
<ellipse cx="305" cy="497" rx="7.6" ry="2.9" transform="rotate(159.9 305 497)" fill="#c9473c" opacity="0.85"/>
<path d="M203.7,458.8 L198.6,479.7 L203.9,481.6 L213.4,462.3 Z" fill="#c05050"/>
<line x1="207.1" y1="460" x2="200.7" y2="480.4" stroke="#f4b0a0" stroke-width="2.3" opacity="0.7"/>
<path d="M198.6,479.7 Q194.1,490.2 187.1,491.8 L204.9,498.2 Q200.5,492.6 203.9,481.6 Z" fill="#e8a070" stroke="#b9532f" stroke-width="1.2"/>
<ellipse cx="196" cy="495" rx="9.5" ry="4" transform="rotate(200 196 495)" fill="#f4d2a4" stroke="#b9532f" stroke-width="1"/>
<ellipse cx="196" cy="495" rx="6.8" ry="2.6" transform="rotate(200 196 495)" fill="#c9473c" opacity="0.85"/>
<path d="M142.7,402.9 L124.3,416.1 L127.1,420.9 L147.8,411.7 Z" fill="#b84a4a"/>
<line x1="144.4" y1="406" x2="125.5" y2="418" stroke="#f4b0a0" stroke-width="2.3" opacity="0.7"/>
<path d="M124.3,416.1 Q113,422 105.8,417.9 L116.2,436.1 Q116.4,427.8 127.1,420.9 Z" fill="#e8a070" stroke="#b9532f" stroke-width="1.2"/>
<ellipse cx="111" cy="427" rx="10.5" ry="4.4" transform="rotate(240.1 111 427)" fill="#f4d2a4" stroke="#b9532f" stroke-width="1"/>
<ellipse cx="111" cy="427" rx="7.6" ry="2.9" transform="rotate(240.1 111 427)" fill="#c9473c" opacity="0.85"/>
<path d="M129.1,352.4 L108,356.7 L108.5,362.5 L130.1,363.1 Z" fill="#b84a4a"/>
<line x1="129.4" y1="356.1" x2="108.2" y2="359.1" stroke="#f4b0a0" stroke-width="2.4" opacity="0.7"/>
<path d="M108,356.7 Q96.5,357.2 92.2,351.6 L93.8,370.4 Q97.1,364.1 108.5,362.5 Z" fill="#e89858" stroke="#b9532f" stroke-width="1.2"/>
<ellipse cx="93" cy="361" rx="9.5" ry="4" transform="rotate(264.9 93 361)" fill="#f4d2a4" stroke="#b9532f" stroke-width="1"/>
<ellipse cx="93" cy="361" rx="6.8" ry="2.6" transform="rotate(264.9 93 361)" fill="#c9473c" opacity="0.85"/>
<path d="M243.3,226.2 L239.4,203.3 L235,203.7 L235.2,226.9 Z" fill="#c45a56"/>
<line x1="240.5" y1="226.5" x2="237.7" y2="203.5" stroke="#f4b0a0" stroke-width="1.9" opacity="0.7"/>
<path d="M239.4,203.3 Q239,193.1 244.4,189.3 L227.6,190.7 Q233.6,193.6 235,203.7 Z" fill="#e89858" stroke="#b9532f" stroke-width="1.2"/>
<ellipse cx="236" cy="190" rx="8.4" ry="3.5" transform="rotate(-5.1 236 190)" fill="#f4d2a4" stroke="#b9532f" stroke-width="1"/>
<ellipse cx="236" cy="190" rx="6" ry="2.4" transform="rotate(-5.1 236 190)" fill="#c9473c" opacity="0.85"/>
<path d="M235.5,467.1 L235.1,492.6 L239.5,493 L243.6,467.8 Z" fill="#b04448"/>
<line x1="238.3" y1="467.3" x2="236.9" y2="492.7" stroke="#f4b0a0" stroke-width="1.9" opacity="0.7"/>
<path d="M235.1,492.6 Q233.7,504 226.6,507.2 L245.4,508.8 Q239,504.4 239.5,493 Z" fill="#f0c088" stroke="#b9532f" stroke-width="1.2"/>
<ellipse cx="236" cy="508" rx="9.5" ry="4" transform="rotate(185 236 508)" fill="#f4d2a4" stroke="#b9532f" stroke-width="1"/>
<ellipse cx="236" cy="508" rx="6.8" ry="2.6" transform="rotate(185 236 508)" fill="#c9473c" opacity="0.85"/></svg>

<svg style="position:absolute;left:0;top:0" width="1344" height="768" viewBox="0 0 1344 768"><defs><clipPath id="clipPink"><path d="M13,0 H413 V758 H22 Q13,758 13,749 Z"/></clipPath></defs><g clip-path="url(#clipPink)">
<path d="M21.7,573.8 L17.8,529.1 L15.1,529.3 L16.8,574.1 Z" fill="#a04a48"/>
<line x1="20" y1="573.9" x2="16.7" y2="529.2" stroke="#f4b0a0" stroke-width="1.1" opacity="0.7"/>
<path d="M17.8,529.1 Q17.7,523.7 21.2,521.7 L10.8,522.3 Q14.5,523.9 15.1,529.3 Z" fill="#e0b070" stroke="#a05a3a" stroke-width="1.2"/>
<ellipse cx="16" cy="522" rx="5.2" ry="2.2" transform="rotate(-3.6 16 522)" fill="#f4d2a4" stroke="#a05a3a" stroke-width="1"/>
<ellipse cx="16" cy="522" rx="3.7" ry="1.4" transform="rotate(-3.6 16 522)" fill="#c9473c" opacity="0.85"/>
<path d="M29.4,573.9 L29.2,530.4 L26.5,530.4 L24.5,573.8 Z" fill="#a04a48"/>
<line x1="27.7" y1="573.8" x2="28.1" y2="530.4" stroke="#f4b0a0" stroke-width="1.1" opacity="0.7"/>
<path d="M29.2,530.4 Q29.6,525.6 32.6,524.1 L23.4,523.9 Q26.3,525.6 26.5,530.4 Z" fill="#e0b070" stroke="#a05a3a" stroke-width="1.2"/>
<ellipse cx="28" cy="524" rx="4.6" ry="1.9" transform="rotate(1.2 28 524)" fill="#f4d2a4" stroke="#a05a3a" stroke-width="1"/>
<ellipse cx="28" cy="524" rx="3.3" ry="1.3" transform="rotate(1.2 28 524)" fill="#c9473c" opacity="0.85"/>
<path d="M59.1,580.4 L78.8,524.2 L76.2,523.3 L54.4,578.7 Z" fill="#a04a48"/>
<line x1="57.5" y1="579.8" x2="77.7" y2="523.8" stroke="#f4b0a0" stroke-width="1.1" opacity="0.7"/>
<path d="M78.8,524.2 Q80.9,519.3 84.9,518.8 L75.1,515.2 Q77.9,518.1 76.2,523.3 Z" fill="#d8a060" stroke="#a05a3a" stroke-width="1.2"/>
<ellipse cx="80" cy="517" rx="5.2" ry="2.2" transform="rotate(20.4 80 517)" fill="#f4d2a4" stroke="#a05a3a" stroke-width="1"/>
<ellipse cx="80" cy="517" rx="3.7" ry="1.4" transform="rotate(20.4 80 517)" fill="#c9473c" opacity="0.85"/>
<path d="M65,583 L83.9,538.8 L81.5,537.7 L60.5,581 Z" fill="#a04a48"/>
<line x1="63.5" y1="582.3" x2="82.9" y2="538.4" stroke="#f4b0a0" stroke-width="1.1" opacity="0.7"/>
<path d="M83.9,538.8 Q86.6,533.5 91.2,533.4 L80.8,528.6 Q83.7,532.1 81.5,537.7 Z" fill="#d8a060" stroke="#a05a3a" stroke-width="1.2"/>
<ellipse cx="86" cy="531" rx="5.8" ry="2.4" transform="rotate(24.5 86 531)" fill="#f4d2a4" stroke="#a05a3a" stroke-width="1"/>
<ellipse cx="86" cy="531" rx="4.1" ry="1.6" transform="rotate(24.5 86 531)" fill="#c9473c" opacity="0.85"/>
<path d="M58.1,580 L71.1,540.5 L68.6,539.6 L53.5,578.3 Z" fill="#a04a48"/>
<line x1="56.5" y1="579.4" x2="70.1" y2="540.1" stroke="#f4b0a0" stroke-width="1.1" opacity="0.7"/>
<path d="M71.1,540.5 Q73,536.1 76.3,535.6 L67.7,532.4 Q69.9,535 68.6,539.6 Z" fill="#e0b070" stroke="#a05a3a" stroke-width="1.2"/>
<ellipse cx="72" cy="534" rx="4.6" ry="1.9" transform="rotate(19.7 72 534)" fill="#f4d2a4" stroke="#a05a3a" stroke-width="1"/>
<ellipse cx="72" cy="534" rx="3.3" ry="1.3" transform="rotate(19.7 72 534)" fill="#c9473c" opacity="0.85"/>
<path d="M45.3,576.1 L50.2,545.8 L47.6,545.2 L40.5,575.1 Z" fill="#a04a48"/>
<line x1="43.6" y1="575.7" x2="49.2" y2="545.5" stroke="#f4b0a0" stroke-width="1.1" opacity="0.7"/>
<path d="M50.2,545.8 Q51.3,541.7 53.9,540.8 L46.1,539.2 Q48.1,541.1 47.6,545.2 Z" fill="#d09058" stroke="#a05a3a" stroke-width="1.2"/>
<ellipse cx="50" cy="540" rx="4" ry="1.7" transform="rotate(11.3 50 540)" fill="#f4d2a4" stroke="#a05a3a" stroke-width="1"/>
<ellipse cx="50" cy="540" rx="2.9" ry="1.1" transform="rotate(11.3 50 540)" fill="#c9473c" opacity="0.85"/>
<path d="M76.1,589.4 L89.7,566.1 L87.4,564.7 L72,586.8 Z" fill="#a04a48"/>
<line x1="74.7" y1="588.5" x2="88.8" y2="565.5" stroke="#f4b0a0" stroke-width="1.1" opacity="0.7"/>
<path d="M89.7,566.1 Q92.5,562.2 95.9,562.5 L88.1,557.5 Q89.8,560.5 87.4,564.7 Z" fill="#d09058" stroke="#a05a3a" stroke-width="1.2"/>
<ellipse cx="92" cy="560" rx="4.6" ry="1.9" transform="rotate(32.5 92 560)" fill="#f4d2a4" stroke="#a05a3a" stroke-width="1"/>
<ellipse cx="92" cy="560" rx="3.3" ry="1.3" transform="rotate(32.5 92 560)" fill="#c9473c" opacity="0.85"/>
<path d="M89.1,600.1 L107.5,578.8 L105.5,576.9 L85.5,596.7 Z" fill="#a04a48"/>
<line x1="87.8" y1="598.9" x2="106.7" y2="578" stroke="#f4b0a0" stroke-width="1.1" opacity="0.7"/>
<path d="M107.5,578.8 Q111.8,574.6 116.2,575.9 L107.8,568.1 Q109.5,572.4 105.5,576.9 Z" fill="#e0b070" stroke="#a05a3a" stroke-width="1.2"/>
<ellipse cx="112" cy="572" rx="5.8" ry="2.4" transform="rotate(43.1 112 572)" fill="#f4d2a4" stroke="#a05a3a" stroke-width="1"/>
<ellipse cx="112" cy="572" rx="4.1" ry="1.6" transform="rotate(43.1 112 572)" fill="#c9473c" opacity="0.85"/>
<path d="M93.9,605.2 L139.4,561.9 L137.6,560 L90.6,601.5 Z" fill="#a04a48"/>
<line x1="92.7" y1="603.9" x2="138.7" y2="561.1" stroke="#f4b0a0" stroke-width="1.1" opacity="0.7"/>
<path d="M139.4,561.9 Q144.5,557.7 149.3,559.7 L140.7,550.3 Q142.3,555.3 137.6,560 Z" fill="#d09058" stroke="#a05a3a" stroke-width="1.2"/>
<ellipse cx="145" cy="555" rx="6.3" ry="2.7" transform="rotate(47.5 145 555)" fill="#f4d2a4" stroke="#a05a3a" stroke-width="1"/>
<ellipse cx="145" cy="555" rx="4.6" ry="1.8" transform="rotate(47.5 145 555)" fill="#c9473c" opacity="0.85"/>
<path d="M101.3,615 L132.9,591.6 L131.3,589.4 L98.5,610.9 Z" fill="#a04a48"/>
<line x1="100.3" y1="613.5" x2="132.3" y2="590.7" stroke="#f4b0a0" stroke-width="1.1" opacity="0.7"/>
<path d="M132.9,591.6 Q139,587.7 143.9,590.7 L136.1,579.3 Q137.1,585 131.3,589.4 Z" fill="#e0b070" stroke="#a05a3a" stroke-width="1.2"/>
<ellipse cx="140" cy="585" rx="6.9" ry="2.9" transform="rotate(55.2 140 585)" fill="#f4d2a4" stroke="#a05a3a" stroke-width="1"/>
<ellipse cx="140" cy="585" rx="5" ry="1.9" transform="rotate(55.2 140 585)" fill="#c9473c" opacity="0.85"/>
<path d="M102.8,617.4 L117.7,606.4 L116.2,604.1 L100.1,613.2 Z" fill="#a04a48"/>
<line x1="101.9" y1="615.9" x2="117.1" y2="605.5" stroke="#f4b0a0" stroke-width="1.1" opacity="0.7"/>
<path d="M117.7,606.4 Q123.9,602.7 128.8,605.8 L121.2,594.2 Q122.1,599.9 116.2,604.1 Z" fill="#e0b070" stroke="#a05a3a" stroke-width="1.2"/>
<ellipse cx="125" cy="600" rx="6.9" ry="2.9" transform="rotate(57 125 600)" fill="#f4d2a4" stroke="#a05a3a" stroke-width="1"/>
<ellipse cx="125" cy="600" rx="5" ry="1.9" transform="rotate(57 125 600)" fill="#c9473c" opacity="0.85"/>
<path d="M110,631.8 L153.2,612.4 L152.1,609.9 L108.1,627.2 Z" fill="#a04a48"/>
<line x1="109.3" y1="630.2" x2="152.7" y2="611.4" stroke="#f4b0a0" stroke-width="1.1" opacity="0.7"/>
<path d="M153.2,612.4 Q158.8,610.3 162.2,613.3 L157.8,602.7 Q157.5,607.3 152.1,609.9 Z" fill="#d09058" stroke="#a05a3a" stroke-width="1.2"/>
<ellipse cx="160" cy="608" rx="5.8" ry="2.4" transform="rotate(67.1 160 608)" fill="#f4d2a4" stroke="#a05a3a" stroke-width="1"/>
<ellipse cx="160" cy="608" rx="4.1" ry="1.6" transform="rotate(67.1 160 608)" fill="#c9473c" opacity="0.85"/>
<path d="M110.8,633.9 L182.3,604.5 L181.3,602 L108.9,629.3 Z" fill="#a04a48"/>
<line x1="110.1" y1="632.3" x2="181.9" y2="603.5" stroke="#f4b0a0" stroke-width="1.1" opacity="0.7"/>
<path d="M182.3,604.5 Q188.5,602.3 192.3,605.9 L187.7,594.1 Q187.4,599.3 181.3,602 Z" fill="#d09058" stroke="#a05a3a" stroke-width="1.2"/>
<ellipse cx="190" cy="600" rx="6.3" ry="2.7" transform="rotate(68.5 190 600)" fill="#f4d2a4" stroke="#a05a3a" stroke-width="1"/>
<ellipse cx="190" cy="600" rx="4.6" ry="1.8" transform="rotate(68.5 190 600)" fill="#c9473c" opacity="0.85"/>
<path d="M111.6,636.4 L143.7,623.7 L142.8,621.2 L110,631.8 Z" fill="#a04a48"/>
<line x1="111.1" y1="634.8" x2="143.3" y2="622.7" stroke="#f4b0a0" stroke-width="1.1" opacity="0.7"/>
<path d="M143.7,623.7 Q148.9,622.1 151.8,624.9 L148.2,615.1 Q147.8,619.1 142.8,621.2 Z" fill="#d8a060" stroke="#a05a3a" stroke-width="1.2"/>
<ellipse cx="150" cy="620" rx="5.2" ry="2.2" transform="rotate(70.2 150 620)" fill="#f4d2a4" stroke="#a05a3a" stroke-width="1"/>
<ellipse cx="150" cy="620" rx="3.7" ry="1.4" transform="rotate(70.2 150 620)" fill="#c9473c" opacity="0.85"/>
<circle cx="25" cy="665" r="114" fill="url(#gPinkBig)"/>
<path d="M42.6,576.4 q7.1,-2.8 10.3,-1.5" stroke="#f8dcd0" stroke-width="1.4" fill="none" opacity="0.75" stroke-linecap="round"/>
<path d="M17.4,620.2 q8.4,-2.5 12.9,-1.1" stroke="#e8b0a0" stroke-width="1.4" fill="none" opacity="0.75" stroke-linecap="round"/>
<path d="M-37.3,626.7 q3.9,-8.9 3.8,-13.9" stroke="#8a3a52" stroke-width="2.1" fill="none" opacity="0.75" stroke-linecap="round"/>
<path d="M20.6,626 q4.7,-3.5 5.4,-3" stroke="#e8b0a0" stroke-width="1.4" fill="none" opacity="0.75" stroke-linecap="round"/>
<path d="M63,637.7 q4.2,2 4.4,8" stroke="#8a3a52" stroke-width="2" fill="none" opacity="0.75" stroke-linecap="round"/>
<path d="M68.3,760.3 q-1.2,1.2 -6.4,6.3" stroke="#f8dcd0" stroke-width="2.1" fill="none" opacity="0.75" stroke-linecap="round"/>
<path d="M-50.5,714.8 q-3.5,-6.8 -11,-9.6" stroke="#a04a60" stroke-width="1.3" fill="none" opacity="0.75" stroke-linecap="round"/>
<path d="M120.4,715.8 q-1.4,1.8 -6.9,7.6" stroke="#a04a60" stroke-width="1.9" fill="none" opacity="0.75" stroke-linecap="round"/>
<path d="M90.7,603.6 q3.7,1.5 3.3,7" stroke="#8a3a52" stroke-width="2.1" fill="none" opacity="0.75" stroke-linecap="round"/>
<path d="M7.9,574.8 q9.9,-1.9 15.9,0.3" stroke="#f8dcd0" stroke-width="2.4" fill="none" opacity="0.75" stroke-linecap="round"/>
<path d="M-55.1,713.5 q-1.5,-6.9 -7.1,-9.8" stroke="#f8dcd0" stroke-width="2.3" fill="none" opacity="0.75" stroke-linecap="round"/>
<path d="M78.1,652 q3.3,2.6 2.7,9.3" stroke="#a04a60" stroke-width="2.1" fill="none" opacity="0.75" stroke-linecap="round"/>
<path d="M32.8,633.9 q6.4,-2.2 8.8,-0.4" stroke="#e8b0a0" stroke-width="2.1" fill="none" opacity="0.75" stroke-linecap="round"/>
<path d="M7.3,768.8 q-4.7,-4 -13.5,-4.1" stroke="#8a3a52" stroke-width="2.2" fill="none" opacity="0.75" stroke-linecap="round"/>
<path d="M4.5,735.9 q-2.1,-1.8 -8.1,0.4" stroke="#f8dcd0" stroke-width="1.2" fill="none" opacity="0.75" stroke-linecap="round"/>
<path d="M63.3,747.2 q-5.3,1 -14.7,6" stroke="#f8dcd0" stroke-width="2" fill="none" opacity="0.75" stroke-linecap="round"/>
<path d="M-13.8,666.8 q-0.6,-7.8 -5.3,-11.6" stroke="#a04a60" stroke-width="2.5" fill="none" opacity="0.75" stroke-linecap="round"/>
<path d="M-51.3,610.5 q5.4,-8 6.7,-12" stroke="#fce8e0" stroke-width="1.7" fill="none" opacity="0.75" stroke-linecap="round"/>
<path d="M16.3,730.5 q-3,-5.2 -10,-6.5" stroke="#f4c8b8" stroke-width="2" fill="none" opacity="0.75" stroke-linecap="round"/>
<path d="M-64.3,657.7 q4.7,-6.3 5.3,-8.6" stroke="#f4c8b8" stroke-width="2.4" fill="none" opacity="0.75" stroke-linecap="round"/>
<path d="M112.6,688.6 q-0,2.3 -4.1,8.6" stroke="#e8b0a0" stroke-width="2.4" fill="none" opacity="0.75" stroke-linecap="round"/>
<path d="M76.2,630.7 q4.8,1.3 5.6,6.5" stroke="#f4c8b8" stroke-width="1.5" fill="none" opacity="0.75" stroke-linecap="round"/>
<path d="M91.9,730.2 q-1.2,3 -6.5,10" stroke="#fce8e0" stroke-width="2.2" fill="none" opacity="0.75" stroke-linecap="round"/>
<path d="M5.5,614.3 q6.9,-4.2 9.7,-4.4" stroke="#fce8e0" stroke-width="1.8" fill="none" opacity="0.75" stroke-linecap="round"/>
<path d="M74.3,630.8 q2.9,3.4 1.8,10.8" stroke="#f4c8b8" stroke-width="2.3" fill="none" opacity="0.75" stroke-linecap="round"/>
<path d="M120.1,698.8 q-0.6,4.6 -5.2,13.2" stroke="#e8b0a0" stroke-width="2.2" fill="none" opacity="0.75" stroke-linecap="round"/>
<path d="M-23.7,612.8 q4.9,-5.6 5.8,-7.1" stroke="#a04a60" stroke-width="1.4" fill="none" opacity="0.75" stroke-linecap="round"/>
<path d="M60.2,626.3 q7.2,0.1 10.3,4.2" stroke="#fce8e0" stroke-width="2.1" fill="none" opacity="0.75" stroke-linecap="round"/>
<path d="M7.1,661.5 q3.5,-7.9 3,-11.8" stroke="#8a3a52" stroke-width="1.9" fill="none" opacity="0.75" stroke-linecap="round"/>
<path d="M27.2,759.6 q-3.6,-2.4 -11.2,-0.7" stroke="#f8dcd0" stroke-width="2.1" fill="none" opacity="0.75" stroke-linecap="round"/>
<path d="M-58.6,670.5 q1.4,-5.1 -1.2,-6.3" stroke="#e8b0a0" stroke-width="1.6" fill="none" opacity="0.75" stroke-linecap="round"/>
<path d="M101.9,712 q0.9,0.9 -2.2,5.8" stroke="#a04a60" stroke-width="1.6" fill="none" opacity="0.75" stroke-linecap="round"/>
<path d="M53.2,588 q7.2,1.6 10.4,7.2" stroke="#8a3a52" stroke-width="1.7" fill="none" opacity="0.75" stroke-linecap="round"/>
<path d="M34,633.9 q6.9,-2.3 9.9,-0.6" stroke="#8a3a52" stroke-width="1.8" fill="none" opacity="0.75" stroke-linecap="round"/>
<path d="M15.5,770.8 q-5.2,-1.3 -14.4,1.4" stroke="#f8dcd0" stroke-width="2.4" fill="none" opacity="0.75" stroke-linecap="round"/>
<path d="M-14.2,758.8 q-1.1,-3 -6.2,-2.1" stroke="#f4c8b8" stroke-width="2.3" fill="none" opacity="0.75" stroke-linecap="round"/>
<path d="M43.3,631.5 q6.3,4.2 8.6,12.4" stroke="#f8dcd0" stroke-width="1.6" fill="none" opacity="0.75" stroke-linecap="round"/>
<path d="M82.6,585.6 q7,4.1 10.1,12.2" stroke="#8a3a52" stroke-width="2.3" fill="none" opacity="0.75" stroke-linecap="round"/>
<path d="M38.1,568.2 q7.4,-2.6 10.8,-1.2" stroke="#a04a60" stroke-width="2.1" fill="none" opacity="0.75" stroke-linecap="round"/>
<path d="M-31.8,653.3 q4.3,-5.1 4.6,-6.1" stroke="#e8b0a0" stroke-width="2.2" fill="none" opacity="0.75" stroke-linecap="round"/>
<path d="M82.6,674.3 q0.7,1.8 -2.5,7.5" stroke="#f8dcd0" stroke-width="1.6" fill="none" opacity="0.75" stroke-linecap="round"/>
<path d="M24.5,767.6 q-2,-0.2 -8.1,3.7" stroke="#8a3a52" stroke-width="1.5" fill="none" opacity="0.75" stroke-linecap="round"/>
<path d="M-14.4,645.6 q5.6,-6.5 7.2,-9" stroke="#fce8e0" stroke-width="1.7" fill="none" opacity="0.75" stroke-linecap="round"/>
<path d="M89.8,644.6 q2.8,3.9 1.7,11.9" stroke="#a04a60" stroke-width="1.7" fill="none" opacity="0.75" stroke-linecap="round"/>
<path d="M43.2,764.4 q-2.3,-0.6 -8.5,2.7" stroke="#f8dcd0" stroke-width="1.4" fill="none" opacity="0.75" stroke-linecap="round"/>
<path d="M-4,680.7 q-0.9,-7 -5.8,-10.1" stroke="#fce8e0" stroke-width="2.2" fill="none" opacity="0.75" stroke-linecap="round"/>
<path d="M122.6,695.2 q0.4,4 -3.1,11.9" stroke="#f8dcd0" stroke-width="1.3" fill="none" opacity="0.75" stroke-linecap="round"/>
<path d="M107.4,599.6 q3.4,1.2 2.8,6.3" stroke="#e8b0a0" stroke-width="2.1" fill="none" opacity="0.75" stroke-linecap="round"/>
<path d="M81,571 q8.4,2.4 12.7,8.8" stroke="#f8dcd0" stroke-width="1.8" fill="none" opacity="0.75" stroke-linecap="round"/>
<path d="M-27.4,689.3 q1.5,-5.7 -1.1,-7.5" stroke="#f8dcd0" stroke-width="2" fill="none" opacity="0.75" stroke-linecap="round"/>
<path d="M114.7,620.1 q4.9,2.1 5.8,8.2" stroke="#fce8e0" stroke-width="1.5" fill="none" opacity="0.75" stroke-linecap="round"/>
<path d="M18.5,580.1 q9.5,-2.4 15,-0.8" stroke="#f8dcd0" stroke-width="1.9" fill="none" opacity="0.75" stroke-linecap="round"/>
<path d="M2,609.8 q9.5,-4 14.9,-4" stroke="#f4c8b8" stroke-width="2.2" fill="none" opacity="0.75" stroke-linecap="round"/>
<path d="M-69.9,673.8 q-0.4,-7.1 -4.7,-10.2" stroke="#f4c8b8" stroke-width="2.3" fill="none" opacity="0.75" stroke-linecap="round"/>
<path d="M111.6,714 q-0.6,5.2 -5.1,14.5" stroke="#8a3a52" stroke-width="1.5" fill="none" opacity="0.75" stroke-linecap="round"/>
<path d="M52.9,636.6 q5,0.2 6.1,4.4" stroke="#8a3a52" stroke-width="1.2" fill="none" opacity="0.75" stroke-linecap="round"/>
<path d="M-6.8,666.2 q-0.7,-7.9 -5.4,-11.9" stroke="#fce8e0" stroke-width="1.7" fill="none" opacity="0.75" stroke-linecap="round"/>
<path d="M54.8,704.8 q-2.7,-1.1 -9.5,1.9" stroke="#8a3a52" stroke-width="1.4" fill="none" opacity="0.75" stroke-linecap="round"/>
<path d="M-7.8,768.1 q-0.9,-3.7 -5.8,-3.3" stroke="#e8b0a0" stroke-width="1.5" fill="none" opacity="0.75" stroke-linecap="round"/>
<path d="M42.9,739.7 q-1.3,-1.2 -6.7,1.5" stroke="#8a3a52" stroke-width="1.7" fill="none" opacity="0.75" stroke-linecap="round"/>
<path d="M-20.2,727.3 q-3,-6.7 -10.1,-9.4" stroke="#8a3a52" stroke-width="1.6" fill="none" opacity="0.75" stroke-linecap="round"/>
<path d="M40.6,658.8 q3.7,2.1 3.5,8.2" stroke="#f4c8b8" stroke-width="2.3" fill="none" opacity="0.75" stroke-linecap="round"/>
<path d="M119.7,631.7 q4,1.7 3.9,7.3" stroke="#8a3a52" stroke-width="1.3" fill="none" opacity="0.75" stroke-linecap="round"/>
<path d="M11,720 q-5.9,-1.7 -15.8,0.6" stroke="#f4c8b8" stroke-width="1.2" fill="none" opacity="0.75" stroke-linecap="round"/>
<path d="M-32.2,598.8 q7.8,-5.5 11.5,-7" stroke="#a04a60" stroke-width="2" fill="none" opacity="0.75" stroke-linecap="round"/>
<path d="M101.2,625.8 q3.2,3.2 2.5,10.4" stroke="#fce8e0" stroke-width="2" fill="none" opacity="0.75" stroke-linecap="round"/>
<path d="M75.1,738.4 q-1.6,4.9 -7.3,13.7" stroke="#fce8e0" stroke-width="1.8" fill="none" opacity="0.75" stroke-linecap="round"/>
<path d="M26.5,736 q-5.8,-1 -15.5,1.9" stroke="#8a3a52" stroke-width="2.1" fill="none" opacity="0.75" stroke-linecap="round"/>
<path d="M71.7,627.6 q3.3,0.9 2.6,5.8" stroke="#a04a60" stroke-width="2.2" fill="none" opacity="0.75" stroke-linecap="round"/>
<path d="M44.9,727.2 q-2.8,1.6 -9.6,7.2" stroke="#e8b0a0" stroke-width="2.2" fill="none" opacity="0.75" stroke-linecap="round"/>
<path d="M-71.5,615.5 q3.4,-5 2.8,-5.9" stroke="#e8b0a0" stroke-width="1.9" fill="none" opacity="0.75" stroke-linecap="round"/>
<path d="M-45.8,678.7 q0.4,-8.2 -3.1,-12.3" stroke="#f4c8b8" stroke-width="1.8" fill="none" opacity="0.75" stroke-linecap="round"/>
<path d="M31.7,611.2 q7.2,-3.9 10.4,-3.8" stroke="#a04a60" stroke-width="1.5" fill="none" opacity="0.75" stroke-linecap="round"/>
<path d="M15.5,690 q-4.1,-5.5 -12.1,-7" stroke="#8a3a52" stroke-width="2" fill="none" opacity="0.75" stroke-linecap="round"/>
<path d="M90.7,678.3 q-1.9,4.7 -7.9,13.5" stroke="#a04a60" stroke-width="1.6" fill="none" opacity="0.75" stroke-linecap="round"/>
<path d="M86.7,576.2 q6,-1.5 8,0.9" stroke="#fce8e0" stroke-width="1.9" fill="none" opacity="0.75" stroke-linecap="round"/>
<path d="M57.1,668.1 q1.5,1.6 -0.9,7.2" stroke="#a04a60" stroke-width="2" fill="none" opacity="0.75" stroke-linecap="round"/>
<path d="M93.8,625.5 q5.2,2.4 6.4,8.9" stroke="#f4c8b8" stroke-width="1.9" fill="none" opacity="0.75" stroke-linecap="round"/>
<path d="M94.6,718.8 q0.2,3 -3.6,10" stroke="#f4c8b8" stroke-width="1.5" fill="none" opacity="0.75" stroke-linecap="round"/>
<path d="M44,634.1 q8.7,-0.6 13.4,2.8" stroke="#a04a60" stroke-width="2.2" fill="none" opacity="0.75" stroke-linecap="round"/>
<path d="M73.5,763.7 q-1.8,2.2 -7.6,8.4" stroke="#f8dcd0" stroke-width="1.6" fill="none" opacity="0.75" stroke-linecap="round"/>
<path d="M-29.2,646.6 q2,-5.3 0.1,-6.5" stroke="#8a3a52" stroke-width="1.6" fill="none" opacity="0.75" stroke-linecap="round"/>
<path d="M-47.1,688.4 q-0.4,-6.1 -4.7,-8.2" stroke="#a04a60" stroke-width="2.5" fill="none" opacity="0.75" stroke-linecap="round"/>
<path d="M91.9,695.4 q-2.8,1.6 -9.5,7.2" stroke="#e8b0a0" stroke-width="1.9" fill="none" opacity="0.75" stroke-linecap="round"/>
<path d="M-4.2,713.7 q-1.6,-7.1 -7.1,-10.1" stroke="#f8dcd0" stroke-width="1.9" fill="none" opacity="0.75" stroke-linecap="round"/>
<path d="M119.6,670.4 q1.9,4.2 -0.1,12.4" stroke="#fce8e0" stroke-width="2.3" fill="none" opacity="0.75" stroke-linecap="round"/>
<path d="M111.5,621.7 q3.2,1.9 2.5,7.8" stroke="#f4c8b8" stroke-width="2.2" fill="none" opacity="0.75" stroke-linecap="round"/>
<path d="M48.1,704.7 q0.1,0.7 -3.8,5.5" stroke="#f4c8b8" stroke-width="1.5" fill="none" opacity="0.75" stroke-linecap="round"/>
<path d="M2,618.9 q6.8,-5.9 9.7,-7.8" stroke="#f8dcd0" stroke-width="1.9" fill="none" opacity="0.75" stroke-linecap="round"/>
<path d="M34.9,648 q4.5,0.9 5,5.9" stroke="#e8b0a0" stroke-width="2" fill="none" opacity="0.75" stroke-linecap="round"/>
<path d="M-33.9,620.1 q8.2,-6.5 12.4,-9.1" stroke="#8a3a52" stroke-width="2" fill="none" opacity="0.75" stroke-linecap="round"/>
<path d="M42.5,647.1 q5.2,2.5 6.5,9.1" stroke="#a04a60" stroke-width="2.4" fill="none" opacity="0.75" stroke-linecap="round"/>
<path d="M28.3,582.9 q8.1,-0 12.2,4" stroke="#fce8e0" stroke-width="2.4" fill="none" opacity="0.75" stroke-linecap="round"/>
<path d="M-46.3,625.1 q4.1,-9.7 4.2,-15.3" stroke="#f8dcd0" stroke-width="2.1" fill="none" opacity="0.75" stroke-linecap="round"/>
<path d="M19,602.1 q8.4,-4.8 12.8,-5.5" stroke="#fce8e0" stroke-width="2.5" fill="none" opacity="0.75" stroke-linecap="round"/>
<path d="M82.8,697.3 q1.7,2 -0.5,7.9" stroke="#f4c8b8" stroke-width="2.2" fill="none" opacity="0.75" stroke-linecap="round"/>
<path d="M82.7,725.3 q-2.3,0.4 -8.7,4.8" stroke="#f4c8b8" stroke-width="2.2" fill="none" opacity="0.75" stroke-linecap="round"/>
<path d="M47.6,618.7 q5.6,-0.7 7.2,2.7" stroke="#fce8e0" stroke-width="2.3" fill="none" opacity="0.75" stroke-linecap="round"/>
<path d="M55.3,654.2 q2.1,3.5 0.2,10.9" stroke="#a04a60" stroke-width="1.6" fill="none" opacity="0.75" stroke-linecap="round"/>
<path d="M109.6,621.7 q3.5,3.4 2.9,10.9" stroke="#8a3a52" stroke-width="2" fill="none" opacity="0.75" stroke-linecap="round"/>
<path d="M20.8,667.5 q-3.8,-6.1 -11.6,-8.3" stroke="#fce8e0" stroke-width="2.4" fill="none" opacity="0.75" stroke-linecap="round"/>
<path d="M49.4,662.1 q5.3,3.3 6.5,10.6" stroke="#e8b0a0" stroke-width="1.4" fill="none" opacity="0.75" stroke-linecap="round"/>
<path d="M120.2,716.9 q-2.9,1.6 -9.9,7.3" stroke="#e8b0a0" stroke-width="1.5" fill="none" opacity="0.75" stroke-linecap="round"/>
<path d="M-15.1,599.9 q6.3,-2.7 8.5,-1.3" stroke="#f8dcd0" stroke-width="2.4" fill="none" opacity="0.75" stroke-linecap="round"/>
<path d="M39.8,769.9 q-5.4,-0.9 -14.8,2.2" stroke="#a04a60" stroke-width="1.9" fill="none" opacity="0.75" stroke-linecap="round"/>
<path d="M51.7,699.2 q-5.1,-0.4 -14.2,3.1" stroke="#f8dcd0" stroke-width="2.4" fill="none" opacity="0.75" stroke-linecap="round"/>
<path d="M43.3,756.9 q-2.7,-0.4 -9.4,3.2" stroke="#f8dcd0" stroke-width="2.4" fill="none" opacity="0.75" stroke-linecap="round"/>
<path d="M-4.6,568 q8.5,-5 13,-5.9" stroke="#e8b0a0" stroke-width="1.3" fill="none" opacity="0.75" stroke-linecap="round"/>
<path d="M-29.7,594.5 q6.3,-8.1 8.7,-12.1" stroke="#fce8e0" stroke-width="1.8" fill="none" opacity="0.75" stroke-linecap="round"/>
<path d="M-20.3,638.4 q6.9,-5.1 9.8,-6.2" stroke="#8a3a52" stroke-width="2.2" fill="none" opacity="0.75" stroke-linecap="round"/>
<path d="M94.5,589.2 q5,1.9 6,7.9" stroke="#fce8e0" stroke-width="2.1" fill="none" opacity="0.75" stroke-linecap="round"/>
<path d="M-28.8,693.4 q1.6,-6.3 -0.9,-8.7" stroke="#a04a60" stroke-width="1.5" fill="none" opacity="0.75" stroke-linecap="round"/>
<path d="M-37.7,693.2 q-1.6,-6.2 -7.1,-8.5" stroke="#f8dcd0" stroke-width="2.3" fill="none" opacity="0.75" stroke-linecap="round"/>
<path d="M-68.5,617.5 q4.5,-6.7 4.9,-9.4" stroke="#a04a60" stroke-width="2" fill="none" opacity="0.75" stroke-linecap="round"/>
<path d="M115.2,712.9 q-1.3,3 -6.6,10.1" stroke="#f4c8b8" stroke-width="2.4" fill="none" opacity="0.75" stroke-linecap="round"/>
<path d="M21.1,562.8 q8.2,-3.9 12.4,-3.9" stroke="#f8dcd0" stroke-width="1.6" fill="none" opacity="0.75" stroke-linecap="round"/>
<path d="M-50.6,695.3 q1.8,-6.8 -0.5,-9.5" stroke="#f4c8b8" stroke-width="2" fill="none" opacity="0.75" stroke-linecap="round"/>
<path d="M99.6,660.9 q3.6,3.5 3.3,10.9" stroke="#a04a60" stroke-width="2.3" fill="none" opacity="0.75" stroke-linecap="round"/>
<path d="M20.5,681.2 q-5,-2 -13.9,-0.1" stroke="#8a3a52" stroke-width="2.4" fill="none" opacity="0.75" stroke-linecap="round"/>
<path d="M5.5,576.2 q4.7,-3.5 5.4,-2.9" stroke="#e8b0a0" stroke-width="2.3" fill="none" opacity="0.75" stroke-linecap="round"/>
<path d="M40.3,713.5 q-5.8,-3.5 -15.6,-3" stroke="#a04a60" stroke-width="2" fill="none" opacity="0.75" stroke-linecap="round"/>
<path d="M-49.3,713.9 q0.9,-5.7 -2.1,-7.5" stroke="#a04a60" stroke-width="2.3" fill="none" opacity="0.75" stroke-linecap="round"/>
<path d="M76.2,710.3 q-1.9,1.6 -7.9,7.3" stroke="#f4c8b8" stroke-width="1.4" fill="none" opacity="0.75" stroke-linecap="round"/>
<path d="M16.1,660.2 q5.5,-4.7 7.1,-5.4" stroke="#f8dcd0" stroke-width="2.2" fill="none" opacity="0.75" stroke-linecap="round"/>
<path d="M28.8,618.8 q8.1,-2.2 12.2,-0.4" stroke="#f4c8b8" stroke-width="2.1" fill="none" opacity="0.75" stroke-linecap="round"/>
<path d="M37.6,738.1 q-5.4,-3.8 -14.9,-3.6" stroke="#a04a60" stroke-width="1.7" fill="none" opacity="0.75" stroke-linecap="round"/>
<path d="M8.7,765.3 q-2.5,-1 -9.1,2" stroke="#a04a60" stroke-width="1.4" fill="none" opacity="0.75" stroke-linecap="round"/>
<path d="M-81,664 q-0.9,-8.7 -5.9,-13.3" stroke="#a04a60" stroke-width="1.8" fill="none" opacity="0.75" stroke-linecap="round"/>
<path d="M41.6,750.2 q-4,2.9 -12,9.7" stroke="#a04a60" stroke-width="2.4" fill="none" opacity="0.75" stroke-linecap="round"/>
<path d="M96,667 q2.8,2.3 1.6,8.5" stroke="#a04a60" stroke-width="1.4" fill="none" opacity="0.75" stroke-linecap="round"/>
<path d="M-29,601.6 q5.8,-6.5 7.7,-9.1" stroke="#f8dcd0" stroke-width="1.3" fill="none" opacity="0.75" stroke-linecap="round"/>
<path d="M49.2,559.5 q6.6,1.4 9.3,6.8" stroke="#8a3a52" stroke-width="1.4" fill="none" opacity="0.75" stroke-linecap="round"/>
<path d="M32.3,724.1 q-2.3,-0.9 -8.5,2.2" stroke="#a04a60" stroke-width="2" fill="none" opacity="0.75" stroke-linecap="round"/>
<path d="M2,759.6 q-2.4,-4.2 -8.8,-4.3" stroke="#e8b0a0" stroke-width="1.7" fill="none" opacity="0.75" stroke-linecap="round"/>
<path d="M-52.9,695 q-0.5,-4.3 -5.1,-4.5" stroke="#8a3a52" stroke-width="1.8" fill="none" opacity="0.75" stroke-linecap="round"/>
<path d="M-10.5,572.5 q5.4,-2.7 6.7,-1.4" stroke="#8a3a52" stroke-width="1.3" fill="none" opacity="0.75" stroke-linecap="round"/>
<path d="M-26,650.1 q1.3,-6.2 -1.4,-8.4" stroke="#f8dcd0" stroke-width="1.9" fill="none" opacity="0.75" stroke-linecap="round"/>
<path d="M17.4,763.8 q-4.7,-3.8 -13.5,-3.6" stroke="#f8dcd0" stroke-width="1.7" fill="none" opacity="0.75" stroke-linecap="round"/>
<path d="M52.2,759.5 q-0.9,0 -5.9,4" stroke="#fce8e0" stroke-width="2" fill="none" opacity="0.75" stroke-linecap="round"/>
<path d="M-6.3,715.4 q-4.5,-4.4 -13,-4.7" stroke="#f8dcd0" stroke-width="2.1" fill="none" opacity="0.75" stroke-linecap="round"/>
<path d="M36.8,641.2 q5.1,-0.9 6.2,2.1" stroke="#e8b0a0" stroke-width="1.6" fill="none" opacity="0.75" stroke-linecap="round"/>
<path d="M15.8,577.7 q6.9,-3.1 9.8,-2.2" stroke="#f8dcd0" stroke-width="1.5" fill="none" opacity="0.75" stroke-linecap="round"/>
<path d="M-14.3,569.5 q6.6,-3.2 9.3,-2.3" stroke="#a04a60" stroke-width="1.4" fill="none" opacity="0.75" stroke-linecap="round"/>
<path d="M3.3,726.8 q-2.9,-1.4 -9.8,1.3" stroke="#a04a60" stroke-width="1.4" fill="none" opacity="0.75" stroke-linecap="round"/>
<path d="M101.5,637.9 q1.8,1.5 -0.4,7.1" stroke="#f4c8b8" stroke-width="2.5" fill="none" opacity="0.75" stroke-linecap="round"/>
<path d="M-56.6,650.2 q3.4,-9.5 2.8,-15" stroke="#f8dcd0" stroke-width="2.2" fill="none" opacity="0.75" stroke-linecap="round"/>
<path d="M-76.6,626.1 q3.2,-8 2.5,-12" stroke="#e8b0a0" stroke-width="1.6" fill="none" opacity="0.75" stroke-linecap="round"/>
<path d="M52.5,710.6 q-0.3,0.7 -4.6,5.4" stroke="#fce8e0" stroke-width="2" fill="none" opacity="0.75" stroke-linecap="round"/>
<path d="M-73.2,649.9 q1.3,-8.8 -1.4,-13.6" stroke="#8a3a52" stroke-width="1.3" fill="none" opacity="0.75" stroke-linecap="round"/>
<path d="M11.8,624.5 q7.8,-3.6 11.6,-3.3" stroke="#e8b0a0" stroke-width="2.5" fill="none" opacity="0.75" stroke-linecap="round"/>
<path d="M22.7,591.8 q8.2,-4 12.4,-4" stroke="#e8b0a0" stroke-width="1.8" fill="none" opacity="0.75" stroke-linecap="round"/>
<path d="M-34.6,700.1 q1,-8.9 -2.1,-13.8" stroke="#f4c8b8" stroke-width="1.9" fill="none" opacity="0.75" stroke-linecap="round"/>
<path d="M41.3,709.4 q-3.2,-1.2 -10.5,1.7" stroke="#a04a60" stroke-width="2.2" fill="none" opacity="0.75" stroke-linecap="round"/>
<path d="M-18.5,654.5 q5.3,-7.9 6.7,-11.8" stroke="#f4c8b8" stroke-width="1.5" fill="none" opacity="0.75" stroke-linecap="round"/>
<path d="M-19.1,569.6 q6.6,-3.8 9.2,-3.5" stroke="#a04a60" stroke-width="1.9" fill="none" opacity="0.75" stroke-linecap="round"/>
<path d="M108.2,613.4 q8,2.2 12.1,8.4" stroke="#a04a60" stroke-width="2" fill="none" opacity="0.75" stroke-linecap="round"/>
<path d="M15.6,729.2 q-3.8,-1 -11.6,1.9" stroke="#fce8e0" stroke-width="2" fill="none" opacity="0.75" stroke-linecap="round"/>
<path d="M-5.9,755.2 q-0.3,-4.2 -4.5,-4.5" stroke="#e8b0a0" stroke-width="2.5" fill="none" opacity="0.75" stroke-linecap="round"/>
<path d="M-0.9,621 q5,-4.8 6,-5.5" stroke="#e8b0a0" stroke-width="1.6" fill="none" opacity="0.75" stroke-linecap="round"/>
<path d="M29,722.7 q-5.6,-0.6 -15.2,2.7" stroke="#e8b0a0" stroke-width="1.6" fill="none" opacity="0.75" stroke-linecap="round"/>
<path d="M-13.4,697.6 q-1.7,-6.7 -7.4,-9.4" stroke="#a04a60" stroke-width="1.4" fill="none" opacity="0.75" stroke-linecap="round"/>
<path d="M61.9,710.8 q-0.8,2.6 -5.6,9.2" stroke="#e8b0a0" stroke-width="1.5" fill="none" opacity="0.75" stroke-linecap="round"/>
<path d="M118.7,693.2 q0.1,0.5 -3.8,5" stroke="#f8dcd0" stroke-width="1.4" fill="none" opacity="0.75" stroke-linecap="round"/>
<path d="M36.4,564.6 q6.5,-1.9 9,0.2" stroke="#f8dcd0" stroke-width="1.8" fill="none" opacity="0.75" stroke-linecap="round"/>
<path d="M135.5,656.6 q1.1,1.8 -1.8,7.6" stroke="#8a3a52" stroke-width="1.2" fill="none" opacity="0.75" stroke-linecap="round"/>
<path d="M70.5,744.4 q-0.5,-0.3 -4.9,3.5" stroke="#fce8e0" stroke-width="1.4" fill="none" opacity="0.75" stroke-linecap="round"/>
<path d="M77.5,632 q3.5,3.6 3.1,11.3" stroke="#e8b0a0" stroke-width="1.3" fill="none" opacity="0.75" stroke-linecap="round"/>
<path d="M38.7,761.1 q-1.3,-2.3 -6.5,-0.7" stroke="#f8dcd0" stroke-width="1.9" fill="none" opacity="0.75" stroke-linecap="round"/>
<path d="M51.5,652.8 q2.8,3.3 1.6,10.5" stroke="#fce8e0" stroke-width="2" fill="none" opacity="0.75" stroke-linecap="round"/>
<path d="M43.4,690.3 q-0.8,-1 -5.7,2.1" stroke="#8a3a52" stroke-width="2.2" fill="none" opacity="0.75" stroke-linecap="round"/>
<path d="M67.3,742.7 q-2.3,2.2 -8.6,8.5" stroke="#8a3a52" stroke-width="1.5" fill="none" opacity="0.75" stroke-linecap="round"/>
<path d="M25.7,577.4 q7.5,-4.2 10.9,-4.5" stroke="#e8b0a0" stroke-width="2.1" fill="none" opacity="0.75" stroke-linecap="round"/>
<path d="M66.3,710.4 q-4.5,0.9 -12.9,5.8" stroke="#8a3a52" stroke-width="1.8" fill="none" opacity="0.75" stroke-linecap="round"/>
<path d="M-10.9,707.4 q-0.3,-7.3 -4.6,-10.6" stroke="#fce8e0" stroke-width="1.9" fill="none" opacity="0.75" stroke-linecap="round"/>
<path d="M72.3,584.8 q6.5,0.3 9,4.6" stroke="#f8dcd0" stroke-width="1.7" fill="none" opacity="0.75" stroke-linecap="round"/>
<path d="M1.2,560.7 q6.5,-4 9.1,-4" stroke="#8a3a52" stroke-width="1.9" fill="none" opacity="0.75" stroke-linecap="round"/>
<path d="M-72.8,622.8 q1.8,-9.9 -0.4,-15.8" stroke="#e8b0a0" stroke-width="2.1" fill="none" opacity="0.75" stroke-linecap="round"/>
<path d="M-59.8,671.8 q-0.4,-5.8 -4.9,-7.5" stroke="#f8dcd0" stroke-width="1.5" fill="none" opacity="0.75" stroke-linecap="round"/>
<path d="M129.5,641.6 q1.3,5.2 -1.3,14.5" stroke="#a04a60" stroke-width="1.3" fill="none" opacity="0.75" stroke-linecap="round"/>
<path d="M-45.5,665.6 q0.1,-6 -3.9,-8.1" stroke="#f4c8b8" stroke-width="1.5" fill="none" opacity="0.75" stroke-linecap="round"/>
<path d="M-6.8,716.3 q-3.5,-6.7 -11,-9.4" stroke="#fce8e0" stroke-width="1.8" fill="none" opacity="0.75" stroke-linecap="round"/>
<path d="M14.4,644 q9.8,-2.2 15.7,-0.5" stroke="#fce8e0" stroke-width="1.5" fill="none" opacity="0.75" stroke-linecap="round"/>
<path d="M-25.4,667.8 q-0.2,-6.8 -4.4,-9.5" stroke="#8a3a52" stroke-width="1.9" fill="none" opacity="0.75" stroke-linecap="round"/>
<path d="M105.9,666.5 q2.4,3.1 0.9,10.2" stroke="#f4c8b8" stroke-width="2.4" fill="none" opacity="0.75" stroke-linecap="round"/>
<path d="M95.9,592.1 q6.2,1.7 8.4,7.4" stroke="#fce8e0" stroke-width="2.4" fill="none" opacity="0.75" stroke-linecap="round"/>
<path d="M18.6,562.2 q8,-1.4 11.9,1.3" stroke="#f8dcd0" stroke-width="2.1" fill="none" opacity="0.75" stroke-linecap="round"/>
<path d="M71.2,572.3 q6.7,4 9.5,11.9" stroke="#a04a60" stroke-width="1.4" fill="none" opacity="0.75" stroke-linecap="round"/>
<path d="M38.3,572.1 q6.4,-0.1 8.8,3.8" stroke="#f4c8b8" stroke-width="1.2" fill="none" opacity="0.75" stroke-linecap="round"/>
<path d="M-14.9,699.8 q-1.6,-5.8 -7.2,-7.5" stroke="#f4c8b8" stroke-width="1.6" fill="none" opacity="0.75" stroke-linecap="round"/>
<path d="M-4.4,764.2 q-4.8,-2.8 -13.7,-1.6" stroke="#8a3a52" stroke-width="1.3" fill="none" opacity="0.75" stroke-linecap="round"/>
<path d="M70.2,616.6 q5.9,-0.4 7.7,3.2" stroke="#a04a60" stroke-width="1.4" fill="none" opacity="0.75" stroke-linecap="round"/>
<path d="M5.2,600.7 q6.3,-5 8.7,-5.9" stroke="#a04a60" stroke-width="2.4" fill="none" opacity="0.75" stroke-linecap="round"/>
<path d="M-22,657.5 q2.8,-6 1.6,-8" stroke="#a04a60" stroke-width="1.3" fill="none" opacity="0.75" stroke-linecap="round"/>
<path d="M-17.5,723.1 q-5.1,-3.2 -14.3,-2.3" stroke="#f8dcd0" stroke-width="2.4" fill="none" opacity="0.75" stroke-linecap="round"/>
<path d="M-51.4,667.5 q-0.8,-7.3 -5.7,-10.5" stroke="#fce8e0" stroke-width="1.3" fill="none" opacity="0.75" stroke-linecap="round"/>
<path d="M55,627.8 q6.2,0.8 8.3,5.6" stroke="#f4c8b8" stroke-width="1.5" fill="none" opacity="0.75" stroke-linecap="round"/>
<path d="M2.2,729.1 q-4.3,-6.1 -12.5,-8.1" stroke="#e8b0a0" stroke-width="2.1" fill="none" opacity="0.75" stroke-linecap="round"/>
<path d="M21.8,732.1 q-5.5,-2.4 -15,-0.9" stroke="#f4c8b8" stroke-width="2.5" fill="none" opacity="0.75" stroke-linecap="round"/>
<path d="M12.4,726.4 q-4.8,-3.6 -13.6,-3.1" stroke="#f4c8b8" stroke-width="2.2" fill="none" opacity="0.75" stroke-linecap="round"/>
<path d="M59.2,583.2 q7.7,1.4 11.4,6.8" stroke="#8a3a52" stroke-width="1.4" fill="none" opacity="0.75" stroke-linecap="round"/>
<path d="M42.5,750.4 q-3.4,1.5 -10.8,7.1" stroke="#e8b0a0" stroke-width="1.8" fill="none" opacity="0.75" stroke-linecap="round"/>
<path d="M110,664 q1.9,1.9 -0.1,7.7" stroke="#a04a60" stroke-width="2.3" fill="none" opacity="0.75" stroke-linecap="round"/>
<path d="M-46.4,619.7 q6.8,-4.9 9.6,-5.9" stroke="#8a3a52" stroke-width="1.7" fill="none" opacity="0.75" stroke-linecap="round"/>
<path d="M40.7,742.7 q-1,-2.6 -6.1,-1.2" stroke="#f8dcd0" stroke-width="2.2" fill="none" opacity="0.75" stroke-linecap="round"/>
<path d="M70.1,623.7 q4.3,3.7 4.5,11.3" stroke="#8a3a52" stroke-width="2" fill="none" opacity="0.75" stroke-linecap="round"/>
<path d="M68.9,581.3 q5.1,-0.7 6.1,2.7" stroke="#e8b0a0" stroke-width="1.4" fill="none" opacity="0.75" stroke-linecap="round"/>
<path d="M-49.4,671.8 q-2.2,-8.7 -8.4,-13.4" stroke="#e8b0a0" stroke-width="1.2" fill="none" opacity="0.75" stroke-linecap="round"/>
<path d="M-19.4,693.3 q1.1,-5.5 -1.8,-7" stroke="#8a3a52" stroke-width="2.3" fill="none" opacity="0.75" stroke-linecap="round"/>
<path d="M-25.4,635.1 q3.1,-8.4 2.1,-12.9" stroke="#8a3a52" stroke-width="1.3" fill="none" opacity="0.75" stroke-linecap="round"/>
<path d="M44.6,697.9 q-3.1,2.7 -10.2,9.5" stroke="#f4c8b8" stroke-width="2.4" fill="none" opacity="0.75" stroke-linecap="round"/>
<path d="M-8.8,646.3 q7.1,-6.6 10.1,-9.2" stroke="#f4c8b8" stroke-width="2.4" fill="none" opacity="0.75" stroke-linecap="round"/>
<path d="M2.8,562.4 q5.6,-4.2 7.2,-4.3" stroke="#8a3a52" stroke-width="2.1" fill="none" opacity="0.75" stroke-linecap="round"/>
<path d="M44.3,738.7 q-3.3,1.3 -10.6,6.6" stroke="#f4c8b8" stroke-width="2.5" fill="none" opacity="0.75" stroke-linecap="round"/>
<path d="M-42.9,606.4 q5.4,-5.9 6.7,-7.8" stroke="#fce8e0" stroke-width="1.2" fill="none" opacity="0.75" stroke-linecap="round"/>
<path d="M-14.6,679.1 q0.4,-7.5 -3.1,-11.1" stroke="#fce8e0" stroke-width="2.3" fill="none" opacity="0.75" stroke-linecap="round"/>
<path d="M-4.2,566.2 q8.7,-1.7 13.3,0.5" stroke="#a04a60" stroke-width="1.6" fill="none" opacity="0.75" stroke-linecap="round"/>
<path d="M125.4,703.6 q0.9,2.1 -2.2,8.3" stroke="#fce8e0" stroke-width="2.1" fill="none" opacity="0.75" stroke-linecap="round"/>
<path d="M-69.9,721.4 q0.3,-4.5 -3.4,-4.9" stroke="#e8b0a0" stroke-width="2.4" fill="none" opacity="0.75" stroke-linecap="round"/>
<path d="M-54.8,673.5 q1.9,-5.5 -0.3,-7" stroke="#fce8e0" stroke-width="1.3" fill="none" opacity="0.75" stroke-linecap="round"/>
<path d="M44.1,573.6 q5.8,0.2 7.5,4.4" stroke="#e8b0a0" stroke-width="2.5" fill="none" opacity="0.75" stroke-linecap="round"/>
</g></svg>

<!-- pink text panel -->
<div class="panel" style="left:13px;top:624px;width:279px;height:134px;background:linear-gradient(90deg,rgba(155,40,75,0.8),rgba(172,60,92,0.93));"></div>
<div class="sm" style="left:25px;top:629px;font-size:11.5px;line-height:13.3px;color:#fff">The rueen influm. bmapredo. sbefuce is of the<br>Iinudalry eac the bramr lor tor that ma troodleslin<br>the dis stegramthoht thedaradtig. Incory nfo as<br>Vore theshgcornuntneacerrbe canntse thur the<br>Oca btradrate throttonerasas ssee olher to<br>ond ea rer ing dtunandl tirs<br>Iuntle. the rocaufl ntdernvarrn searth lortion to<br>Thr aime the cller ethietine loolin in gtis lm atobets<br>Mivitet on tambituif tabreb ife tye.</div>

<!-- 15% panel -->
<div class="panel" style="left:341px;top:527px;width:313px;height:233px;border-radius:10px;background:linear-gradient(180deg,#35438a,#2a3778)"></div>
<div class="t b" style="left:363px;top:535px;font-size:27px;letter-spacing:0.8px">15%,00%</div>
<div class="t b" style="left:364px;top:563px;font-size:15px">Betts Inflenote</div>
<svg class="a" style="left:506px;top:537px" width="26" height="26" viewBox="0 0 26 26"><path d="M12,2 L15,2 L15.5,10 L24,10.5 L24,14 L15.5,14.5 L15,23 L11.5,23 L11,14.5 L3,14 L3,10.5 L11,10 Z" fill="#f5a623"/><path d="M3,10.5 L11,10 L11,14.5 L3,14 Z" fill="#f8c040"/><path d="M15.5,14.5 L15,23 L13,23 Z" fill="#3a5ac8" opacity="0.6"/></svg>
<div class="sm" style="left:536px;top:537px;font-size:7.5px;line-height:8px;color:#e0e4f8;transform:scaleX(0.88);transform-origin:0 0">8 BPN<br>Retcebod tioulttecik. Reble<br>Cgovbcrrrl ons Rtitreble  te<br>Edore prerat Rkoel tkue otwrreridtes</div>
<div class="panel" style="left:355px;top:587px;width:166px;height:83px;border-radius:10px;background:#5b6ba3"></div>
<div class="t b" style="left:364px;top:597px;font-size:27px;letter-spacing:-1.6px">317%</div>
<div class="sm" style="left:364px;top:627px;font-size:10.5px;line-height:11.5px;transform:scaleX(0.91);transform-origin:0 0">Be ediiroa ST fdocedsayae.<br>Eedlihacr aotdnoeoctirg<br>Bedlict l ort twricedl alb Bedaytdal.</div>
<div class="panel" style="left:533px;top:587px;width:110px;height:80px;border-radius:10px;background:#c9cce8"></div>
<div class="t b" style="left:549px;top:597px;font-size:27px;letter-spacing:-2.5px">521%</div>
<div class="sm navy" style="left:540px;top:625px;font-size:10px;line-height:11px;text-align:center;width:95px;transform:scaleX(0.9);transform-origin:0 0">Beicker fas fur bealit<br>bav'Se the tobic ours<br>oole exed</div>
<div class="panel" style="left:349px;top:688px;width:140px;height:71px;border-radius:10px;background:#3aa4d6"></div>
<div class="t b" style="left:361px;top:698px;font-size:25px;transform:scaleX(1.07);transform-origin:0 0">75%</div>
<div class="sm" style="left:361px;top:727px;font-size:10.5px;line-height:10.5px;transform:scaleX(0.9);transform-origin:0 0">The oours seatheipe a leim<br>elotfirg to ler the to</div>
<div class="panel" style="left:504px;top:689px;width:144px;height:70px;border-radius:10px;background:#ced0ea"></div>
<div class="t b" style="left:514px;top:699px;font-size:24px">61%</div>
<div class="sm navy" style="left:514px;top:729px;font-size:9.5px;line-height:10.5px;transform:scaleX(0.93);transform-origin:0 0">Beli vadorb tienaodal hemanig<br>Grmes hns a war thed eayess</div>

<!-- chart panel -->
<div class="panel" style="left:686px;top:246px;width:287px;height:224px;border-radius:9px;background:#38a6d3"></div>
<div class="t b" style="left:698px;top:254px;font-size:16px;line-height:17px;letter-spacing:-0.05px">Influenza<br>B Influenza B B?</div>
<div class="t" style="left:885px;top:256px;font-size:12.5px;line-height:17px;text-align:center;letter-spacing:0px;font-weight:600">Tnfr Infuece<br>Fiblec &amp;A</div>
<div class="panel" style="left:698px;top:298px;width:130px;height:13px;border-radius:7px;background:#1c3566"></div>
<div class="sm" style="left:709px;top:300px;font-size:7px;color:#dde">&#8226;&nbsp;&nbsp;&nbsp;&nbsp;&nbsp;|&nbsp;&nbsp;&nbsp;&nbsp;&nbsp;&nbsp;&nbsp;&nbsp;|&nbsp;&nbsp;&nbsp;B&nbsp;&nbsp;&nbsp;&nbsp;&nbsp;&nbsp;&nbsp;&nbsp;&#9679;&nbsp;&nbsp;&nbsp;&nbsp;&nbsp;&nbsp;&nbsp;&nbsp;b&nbsp;&nbsp;&nbsp;|</div>
<svg class="a" style="left:686px;top:246px" width="287" height="224" viewBox="686 246 287 224">
 <g font-family="Liberation Sans, sans-serif" font-size="6" fill="#e6f2fb">
  <text x="694" y="355">1%</text><text x="694" y="367">40</text><text x="694" y="380">3%</text><text x="694" y="392">160</text><text x="694" y="404">13</text><text x="694" y="418">5.6</text><text x="697" y="435">0</text>
  <text x="702" y="336">4- 6.5%</text><text x="706" y="345">Bae</text><text x="738" y="347">Bailde</text><text x="771" y="345">Bufs</text><text x="795" y="336">B 35</text><text x="799" y="345">Bat</text><text x="808" y="375">Biou</text>
  <text x="702" y="452">Ad</text><text x="700" y="460">etdw</text><text x="734" y="452">Abrto</text><text x="736" y="460">dat</text><text x="767" y="452">Ertio</text><text x="765" y="460">tsaen</text><text x="806" y="452">Bant</text><text x="810" y="460">tt</text>
 </g>
 <g stroke="#7fbde0" stroke-width="0.6"><line x1="708" y1="353" x2="716" y2="353"/><line x1="708" y1="366" x2="716" y2="366"/><line x1="708" y1="378" x2="716" y2="378"/><line x1="708" y1="390" x2="716" y2="390"/><line x1="708" y1="402" x2="716" y2="402"/><line x1="708" y1="416" x2="716" y2="416"/></g>
 <line x1="716" y1="434.5" x2="822" y2="434.5" stroke="#cfe6f6" stroke-width="1"/>
 <rect x="723" y="366" width="4" height="68" fill="#1e44a5"/>
 <rect x="742" y="353" width="4" height="87" fill="#9a1f55"/>
 <rect x="759.5" y="357" width="3.5" height="77" fill="#1e44a5"/>
 <rect x="775" y="345" width="4.5" height="90" fill="#f4f8fc"/>
 <rect x="794" y="397" width="3.5" height="37" fill="#1e44a5"/>
 <rect x="811.5" y="381" width="2.5" height="53" fill="#d8a830"/>
 <rect x="814" y="381" width="3.5" height="53" fill="#1e44a5"/>
 <!-- world map -->
 <g fill="#d6eefb">
  <path d="M854,313 L858,306 L864,302 L867,300 L872,301 L876,304 L881,302 L885,297 L888,295 L895,293 L904,291 L910,292 L917,294 L925,295 L936,296 L946,298 L956,300 L950,303 L941,307 L938,311 L936,316 L932,321 L930,325 L928,330 L927,335 L922,340 L919,338 L917,337 L912,340 L906,343 L904,339 L901,335 L896,336 L892,337 L887,336 L884,335 L880,330 L877,325 L872,324 L867,325 L862,326 L857,325 L855,320 Z"/>
  <path d="M850,337 L853,332 L857,329 L864,328 L874,328 L880,331 L885,335 L889,341 L887,346 L885,351 L882,357 L879,362 L875,367 L872,368 L869,362 L867,357 L865,351 L864,347 L859,346 L854,345 L851,342 Z"/>
  <path d="M929,359 L934,355 L939,354 L942,356 L946,355 L950,358 L951,363 L951,368 L947,371 L943,372 L939,369 L934,368 L929,368 Z"/>
  <path d="M922,341 L927,342 L931,345 L936,347 L940,346 L945,348 L949,351 L944,352 L938,351 L932,349 L926,347 L923,345 Z"/>
  <path d="M886,296 l4,-3 l2,1 l-4,3z M862,298 l4,-2 l1,1 l-4,2z"/>
 </g>
 <line x1="940" y1="443" x2="948" y2="435" stroke="#d4ecfa" stroke-width="0.8"/>
</svg>
<div class="panel" style="left:850px;top:388px;width:118px;height:76px;border-radius:6px;background:#e4f5fc"></div>
<div class="t b" style="left:887px;top:396px;font-size:9px;color:#2a5fa8">Fulowwrtia</div>
<div class="a" style="left:866px;top:410px;width:13px;height:13px;border-radius:50%;background:conic-gradient(#e03a3a 0 40%,#f2b233 0 70%,#2a5fa8 0)"></div>
<div class="t b" style="left:882px;top:407px;font-size:18px;color:#1c3a8a">1</div>
<div class="sm" style="left:893px;top:409px;font-size:7px;line-height:8px;color:#1c3a8a">&#8467;&nbsp; Bactre&nbsp;&nbsp;&nbsp;Dbo<br>ae  RBBSB  Bakrccrhs</div>
<div class="t b" style="left:857px;top:432px;font-size:15px;color:#1c3a8a">10Y</div>
<div class="sm" style="left:883px;top:434px;font-size:7px;line-height:8px;color:#1c3a8a;transform:scaleX(0.9);transform-origin:0 0">Ve-ffk<br>tarbaonetiotvtertrea<br>Pobafbal  Bade  Easerrorrsesie</div>

<!-- small paragraph top right -->
<div class="sm" style="left:1062px;top:155px;font-size:9.5px;line-height:10.5px;color:#d8def0">Tnirl arn fop to were burloomt<br>Enlenhag lw teant ha trelel tarke rnrthirs<br>ertrentelits ogend ard bon on dryt tirgartom.</div>

<!-- differences panel -->
<div class="t b" style="left:1025px;top:212px;font-size:18px;letter-spacing:-0.3px;color:#f0f2f8">Differences Influenza A</div>
<div class="panel" style="left:1008px;top:235px;width:322px;height:235px;border-radius:9px;background:#f6d89b;overflow:hidden">
 <div class="a" style="left:99px;top:89px;width:316px;height:316px;border-radius:50%;background:#fbebc9"></div>
</div>
<svg class="a" style="left:1008px;top:235px" width="322" height="235" viewBox="1008 235 322 235">
 <rect x="1023" y="250" width="272" height="15.5" rx="7.75" fill="#1d2d5a"/>
 <path d="M1285,250 L1292,250 L1299,257.75 L1292,265.5 L1285,265.5 Z" fill="#1d2d5a"/>
 <g fill="none" stroke="#f6d89b" stroke-width="1.2">
  <polyline points="1059,251 1063,257.75 1059,264.5"/>
  <polyline points="1085,251 1089,257.75 1085,264.5"/>
  <polyline points="1113,251 1117,257.75 1113,264.5"/>
  <polyline points="1140,251 1144,257.75 1140,264.5"/>
  <polyline points="1166,251 1170,257.75 1166,264.5"/>
  <polyline points="1190,251 1194,257.75 1190,264.5"/>
  <polyline points="1217,251 1221,257.75 1217,264.5"/>
  <polyline points="1244,251 1248,257.75 1244,264.5"/>
  <polyline points="1272,251 1276,257.75 1272,264.5"/>
 </g>
 <polyline points="1297,250.5 1304,257.75 1297,265" fill="none" stroke="#e0b050" stroke-width="3"/>
 <polyline points="1306,250.5 1313,257.75 1306,265" fill="none" stroke="#1d2d5a" stroke-width="3.2"/>
 <g font-family="Liberation Sans, sans-serif" font-size="6.5" fill="#e8ecf6" font-weight="bold" text-anchor="middle">
  <text x="1045.0" y="260">Fea</text>  <text x="1075.0" y="260">Tue</text>  <text x="1102.0" y="260">Ifur</text>  <text x="1129.5" y="260">Wiy</text>  <text x="1156.0" y="260">aw</text>  <text x="1181.0" y="260">hiu</text>  <text x="1206.5" y="260">Caw</text>  <text x="1233.5" y="260">Ise</text>  <text x="1261.0" y="260">Tiw</text>  <text x="1284.0" y="260">Dat</text>
 </g>
 <line x1="1028" y1="274" x2="1028" y2="428" stroke="#1d2d5a" stroke-width="1.5"/>
 <path d="M1025,276 l3,-4 l3,4z" fill="#1d2d5a"/>
 <circle cx="1028" cy="316" r="2.5" fill="#1d2d5a"/>
 <line x1="1025" y1="428" x2="1031" y2="428" stroke="#1d2d5a" stroke-width="1.5"/>
 <line x1="1025" y1="293" x2="1031" y2="293" stroke="#1d2d5a" stroke-width="1.2"/>
 <line x1="1190" y1="272" x2="1190" y2="288" stroke="#1d2d5a" stroke-width="1.2"/><line x1="1187" y1="288" x2="1193" y2="288" stroke="#1d2d5a" stroke-width="1.2"/>
 <path d="M1303,306 v12 M1298,312 h10" stroke="#1d2d5a" stroke-width="2"/>
</svg>
<div class="sm" style="left:1040px;top:274px;font-size:10.5px;line-height:12.8px;color:#262b3e">Drwelene lumgrtlan<br>&#8226; Uniuu &amp; Re oeats by of' ioles<br>&#8226; Fhotober ri reasdirs  ea Cest care<br>&#8226; Fhrewelcd Crfniole.Tlent Ry dings<br>&#8226; Fary olnalucla s Tille</div>
<div class="sm" style="left:1204px;top:273px;font-size:9.5px;line-height:10.5px;color:#262b3e;transform:scaleX(0.86);transform-origin:0 0"><b>20%. 198</b> Per bleboenigs<br>unel Gtk eul gecksrl, enoiga</div>
<div class="t b" style="left:1039px;top:345px;font-size:25px;color:#18264f">188%</div>
<div class="t b" style="left:1040px;top:372px;font-size:10px;color:#18264f">Mecks blues</div>
<div class="sm" style="left:1040px;top:384px;font-size:9.5px;line-height:9.5px;color:#262b3e">The irtifk tw cdk<br>and  E kisd dag<br>Eooeivre trr ewl<br>Enr tooins<br>otteoudelre<br>Bdl  Gdsrs<br>Botfedl kshdes<br>Feedend</div>
<div class="panel" style="left:1121px;top:389px;width:110px;height:72px;border-radius:8px;background:#fff"></div>
<div class="t b" style="left:1143px;top:401px;font-size:26px;color:#1a3580">225%</div>
<div class="sm" style="left:1127px;top:431px;font-size:8.5px;line-height:9.3px;color:#262b3e;text-align:center;width:98px">Dervs fa leneer  ar Veur<br>Bardoc. Af tae Biau<br>Eeuslcs</div>
<div class="panel" style="left:1236px;top:333px;width:83px;height:128px;border-radius:8px;background:#fff"></div>
<div class="t b" style="left:1246px;top:339px;font-size:25px;color:#1a3580">561%</div>
<div class="sm" style="left:1247px;top:367px;font-size:8.5px;line-height:9.2px;color:#262b3e">Deri ditee tteants<br><b>Oerd bel Warsent</b><br>Ftst aesec Beidas<br>Baveoscmcds<br>ofordl bearre. stro<br>Gek enaee</div>
<div class="t" style="left:1266px;top:427px;font-size:8px;color:#262b3e">Bleuns</div>
<div class="t b" style="left:1246px;top:438px;font-size:17px;letter-spacing:-0.6px;color:#1a3580">12,775%</div>

<!-- national panel -->
<div class="t b" style="left:701px;top:497px;font-size:18px;letter-spacing:-0.6px;color:#fff">Nationa Influnzal</div>
<div class="panel" style="left:686px;top:523px;width:287px;height:236px;border-radius:9px;background:linear-gradient(90deg,#fbe2a4 0,#fbe2a4 166px,#f8bab4 166px)"></div>
<div class="t b" style="left:699px;top:533px;font-size:16px;letter-spacing:-0.9px;color:#1d2b5a">Confifferences</div>
<div class="t b" style="left:699px;top:553px;font-size:26px;letter-spacing:-0.9px;color:#1d2b5a">5.3,951,85%</div>
<div class="sm" style="left:700px;top:584px;font-size:10px;line-height:11px;color:#1d2b5a;transform:scaleX(0.92);transform-origin:0 0">Dereas s a eo lactione lof J Hekt<br>eia  noeore ao sahing<br>fonoea Eechetwe condHon</div>
<svg class="a" style="left:686px;top:523px" width="287" height="236" viewBox="686 523 287 236">
 <!-- pie 1 -->
 <g transform="translate(721.6,649)">
  <path d="M0,0 L0,-23.5 A23.5,23.5 0 0,1 22,-8 Z" fill="#2bb6d6"/>
  <path d="M0,0 L22,-8 A23.5,23.5 0 0,1 16,17 Z" fill="#f7b731"/>
  <path d="M0,0 L16,17 A23.5,23.5 0 0,1 -4,23 Z" fill="#e5284a"/>
  <path d="M0,0 L-4,23 A23.5,23.5 0 0,1 0,-23.5 Z" fill="#1d3580"/>
  <text x="-16" y="3" font-size="7" font-weight="bold" fill="#fff" font-family="Liberation Sans, sans-serif">T%</text>
 </g>
 <!-- pie 2 -->
 <g transform="translate(725,711.5)">
  <path d="M0,0 L0,-25 A25,25 0 0,1 22,12 Z" fill="#e0203f"/>
  <path d="M0,0 L22,12 A25,25 0 0,1 -6,24 Z" fill="#a03a9a"/>
  <path d="M0,0 L-6,24 A25,25 0 0,1 0,-25 Z" fill="#1d3580"/>
  <text x="-18" y="3" font-size="8" font-weight="bold" fill="#fff" font-family="Liberation Sans, sans-serif">EA</text>
  <text x="3" y="3" font-size="8" font-weight="bold" fill="#fff" font-family="Liberation Sans, sans-serif">3IA</text>
 </g>
 <!-- donut 1 -->
 <g transform="translate(914.5,567)">
  <circle r="26" fill="none" stroke="#a0187a" stroke-width="14"/>
  <path d="M0,-26 A26,26 0 0,0 -25,-7" fill="none" stroke="#8fa7d1" stroke-width="14"/>
  <path d="M-25,-7 A26,26 0 0,0 -21,15" fill="none" stroke="#e0203f" stroke-width="14"/>
  <path d="M-21,15 A26,26 0 0,0 -10,24" fill="none" stroke="#f26b2c" stroke-width="14"/>
  <text x="-10" y="3" font-size="7" font-weight="bold" fill="#fff" font-family="Liberation Sans, sans-serif">350%</text>
 </g>
 <!-- donut 2 -->
 <g transform="translate(914.5,714.4)">
  <circle r="26.5" fill="none" stroke="#8fa7d1" stroke-width="13"/>
  <path d="M0,26.5 A26.5,26.5 0 0,1 0,-26.5" fill="none" stroke="#1e3478" stroke-width="13"/>
  <path d="M0,-26.5 A26.5,26.5 0 0,1 26,5" fill="none" stroke="#e0203f" stroke-width="13"/>
  <text x="-9" y="3" font-size="7" font-weight="bold" fill="#fff" font-family="Liberation Sans, sans-serif">88%</text>
 </g>
</svg>
<div class="sm" style="left:754px;top:640px;font-size:8.5px;line-height:9.5px;color:#1d2b5a"><b>370%</b>  Confer ne as fory<br>Baeom  Antllwnt tbonns<br>Iedtlo givoeots</div>
<div class="t b" style="left:776px;top:697px;font-size:24px;color:#1d2b5a">22%</div>
<div class="sm" style="left:752px;top:724px;font-size:8.5px;line-height:9.5px;color:#1d2b5a">Bal  tal  Iwaeoal gtls<br>Thet nloner tebe harerg<br>E8 R  ord to beste</div>
<div class="t b" style="left:884px;top:612px;font-size:26px;color:#a3106a">80%</div>
<div class="sm" style="left:882px;top:641px;font-size:8.5px;line-height:10.3px;color:#1d2b5a;text-align:center;width:66px">Derl  As  Bnes oad<br>Ber Marhd taee<br>Baleec Betla</div>

<!-- white panel -->
<div class="t b" style="left:1026px;top:497px;font-size:18px;letter-spacing:-0.3px;color:#fff">Influlza of Diselutions</div>
<div class="panel" style="left:1008px;top:518px;width:323px;height:241px;border-radius:10px;background:#fdfdfe"></div>
<div class="t b" style="left:1026px;top:531px;font-size:26px;color:#c8174f">82%</div>
<div class="t b" style="left:1027px;top:556px;font-size:11px;color:#c8174f">Inr Fiuiea  80  B8</div>
<div class="sm" style="left:1027px;top:568px;font-size:9px;line-height:9.8px;color:#1d2b5a;transform:scaleX(0.95);transform-origin:0 0">Iandluif. aerbrdtsitw lte<br>Careoien anving itg enhre eel. tadd<br>Ceereariaol. rgrathiel or Beesoeocgne<br>Iinnea 8AI.</div>
<svg class="a" style="left:1008px;top:518px" width="323" height="241" viewBox="1008 518 323 241">
 <path d="M1198.4,594.0 A55,55 0 0,1 1253.4,539.0 L1253.4,569.0 A25,25 0 0,0 1228.4,594.0 Z" fill="#1d3a8a"/>
 <path d="M1253.4,539.0 A55,55 0 0,1 1285.7,549.5 L1268.1,573.8 A25,25 0 0,0 1253.4,569.0 Z" fill="#f6b93b"/>
 <path d="M1285.7,549.5 A55,55 0 0,1 1308.4,594.0 L1278.4,594.0 A25,25 0 0,0 1268.1,573.8 Z" fill="#e0284a"/>
 <path d="M1248,590 L1283,549" stroke="#222" stroke-width="2.2"/>
 <path d="M1242,584 L1247,592 L1255,587" stroke="#222" stroke-width="2.4" fill="none"/>
 <!-- mini bar chart -->
 <rect x="1132" y="646" width="5.5" height="11" fill="#2a6fc0"/>
 <rect x="1140.5" y="638" width="6" height="19" fill="#f39a32"/>
 <rect x="1148.5" y="632" width="6" height="25" fill="#efd9a0"/>
 <rect x="1156.5" y="618" width="6.5" height="39" fill="#2a6fc0"/>
 <rect x="1165" y="622" width="6.5" height="35" fill="#e0284a"/>
 <rect x="1174" y="645" width="6" height="12" fill="#f39a32"/>
 <line x1="1027" y1="681" x2="1318" y2="681" stroke="#dfe3ea" stroke-width="1"/>
 <line x1="1197" y1="686" x2="1197" y2="747" stroke="#dfe3ea" stroke-width="1"/>
 <!-- icon -->
 <path d="M1129.5,722 A29,29 0 0,1 1187.5,722 L1173,722 A14.5,14.5 0 0,0 1144,722 Z" fill="#134a96"/>
 <path d="M1133,722 A25.5,25.5 0 0,0 1184,722 L1173,722 A14.5,14.5 0 0,1 1144,722 Z" fill="#e3e4ee"/>
 <path d="M1158.5,713 L1163.5,719 L1159.5,727 L1157.5,727 L1153.5,719 Z" fill="#e0203a"/>
 <path d="M1153,731 L1164,731 L1158.5,747 Z" fill="#2a66a8"/>
</svg>
<div class="t" style="left:1240px;top:599px;font-size:8px;color:#1d2b5a">Pieuns</div>
<div class="t b" style="left:1026px;top:617px;font-size:25px;color:#1a3580">6.57%</div>
<div class="sm" style="left:1027px;top:641px;font-size:9px;line-height:9.5px;color:#1d2b5a;transform:scaleX(0.89);transform-origin:0 0">Adb8l  uoce d lkiatly<br>Bnstr Ol tooc hen wrtin<br>Ar el am toese Sartbe<br>yrer tond  bic</div>
<div class="sm" style="left:1124px;top:659px;font-size:7.5px;line-height:8.5px;color:#1d2b5a">Benqu aselo ed  uol<br>Bvfsclt uey ceenetes</div>
<div class="t b" style="left:1231px;top:618px;font-size:23px;color:#1a3580;transform:scaleX(1.18);transform-origin:0 0">45%</div>
<div class="t b" style="left:1228px;top:648px;font-size:9px;letter-spacing:-0.2px;color:#1d2b5a">Brieqein  Alde</div>
<div class="sm" style="left:1205px;top:660px;font-size:8.5px;line-height:9.5px;color:#1d2b5a;transform:scaleX(0.93);transform-origin:0 0">Itply ao lernao.noe.s ae oemee<br>Oacnype eoeraeesnere toeriees</div>
<div class="t b" style="left:1027px;top:691px;font-size:25px;letter-spacing:0.5px;color:#1a3580">80 %</div>
<div class="sm" style="left:1027px;top:719px;font-size:9px;line-height:9.3px;color:#1d2b5a;transform:scaleX(0.81);transform-origin:0 0">Cf  l.olfoece a le troret.<br>Cerebel  s ee te wae loast  Tbe<br>Ioaweans  Sllyy</div>
<div class="t b" style="left:1229px;top:691px;font-size:25px;letter-spacing:0.3px;color:#1a3580">201%</div>
<div class="sm" style="left:1217px;top:719px;font-size:9px;line-height:9.3px;color:#1d2b5a;text-align:center;width:90px;transform:scaleX(0.91);transform-origin:0 0">Uenvt crud  tre ocr clgel<br>enifee Thiaa.ue.,Ateine<br>oolerp ai oeeooe bubeeus</div>

<svg style="position:absolute;left:0;top:0" width="1344" height="768" viewBox="0 0 1344 768"><path d="M776.1,98.6 L762.7,66.5 L760.4,67.4 L771.8,100.3 Z" fill="#c86a6a"/>
<line x1="774.6" y1="99.2" x2="761.8" y2="66.8" stroke="#f4b0a0" stroke-width="1.1" opacity="0.7"/>
<path d="M762.7,66.5 Q759.6,57.4 764.4,52.2 L749.6,57.8 Q756.7,58.5 760.4,67.4 Z" fill="#f0c088" stroke="#b9532f" stroke-width="1.2"/>
<ellipse cx="757" cy="55" rx="7.9" ry="3.3" transform="rotate(-20.9 757 55)" fill="#f4d2a4" stroke="#b9532f" stroke-width="1"/>
<ellipse cx="757" cy="55" rx="5.7" ry="2.2" transform="rotate(-20.9 757 55)" fill="#c9473c" opacity="0.85"/>
<path d="M814,99.4 L823.6,66.7 L821,65.9 L809.2,97.8 Z" fill="#e0a090"/>
<line x1="812.3" y1="98.8" x2="822.5" y2="66.4" stroke="#f4b0a0" stroke-width="1.2" opacity="0.7"/>
<path d="M823.6,66.7 Q826.6,58.3 833,57.3 L819,52.7 Q823.5,57.3 821,65.9 Z" fill="#e8a070" stroke="#b9532f" stroke-width="1.2"/>
<ellipse cx="826" cy="55" rx="7.4" ry="3.1" transform="rotate(18.3 826 55)" fill="#f4d2a4" stroke="#b9532f" stroke-width="1"/>
<ellipse cx="826" cy="55" rx="5.3" ry="2.1" transform="rotate(18.3 826 55)" fill="#c9473c" opacity="0.85"/>
<path d="M819.4,101.8 L833.2,67.9 L830.5,66.7 L814.5,99.5 Z" fill="#c86a6a"/>
<line x1="817.7" y1="101" x2="832.1" y2="67.4" stroke="#f4b0a0" stroke-width="1.2" opacity="0.7"/>
<path d="M833.2,67.9 Q836.6,61.1 841.8,60.6 L830.2,55.4 Q833.3,59.6 830.5,66.7 Z" fill="#eea868" stroke="#b9532f" stroke-width="1.2"/>
<ellipse cx="836" cy="58" rx="6.3" ry="2.6" transform="rotate(24.1 836 58)" fill="#f4d2a4" stroke="#b9532f" stroke-width="1"/>
<ellipse cx="836" cy="58" rx="4.5" ry="1.8" transform="rotate(24.1 836 58)" fill="#c9473c" opacity="0.85"/>
<path d="M745.4,123.5 L714.3,109 L712.8,111.9 L742.6,128.9 Z" fill="#e0a090"/>
<line x1="744.4" y1="125.4" x2="713.7" y2="110.2" stroke="#f4b0a0" stroke-width="1.4" opacity="0.7"/>
<path d="M714.3,109 Q706.6,104.6 706.4,98.5 L699.6,111.5 Q704.7,108.1 712.8,111.9 Z" fill="#e8a070" stroke="#b9532f" stroke-width="1.2"/>
<ellipse cx="703" cy="105" rx="7.4" ry="3.1" transform="rotate(-62.7 703 105)" fill="#f4d2a4" stroke="#b9532f" stroke-width="1"/>
<ellipse cx="703" cy="105" rx="5.3" ry="2.1" transform="rotate(-62.7 703 105)" fill="#c9473c" opacity="0.85"/>
<path d="M740.8,133.5 L705.9,124.8 L705,127.9 L739.1,139.2 Z" fill="#c86a6a"/>
<line x1="740.2" y1="135.5" x2="705.5" y2="126" stroke="#f4b0a0" stroke-width="1.3" opacity="0.7"/>
<path d="M705.9,124.8 Q697.4,122 696,115.9 L692,130.1 Q696.3,125.7 705,127.9 Z" fill="#eea868" stroke="#b9532f" stroke-width="1.2"/>
<ellipse cx="694" cy="123" rx="7.4" ry="3.1" transform="rotate(-73.8 694 123)" fill="#f4d2a4" stroke="#b9532f" stroke-width="1"/>
<ellipse cx="694" cy="123" rx="5.3" ry="2.1" transform="rotate(-73.8 694 123)" fill="#c9473c" opacity="0.85"/>
<path d="M845.8,129.9 L883.6,110.5 L882.4,108 L843.6,125.4 Z" fill="#e0a090"/>
<line x1="845" y1="128.3" x2="883.1" y2="109.5" stroke="#f4b0a0" stroke-width="1.1" opacity="0.7"/>
<path d="M883.6,110.5 Q893.5,106 899.9,111 L892.1,95 Q892,103.1 882.4,108 Z" fill="#eea868" stroke="#b9532f" stroke-width="1.2"/>
<ellipse cx="896" cy="103" rx="8.9" ry="3.7" transform="rotate(64.3 896 103)" fill="#f4d2a4" stroke="#b9532f" stroke-width="1"/>
<ellipse cx="896" cy="103" rx="6.4" ry="2.5" transform="rotate(64.3 896 103)" fill="#c9473c" opacity="0.85"/>
<path d="M849.2,141.2 L889.9,130.3 L889.3,127.7 L848.1,136.5 Z" fill="#e0a090"/>
<line x1="848.9" y1="139.5" x2="889.7" y2="129.2" stroke="#f4b0a0" stroke-width="1.1" opacity="0.7"/>
<path d="M889.9,130.3 Q899.3,128.3 903.8,133.7 L900.2,118.3 Q898.5,125.2 889.3,127.7 Z" fill="#f4c898" stroke="#b9532f" stroke-width="1.2"/>
<ellipse cx="902" cy="126" rx="7.9" ry="3.3" transform="rotate(76.5 902 126)" fill="#f4d2a4" stroke="#b9532f" stroke-width="1"/>
<ellipse cx="902" cy="126" rx="5.7" ry="2.2" transform="rotate(76.5 902 126)" fill="#c9473c" opacity="0.85"/>
<path d="M737.8,155.3 L698.4,160.4 L698.7,162.9 L738.3,160 Z" fill="#c05a5a"/>
<line x1="738" y1="156.9" x2="698.5" y2="161.4" stroke="#f4b0a0" stroke-width="1.1" opacity="0.7"/>
<path d="M698.4,160.4 Q688.2,161.1 684.2,154.6 L685.8,171.4 Q688.5,164.2 698.7,162.9 Z" fill="#e89858" stroke="#b9532f" stroke-width="1.2"/>
<ellipse cx="685" cy="163" rx="8.4" ry="3.5" transform="rotate(264.2 685 163)" fill="#f4d2a4" stroke="#b9532f" stroke-width="1"/>
<ellipse cx="685" cy="163" rx="6" ry="2.4" transform="rotate(264.2 685 163)" fill="#c9473c" opacity="0.85"/>
<path d="M745.3,180.3 L714.3,202.5 L716.2,205.4 L748.8,185.6 Z" fill="#c05a5a"/>
<line x1="746.5" y1="182.2" x2="715" y2="203.6" stroke="#f4b0a0" stroke-width="1.5" opacity="0.7"/>
<path d="M714.3,202.5 Q707.2,206.7 702.2,204.3 L709.8,215.7 Q709.5,210.2 716.2,205.4 Z" fill="#eea868" stroke="#b9532f" stroke-width="1.2"/>
<ellipse cx="706" cy="210" rx="6.8" ry="2.9" transform="rotate(236.6 706 210)" fill="#f4d2a4" stroke="#b9532f" stroke-width="1"/>
<ellipse cx="706" cy="210" rx="4.9" ry="1.9" transform="rotate(236.6 706 210)" fill="#c9473c" opacity="0.85"/>
<path d="M776.3,205.5 L768.3,238.8 L771.2,239.6 L781.5,206.9 Z" fill="#c05a5a"/>
<line x1="778.1" y1="206" x2="769.5" y2="239.1" stroke="#f4b0a0" stroke-width="1.2" opacity="0.7"/>
<path d="M768.3,238.8 Q766,246.1 760.9,247.3 L773.1,250.7 Q769.4,247 771.2,239.6 Z" fill="#f4c898" stroke="#b9532f" stroke-width="1.2"/>
<ellipse cx="767" cy="249" rx="6.3" ry="2.6" transform="rotate(195.6 767 249)" fill="#f4d2a4" stroke="#b9532f" stroke-width="1"/>
<ellipse cx="767" cy="249" rx="4.5" ry="1.8" transform="rotate(195.6 767 249)" fill="#c9473c" opacity="0.85"/>
<path d="M811.9,205.4 L826.3,238.5 L829.1,237.4 L817.1,203.4 Z" fill="#c05a5a"/>
<line x1="813.7" y1="204.7" x2="827.4" y2="238" stroke="#f4b0a0" stroke-width="1.3" opacity="0.7"/>
<path d="M826.3,238.5 Q829.2,246.9 825.2,251.7 L838.8,246.3 Q832.6,245.6 829.1,237.4 Z" fill="#f0c088" stroke="#b9532f" stroke-width="1.2"/>
<ellipse cx="832" cy="249" rx="7.4" ry="3.1" transform="rotate(158.6 832 249)" fill="#f4d2a4" stroke="#b9532f" stroke-width="1"/>
<ellipse cx="832" cy="249" rx="5.3" ry="2.1" transform="rotate(158.6 832 249)" fill="#c9473c" opacity="0.85"/>
<path d="M839.1,185.7 L869.5,204.3 L871.3,201.6 L842.5,180.7 Z" fill="#c05a5a"/>
<line x1="840.3" y1="184" x2="870.2" y2="203.2" stroke="#f4b0a0" stroke-width="1.4" opacity="0.7"/>
<path d="M869.5,204.3 Q877.3,209.9 876.6,216.6 L885.4,203.4 Q879.4,206.6 871.3,201.6 Z" fill="#eea868" stroke="#b9532f" stroke-width="1.2"/>
<ellipse cx="881" cy="210" rx="7.9" ry="3.3" transform="rotate(123.7 881 210)" fill="#f4d2a4" stroke="#b9532f" stroke-width="1"/>
<ellipse cx="881" cy="210" rx="5.7" ry="2.2" transform="rotate(123.7 881 210)" fill="#c9473c" opacity="0.85"/>
<circle cx="794" cy="152" r="75" fill="url(#gBlueLight)"/>
<ellipse cx="736.6" cy="155.5" rx="8.3" ry="5.6" transform="rotate(124 736.6 155.5)" fill="#174f9e" opacity="0.45"/>
<ellipse cx="790.6" cy="130.7" rx="9" ry="5.9" transform="rotate(6 790.6 130.7)" fill="#174f9e" opacity="0.45"/>
<ellipse cx="796.9" cy="122.8" rx="10.7" ry="4" transform="rotate(2 796.9 122.8)" fill="#174f9e" opacity="0.45"/>
<ellipse cx="778.3" cy="143" rx="7.5" ry="6" transform="rotate(33 778.3 143)" fill="#174f9e" opacity="0.45"/>
<ellipse cx="807.6" cy="136.6" rx="5.1" ry="4.8" transform="rotate(52 807.6 136.6)" fill="#174f9e" opacity="0.45"/>
<ellipse cx="842.7" cy="135" rx="10" ry="5.1" transform="rotate(141 842.7 135)" fill="#174f9e" opacity="0.45"/>
<ellipse cx="780.7" cy="115.1" rx="7.9" ry="5.6" transform="rotate(102 780.7 115.1)" fill="#174f9e" opacity="0.45"/>
<ellipse cx="803.4" cy="178" rx="8.5" ry="3.9" transform="rotate(119 803.4 178)" fill="#174f9e" opacity="0.45"/>
<ellipse cx="771.1" cy="176" rx="7.9" ry="4" transform="rotate(49 771.1 176)" fill="#174f9e" opacity="0.45"/>
<ellipse cx="773.3" cy="99.5" rx="8.3" ry="3.5" transform="rotate(171 773.3 99.5)" fill="#174f9e" opacity="0.45"/>
<path d="M771.8,163.3 q1.3,-5.4 -3.5,-4.9" stroke="#6cc8f5" stroke-width="1.3" fill="none" opacity="0.75" stroke-linecap="round"/>
<path d="M770.1,215.9 q-0.2,-6.7 -6.3,-7.4" stroke="#6cc8f5" stroke-width="1.9" fill="none" opacity="0.75" stroke-linecap="round"/>
<path d="M858.4,165.5 q-0.1,0.9 -6.3,7.7" stroke="#6cc8f5" stroke-width="1.7" fill="none" opacity="0.75" stroke-linecap="round"/>
<path d="M779.9,106.4 q5.1,-5.5 4.3,-5" stroke="#2a78c8" stroke-width="1.5" fill="none" opacity="0.75" stroke-linecap="round"/>
<path d="M801.2,183.4 q-0.9,-3.1 -7.7,-0.1" stroke="#6cc8f5" stroke-width="1.2" fill="none" opacity="0.75" stroke-linecap="round"/>
<path d="M827,145.5 q2.8,3.1 -0.5,12.2" stroke="#2a78c8" stroke-width="1.6" fill="none" opacity="0.75" stroke-linecap="round"/>
<path d="M762.2,103 q4.9,-6.7 3.8,-7.4" stroke="#1d5fb0" stroke-width="1.4" fill="none" opacity="0.75" stroke-linecap="round"/>
<path d="M843.8,153.7 q3.3,-0.6 0.5,4.8" stroke="#6cc8f5" stroke-width="1.4" fill="none" opacity="0.75" stroke-linecap="round"/>
<path d="M733.3,118.9 q6,-5.8 6.1,-5.5" stroke="#1d5fb0" stroke-width="1.3" fill="none" opacity="0.75" stroke-linecap="round"/>
<path d="M775.7,131.8 q8.3,-4.8 10.7,-3.5" stroke="#5ab8f0" stroke-width="1.7" fill="none" opacity="0.75" stroke-linecap="round"/>
<path d="M772.1,174.4 q1.8,-7.5 -2.5,-9" stroke="#5ab8f0" stroke-width="1.6" fill="none" opacity="0.75" stroke-linecap="round"/>
<path d="M789.7,222 q-2.7,-2.6 -11.4,0.7" stroke="#1d5fb0" stroke-width="1.7" fill="none" opacity="0.75" stroke-linecap="round"/>
<path d="M765.2,170.1 q-1.5,-6.8 -9,-7.6" stroke="#5ab8f0" stroke-width="1.3" fill="none" opacity="0.75" stroke-linecap="round"/>
<path d="M737.5,187.2 q-1.6,-7.2 -9.2,-8.4" stroke="#8fe0ff" stroke-width="2" fill="none" opacity="0.75" stroke-linecap="round"/>
<path d="M794.2,170 q-0.7,-5.5 -7.4,-4.9" stroke="#1d5fb0" stroke-width="2" fill="none" opacity="0.75" stroke-linecap="round"/>
<path d="M806.1,113.7 q9.3,-3.1 12.6,-0.3" stroke="#2a78c8" stroke-width="1.7" fill="none" opacity="0.75" stroke-linecap="round"/>
<path d="M774,152.8 q1.6,-7.2 -2.7,-8.3" stroke="#2a78c8" stroke-width="1.8" fill="none" opacity="0.75" stroke-linecap="round"/>
<path d="M792.2,148.2 q9.3,-4.7 12.6,-3.4" stroke="#1d5fb0" stroke-width="1.3" fill="none" opacity="0.75" stroke-linecap="round"/>
<path d="M807.7,135.2 q4.9,-1.2 3.8,3.7" stroke="#6cc8f5" stroke-width="1.8" fill="none" opacity="0.75" stroke-linecap="round"/>
<path d="M800.3,183.9 q0.4,-3.7 -5.1,-1.3" stroke="#2a78c8" stroke-width="1.1" fill="none" opacity="0.75" stroke-linecap="round"/>
<path d="M735.1,170.7 q3.3,-7.1 0.6,-8.2" stroke="#5ab8f0" stroke-width="2" fill="none" opacity="0.75" stroke-linecap="round"/>
<path d="M723.7,144.7 q2.2,-6.7 -1.6,-7.3" stroke="#6cc8f5" stroke-width="2" fill="none" opacity="0.75" stroke-linecap="round"/>
<path d="M825.7,189 q-1.7,-1.7 -9.4,2.5" stroke="#1d5fb0" stroke-width="1.2" fill="none" opacity="0.75" stroke-linecap="round"/>
<path d="M800,196.2 q-0.5,-4.6 -7,-3.1" stroke="#2a78c8" stroke-width="2" fill="none" opacity="0.75" stroke-linecap="round"/>
<path d="M740,113.9 q5.9,-8.1 5.8,-10.2" stroke="#8fe0ff" stroke-width="1.3" fill="none" opacity="0.75" stroke-linecap="round"/>
<path d="M791.9,186.3 q-2.9,-1 -11.7,4.1" stroke="#8fe0ff" stroke-width="1.9" fill="none" opacity="0.75" stroke-linecap="round"/>
<path d="M773.4,117.4 q5.7,-6.4 5.3,-6.7" stroke="#b5ecff" stroke-width="1.2" fill="none" opacity="0.75" stroke-linecap="round"/>
<path d="M731.5,135.1 q3.4,-7.4 0.8,-8.8" stroke="#5ab8f0" stroke-width="1.6" fill="none" opacity="0.75" stroke-linecap="round"/>
<path d="M793,180.5 q-0.4,-4.7 -6.7,-3.3" stroke="#6cc8f5" stroke-width="1.7" fill="none" opacity="0.75" stroke-linecap="round"/>
<path d="M840.3,195.6 q-1.2,0.4 -8.3,6.8" stroke="#5ab8f0" stroke-width="2.1" fill="none" opacity="0.75" stroke-linecap="round"/>
<path d="M749,122.6 q4.6,-8.4 3.3,-10.8" stroke="#b5ecff" stroke-width="1.4" fill="none" opacity="0.75" stroke-linecap="round"/>
<path d="M751.9,168.2 q2.1,-6.6 -1.8,-7.3" stroke="#5ab8f0" stroke-width="1.4" fill="none" opacity="0.75" stroke-linecap="round"/>
<path d="M779,139.1 q5.9,-3.9 5.8,-1.8" stroke="#2a78c8" stroke-width="2.2" fill="none" opacity="0.75" stroke-linecap="round"/>
<path d="M782,91.8 q8.3,-4.6 10.6,-3.1" stroke="#1d5fb0" stroke-width="1.3" fill="none" opacity="0.75" stroke-linecap="round"/>
<path d="M772.6,104.8 q7.8,-3.3 9.7,-0.6" stroke="#2a78c8" stroke-width="2.1" fill="none" opacity="0.75" stroke-linecap="round"/>
<path d="M760.2,208.3 q-0.3,-6 -6.7,-6" stroke="#1d5fb0" stroke-width="1.9" fill="none" opacity="0.75" stroke-linecap="round"/>
<path d="M776.1,199 q-0.2,-2.6 -6.5,0.8" stroke="#2a78c8" stroke-width="1.8" fill="none" opacity="0.75" stroke-linecap="round"/>
<path d="M820.6,118.8 q8.6,-2.1 11.3,1.8" stroke="#5ab8f0" stroke-width="1.8" fill="none" opacity="0.75" stroke-linecap="round"/>
<path d="M853.9,177.9 q3.3,-0.5 0.6,4.9" stroke="#6cc8f5" stroke-width="1.7" fill="none" opacity="0.75" stroke-linecap="round"/>
<path d="M769.8,177.6 q0,-5.9 -5.9,-5.8" stroke="#6cc8f5" stroke-width="1.5" fill="none" opacity="0.75" stroke-linecap="round"/>
<path d="M812.6,164.9 q1.9,-0.1 -2.2,5.8" stroke="#5ab8f0" stroke-width="1.1" fill="none" opacity="0.75" stroke-linecap="round"/>
<path d="M806.2,167.5 q-3.3,-1.5 -12.6,3" stroke="#5ab8f0" stroke-width="1.9" fill="none" opacity="0.75" stroke-linecap="round"/>
<path d="M794.7,175 q-2.2,-6 -10.3,-6" stroke="#2a78c8" stroke-width="2.1" fill="none" opacity="0.75" stroke-linecap="round"/>
<path d="M757,174.5 q2.5,-8.4 -0.9,-10.8" stroke="#1d5fb0" stroke-width="2.2" fill="none" opacity="0.75" stroke-linecap="round"/>
<path d="M752.7,107.1 q4.6,-6 3.2,-6" stroke="#8fe0ff" stroke-width="1.2" fill="none" opacity="0.75" stroke-linecap="round"/>
<path d="M758.6,103.4 q5.8,-3.4 5.6,-0.7" stroke="#5ab8f0" stroke-width="1.3" fill="none" opacity="0.75" stroke-linecap="round"/>
<path d="M760.9,161.3 q2.9,-6.6 -0.2,-7.2" stroke="#1d5fb0" stroke-width="1.4" fill="none" opacity="0.75" stroke-linecap="round"/>
<path d="M835.6,140.5 q2.3,0.5 -1.4,6.9" stroke="#6cc8f5" stroke-width="1.9" fill="none" opacity="0.75" stroke-linecap="round"/>
<path d="M753.5,170 q3.8,-7.7 1.5,-9.4" stroke="#8fe0ff" stroke-width="1.1" fill="none" opacity="0.75" stroke-linecap="round"/>
<path d="M742.1,142.1 q5.7,-7.1 5.4,-8.2" stroke="#2a78c8" stroke-width="1.1" fill="none" opacity="0.75" stroke-linecap="round"/>
<path d="M746.5,122.9 q7.1,-6.3 8.1,-6.7" stroke="#2a78c8" stroke-width="1.6" fill="none" opacity="0.75" stroke-linecap="round"/>
<path d="M744.5,134.9 q3.8,-5.3 1.6,-4.5" stroke="#8fe0ff" stroke-width="2.2" fill="none" opacity="0.75" stroke-linecap="round"/>
<path d="M780.1,220.9 q-3.5,-2.6 -12.9,0.8" stroke="#2a78c8" stroke-width="1.3" fill="none" opacity="0.75" stroke-linecap="round"/>
<path d="M795.7,200.2 q-0.2,-2.9 -6.4,0.3" stroke="#1d5fb0" stroke-width="1.2" fill="none" opacity="0.75" stroke-linecap="round"/>
<path d="M746.9,117 q3.3,-6.5 0.6,-7.1" stroke="#6cc8f5" stroke-width="1.9" fill="none" opacity="0.75" stroke-linecap="round"/>
<path d="M839.8,186.3 q-0.1,2.4 -6.2,10.7" stroke="#2a78c8" stroke-width="1.8" fill="none" opacity="0.75" stroke-linecap="round"/>
<path d="M810.6,166.8 q-0.5,-0.2 -7.1,5.7" stroke="#2a78c8" stroke-width="2" fill="none" opacity="0.75" stroke-linecap="round"/>
<path d="M827.5,213.3 q-0.8,-3.2 -7.6,-0.3" stroke="#b5ecff" stroke-width="1.4" fill="none" opacity="0.75" stroke-linecap="round"/>
<path d="M820.4,178.9 q0.7,-1.1 -4.7,3.9" stroke="#8fe0ff" stroke-width="1.8" fill="none" opacity="0.75" stroke-linecap="round"/>
<path d="M777.1,199.5 q-1.2,-3.2 -8.5,-0.4" stroke="#5ab8f0" stroke-width="1.1" fill="none" opacity="0.75" stroke-linecap="round"/>
<path d="M740,144.1 q1.9,-5.4 -2.1,-4.8" stroke="#1d5fb0" stroke-width="1.2" fill="none" opacity="0.75" stroke-linecap="round"/>
<path d="M770.9,143.1 q2.6,-5.7 -0.8,-5.5" stroke="#1d5fb0" stroke-width="1.4" fill="none" opacity="0.75" stroke-linecap="round"/>
<path d="M857.7,146.8 q1.9,0.6 -2.3,7.2" stroke="#6cc8f5" stroke-width="2" fill="none" opacity="0.75" stroke-linecap="round"/>
<path d="M862.8,173.9 q2.3,0 -1.4,6" stroke="#b5ecff" stroke-width="2.2" fill="none" opacity="0.75" stroke-linecap="round"/>
<path d="M764.7,110.3 q8.6,-3.8 11.3,-1.6" stroke="#b5ecff" stroke-width="1.7" fill="none" opacity="0.75" stroke-linecap="round"/>
<path d="M820.3,91.8 q6.7,0.8 7.4,7.7" stroke="#b5ecff" stroke-width="1.7" fill="none" opacity="0.75" stroke-linecap="round"/>
<path d="M828.1,197.8 q0.9,0.8 -4.2,7.5" stroke="#b5ecff" stroke-width="1.8" fill="none" opacity="0.75" stroke-linecap="round"/>
<path d="M769.4,89 q6.9,-4.1 7.8,-2.2" stroke="#8fe0ff" stroke-width="1.9" fill="none" opacity="0.75" stroke-linecap="round"/>
<path d="M744.6,143 q3.9,-6.5 1.7,-7" stroke="#2a78c8" stroke-width="1.7" fill="none" opacity="0.75" stroke-linecap="round"/>
<path d="M773.1,143.6 q2.3,-6 -1.3,-5.9" stroke="#1d5fb0" stroke-width="2" fill="none" opacity="0.75" stroke-linecap="round"/>
<path d="M757.9,152.3 q1,-8.2 -4,-10.3" stroke="#6cc8f5" stroke-width="2.1" fill="none" opacity="0.75" stroke-linecap="round"/>
<path d="M775.5,89.9 q6.8,-2.6 7.6,0.7" stroke="#6cc8f5" stroke-width="1.8" fill="none" opacity="0.75" stroke-linecap="round"/>
<path d="M783.1,196.3 q-2.3,-5.9 -10.6,-5.7" stroke="#1d5fb0" stroke-width="2.1" fill="none" opacity="0.75" stroke-linecap="round"/>
<path d="M783.4,121.7 q8.1,-4.3 10.2,-2.6" stroke="#5ab8f0" stroke-width="1.8" fill="none" opacity="0.75" stroke-linecap="round"/>
<path d="M843.5,132.2 q3.3,2.2 0.5,10.3" stroke="#1d5fb0" stroke-width="1.7" fill="none" opacity="0.75" stroke-linecap="round"/>
<path d="M834,105.6 q5.3,-1.8 4.6,2.3" stroke="#6cc8f5" stroke-width="1.9" fill="none" opacity="0.75" stroke-linecap="round"/>
<path d="M751.3,122.5 q4.4,-6.1 2.9,-6.3" stroke="#b5ecff" stroke-width="1.6" fill="none" opacity="0.75" stroke-linecap="round"/>
<path d="M755.6,111.9 q7.5,-6.7 9,-7.4" stroke="#1d5fb0" stroke-width="2.2" fill="none" opacity="0.75" stroke-linecap="round"/>
<path d="M765.5,215.5 q-0.8,-5.6 -7.6,-5.2" stroke="#6cc8f5" stroke-width="1.5" fill="none" opacity="0.75" stroke-linecap="round"/>
<path d="M781.6,82.6 q7,-2.7 8.1,0.5" stroke="#8fe0ff" stroke-width="2.2" fill="none" opacity="0.75" stroke-linecap="round"/>
<path d="M793,96.2 q6.3,-3.4 6.6,-0.7" stroke="#2a78c8" stroke-width="1.6" fill="none" opacity="0.75" stroke-linecap="round"/>
<path d="M790.6,111.1 q6.1,-2.9 6.3,0.3" stroke="#5ab8f0" stroke-width="1.1" fill="none" opacity="0.75" stroke-linecap="round"/>
<path d="M839.4,117.7 q5.7,0 5.3,6" stroke="#b5ecff" stroke-width="2.2" fill="none" opacity="0.75" stroke-linecap="round"/>
<path d="M785.8,201.7 q0.7,-5.1 -4.6,-4.2" stroke="#b5ecff" stroke-width="1.8" fill="none" opacity="0.75" stroke-linecap="round"/>
<path d="M764.1,188.7 q-2.2,-3.8 -10.4,-1.6" stroke="#6cc8f5" stroke-width="1.4" fill="none" opacity="0.75" stroke-linecap="round"/>
<path d="M825.1,155.2 q3.6,2.8 1.2,11.6" stroke="#5ab8f0" stroke-width="1.2" fill="none" opacity="0.75" stroke-linecap="round"/>
<path d="M754.4,137.5 q2.6,-8.9 -0.8,-11.9" stroke="#b5ecff" stroke-width="1.5" fill="none" opacity="0.75" stroke-linecap="round"/>
<path d="M786.9,183.4 q0.7,-3.9 -4.6,-1.9" stroke="#5ab8f0" stroke-width="2.1" fill="none" opacity="0.75" stroke-linecap="round"/>
<path d="M769.1,136 q5.6,-4.6 5.3,-3.2" stroke="#b5ecff" stroke-width="1.7" fill="none" opacity="0.75" stroke-linecap="round"/>
<path d="M746,117.2 q3.4,-6.2 0.8,-6.5" stroke="#8fe0ff" stroke-width="1.9" fill="none" opacity="0.75" stroke-linecap="round"/>
<path d="M838.3,125.3 q3.8,0.1 1.6,6.1" stroke="#b5ecff" stroke-width="1.5" fill="none" opacity="0.75" stroke-linecap="round"/>
<path d="M762.6,214.5 q-1.5,-6.7 -9.1,-7.3" stroke="#2a78c8" stroke-width="1.1" fill="none" opacity="0.75" stroke-linecap="round"/>
<path d="M837.4,160.6 q0.4,2.7 -5.3,11.3" stroke="#6cc8f5" stroke-width="1.6" fill="none" opacity="0.75" stroke-linecap="round"/>
<path d="M799.2,195.5 q-1,0.3 -8,6.6" stroke="#2a78c8" stroke-width="2" fill="none" opacity="0.75" stroke-linecap="round"/>
<path d="M796.8,215.1 q-0.4,-3.8 -6.9,-1.5" stroke="#6cc8f5" stroke-width="1.4" fill="none" opacity="0.75" stroke-linecap="round"/>
<path d="M849.2,108.4 q7,-1 8,4" stroke="#b5ecff" stroke-width="2" fill="none" opacity="0.75" stroke-linecap="round"/>
<path d="M816.5,215 q-0.2,-0.8 -6.4,4.3" stroke="#b5ecff" stroke-width="1.7" fill="none" opacity="0.75" stroke-linecap="round"/>
<path d="M778.6,89.4 q7.5,-3.3 9,-0.5" stroke="#6cc8f5" stroke-width="1.7" fill="none" opacity="0.75" stroke-linecap="round"/>
<path d="M791.7,168.3 q0.4,-2.4 -5.2,1.3" stroke="#6cc8f5" stroke-width="2" fill="none" opacity="0.75" stroke-linecap="round"/>
<path d="M843,139.1 q6,0 6.1,6" stroke="#5ab8f0" stroke-width="1.3" fill="none" opacity="0.75" stroke-linecap="round"/>
<path d="M865.4,143.5 q1.5,0.9 -3.1,7.9" stroke="#5ab8f0" stroke-width="1.5" fill="none" opacity="0.75" stroke-linecap="round"/>
<path d="M824.6,214 q-0.2,-0.1 -6.4,5.9" stroke="#6cc8f5" stroke-width="1.8" fill="none" opacity="0.75" stroke-linecap="round"/>
<path d="M800.5,109.2 q8.4,-0.8 10.9,4.4" stroke="#6cc8f5" stroke-width="1.8" fill="none" opacity="0.75" stroke-linecap="round"/>
<path d="M811.9,171.7 q-1.1,-0.2 -8.3,5.7" stroke="#8fe0ff" stroke-width="1.5" fill="none" opacity="0.75" stroke-linecap="round"/>
<path d="M831.9,113.8 q6,0.5 6,7" stroke="#8fe0ff" stroke-width="1.5" fill="none" opacity="0.75" stroke-linecap="round"/>
<path d="M843.3,167.6 q-0.1,0.1 -6.2,6.2" stroke="#6cc8f5" stroke-width="1.9" fill="none" opacity="0.75" stroke-linecap="round"/>
<path d="M744.5,103.3 q6.7,-7.1 7.3,-8.2" stroke="#1d5fb0" stroke-width="2.2" fill="none" opacity="0.75" stroke-linecap="round"/>
<path d="M861.5,139.5 q2.8,1.1 -0.3,8.2" stroke="#5ab8f0" stroke-width="1.8" fill="none" opacity="0.75" stroke-linecap="round"/>
<path d="M807.8,116 q9.2,-1.5 12.5,3" stroke="#8fe0ff" stroke-width="2.1" fill="none" opacity="0.75" stroke-linecap="round"/>
<path d="M748.9,97.2 q6,-5.5 6.1,-4.9" stroke="#1d5fb0" stroke-width="2.2" fill="none" opacity="0.75" stroke-linecap="round"/>
<path d="M812.7,195 q0.5,-0.7 -5,4.6" stroke="#1d5fb0" stroke-width="1.1" fill="none" opacity="0.75" stroke-linecap="round"/>
<path d="M748.5,142.7 q4.7,-5.9 3.4,-5.9" stroke="#b5ecff" stroke-width="1.5" fill="none" opacity="0.75" stroke-linecap="round"/>
<path d="M744.6,157.8 q2.9,-8.3 -0.2,-10.6" stroke="#5ab8f0" stroke-width="1.4" fill="none" opacity="0.75" stroke-linecap="round"/>
<path d="M764.5,194.7 q1.6,-5.2 -2.9,-4.5" stroke="#b5ecff" stroke-width="1.8" fill="none" opacity="0.75" stroke-linecap="round"/>
<path d="M782.2,155.9 q2.9,-8.4 -0.2,-10.8" stroke="#2a78c8" stroke-width="1.5" fill="none" opacity="0.75" stroke-linecap="round"/>
<path d="M733.2,114.3 q3.4,-9.4 0.9,-12.7" stroke="#b5ecff" stroke-width="1.2" fill="none" opacity="0.75" stroke-linecap="round"/>
<path d="M742.8,139.1 q2.1,-6 -1.8,-6" stroke="#2a78c8" stroke-width="1.1" fill="none" opacity="0.75" stroke-linecap="round"/>
<path d="M813.3,220.7 q-2.8,-2.1 -11.6,1.9" stroke="#5ab8f0" stroke-width="2.1" fill="none" opacity="0.75" stroke-linecap="round"/>
<path d="M816.6,205.2 q1.5,-0.6 -3.1,4.7" stroke="#6cc8f5" stroke-width="1.9" fill="none" opacity="0.75" stroke-linecap="round"/>
<path d="M724,135.1 q2.2,-6.8 -1.7,-7.6" stroke="#2a78c8" stroke-width="1.3" fill="none" opacity="0.75" stroke-linecap="round"/>
<path d="M837.2,124.6 q4.1,1.4 2.3,8.8" stroke="#2a78c8" stroke-width="2" fill="none" opacity="0.75" stroke-linecap="round"/>
<path d="M839.5,205.5 q-0.9,0.8 -7.9,7.6" stroke="#b5ecff" stroke-width="2.1" fill="none" opacity="0.75" stroke-linecap="round"/>
<path d="M786.7,116.4 q4.9,-4.7 3.7,-3.5" stroke="#2a78c8" stroke-width="1.7" fill="none" opacity="0.75" stroke-linecap="round"/>
<path d="M845.4,101.1 q4.5,0.1 3,6.2" stroke="#2a78c8" stroke-width="1.1" fill="none" opacity="0.75" stroke-linecap="round"/>
<path d="M859.7,148.7 q2.3,-0.7 -1.3,4.7" stroke="#b5ecff" stroke-width="2.2" fill="none" opacity="0.75" stroke-linecap="round"/>
<path d="M836.5,94.6 q4.7,0.9 3.3,7.8" stroke="#6cc8f5" stroke-width="1.6" fill="none" opacity="0.75" stroke-linecap="round"/>
<path d="M773,191 q-0.1,-5.1 -6.3,-4.1" stroke="#2a78c8" stroke-width="1.8" fill="none" opacity="0.75" stroke-linecap="round"/>
<path d="M821,99.5 q5.4,-0.2 4.7,5.6" stroke="#2a78c8" stroke-width="2.2" fill="none" opacity="0.75" stroke-linecap="round"/>
<path d="M786.1,91.4 q7,-2.6 7.9,0.9" stroke="#1d5fb0" stroke-width="1.8" fill="none" opacity="0.75" stroke-linecap="round"/>
<path d="M837.5,194.7 q-0.9,-0.3 -7.7,5.5" stroke="#6cc8f5" stroke-width="1.2" fill="none" opacity="0.75" stroke-linecap="round"/>
<circle cx="744" cy="165.4" r="2.8" fill="none" stroke="#7cc8f0" stroke-width="1.6" opacity="0.8"/>
<circle cx="745.8" cy="163.9" r="4.7" fill="none" stroke="#7cc8f0" stroke-width="1.6" opacity="0.8"/>
<circle cx="788" cy="202.1" r="3.3" fill="none" stroke="#7cc8f0" stroke-width="1.6" opacity="0.8"/>
<circle cx="810" cy="119.6" r="2.4" fill="none" stroke="#7cc8f0" stroke-width="1.6" opacity="0.8"/>
<circle cx="752.4" cy="168.5" r="2.4" fill="none" stroke="#7cc8f0" stroke-width="1.6" opacity="0.8"/>
<circle cx="838.7" cy="157.3" r="2.6" fill="none" stroke="#7cc8f0" stroke-width="1.6" opacity="0.8"/>
<circle cx="753" cy="167.1" r="2.7" fill="none" stroke="#7cc8f0" stroke-width="1.6" opacity="0.8"/>
<circle cx="762.7" cy="106.8" r="3" fill="none" stroke="#7cc8f0" stroke-width="1.6" opacity="0.8"/>
<circle cx="835.1" cy="116.7" r="2.6" fill="none" stroke="#7cc8f0" stroke-width="1.6" opacity="0.8"/>
<circle cx="794" cy="152" r="73" fill="none" stroke="#a8ecff" stroke-width="2.4" opacity="0.6"/>
<circle cx="778" cy="108" r="10.5" fill="#f0b878" stroke="#b9532f" stroke-width="1.4"/>
<circle cx="778" cy="108" r="8.2" fill="#ec9d62"/>
<path d="M778,108 Q781.9,109.6 785.8,108.8" stroke="#b8402c" stroke-width="1.6" fill="none"/>
<path d="M778,108 Q780.2,111.6 784,113.2" stroke="#b8402c" stroke-width="1.6" fill="none"/>
<path d="M778,108 Q778.5,112.2 781.1,115.2" stroke="#b8402c" stroke-width="1.6" fill="none"/>
<path d="M778,108 Q775.1,111.1 774.6,115.1" stroke="#b8402c" stroke-width="1.6" fill="none"/>
<path d="M778,108 Q773.8,107.6 770.3,109.6" stroke="#b8402c" stroke-width="1.6" fill="none"/>
<path d="M778,108 Q775,105.1 771,104.5" stroke="#b8402c" stroke-width="1.6" fill="none"/>
<path d="M778,108 Q776.5,104.1 773.1,101.9" stroke="#b8402c" stroke-width="1.6" fill="none"/>
<path d="M778,108 Q779.4,104 778.3,100.1" stroke="#b8402c" stroke-width="1.6" fill="none"/>
<path d="M778,108 Q781.8,106.3 783.9,102.8" stroke="#b8402c" stroke-width="1.6" fill="none"/>
<circle cx="778" cy="108" r="2.1" fill="#f6d0a0"/>
<circle cx="807" cy="138" r="11" fill="#f0b878" stroke="#b9532f" stroke-width="1.4"/>
<circle cx="807" cy="138" r="8.6" fill="#ec9d62"/>
<path d="M807,138 Q811.2,139.2 815.2,137.7" stroke="#b8402c" stroke-width="1.6" fill="none"/>
<path d="M807,138 Q809,141.9 812.7,143.9" stroke="#b8402c" stroke-width="1.6" fill="none"/>
<path d="M807,138 Q806.1,142.3 807.7,146.2" stroke="#b8402c" stroke-width="1.6" fill="none"/>
<path d="M807,138 Q803.6,140.8 802.4,144.8" stroke="#b8402c" stroke-width="1.6" fill="none"/>
<path d="M807,138 Q802.7,138.9 799.8,142" stroke="#b8402c" stroke-width="1.6" fill="none"/>
<path d="M807,138 Q804.3,134.6 800.2,133.4" stroke="#b8402c" stroke-width="1.6" fill="none"/>
<path d="M807,138 Q805,134.1 801.2,132.1" stroke="#b8402c" stroke-width="1.6" fill="none"/>
<path d="M807,138 Q808.3,133.8 807,129.8" stroke="#b8402c" stroke-width="1.6" fill="none"/>
<path d="M807,138 Q811.3,137 814.2,133.9" stroke="#b8402c" stroke-width="1.6" fill="none"/>
<circle cx="807" cy="138" r="2.2" fill="#f6d0a0"/>
<circle cx="756" cy="177" r="10.5" fill="#f0b878" stroke="#b9532f" stroke-width="1.4"/>
<circle cx="756" cy="177" r="8.2" fill="#ec9d62"/>
<path d="M756,177 Q759.9,178.6 763.8,177.6" stroke="#b8402c" stroke-width="1.6" fill="none"/>
<path d="M756,177 Q758.9,180.1 762.9,180.9" stroke="#b8402c" stroke-width="1.6" fill="none"/>
<path d="M756,177 Q755.7,181.2 757.9,184.6" stroke="#b8402c" stroke-width="1.6" fill="none"/>
<path d="M756,177 Q753.4,180.3 753.1,184.3" stroke="#b8402c" stroke-width="1.6" fill="none"/>
<path d="M756,177 Q751.8,177.3 748.7,179.9" stroke="#b8402c" stroke-width="1.6" fill="none"/>
<path d="M756,177 Q753,174 749,173.3" stroke="#b8402c" stroke-width="1.6" fill="none"/>
<path d="M756,177 Q754.9,173 751.7,170.4" stroke="#b8402c" stroke-width="1.6" fill="none"/>
<path d="M756,177 Q758.3,173.5 758.2,169.4" stroke="#b8402c" stroke-width="1.6" fill="none"/>
<path d="M756,177 Q759.6,174.8 761.2,171" stroke="#b8402c" stroke-width="1.6" fill="none"/>
<circle cx="756" cy="177" r="2.1" fill="#f6d0a0"/>
<circle cx="822" cy="190" r="10.5" fill="#f0b878" stroke="#b9532f" stroke-width="1.4"/>
<circle cx="822" cy="190" r="8.2" fill="#ec9d62"/>
<path d="M822,190 Q825.7,191.9 829.7,191.4" stroke="#b8402c" stroke-width="1.6" fill="none"/>
<path d="M822,190 Q823.8,193.8 827.3,195.8" stroke="#b8402c" stroke-width="1.6" fill="none"/>
<path d="M822,190 Q821.5,194.2 823.3,197.8" stroke="#b8402c" stroke-width="1.6" fill="none"/>
<path d="M822,190 Q819.6,193.4 819.6,197.5" stroke="#b8402c" stroke-width="1.6" fill="none"/>
<path d="M822,190 Q817.8,190.3 814.7,192.8" stroke="#b8402c" stroke-width="1.6" fill="none"/>
<path d="M822,190 Q818.5,187.6 814.5,187.7" stroke="#b8402c" stroke-width="1.6" fill="none"/>
<path d="M822,190 Q820.1,186.2 816.6,184.3" stroke="#b8402c" stroke-width="1.6" fill="none"/>
<path d="M822,190 Q823.4,186 822.2,182.1" stroke="#b8402c" stroke-width="1.6" fill="none"/>
<path d="M822,190 Q825.9,188.6 828.3,185.2" stroke="#b8402c" stroke-width="1.6" fill="none"/>
<circle cx="822" cy="190" r="2.1" fill="#f6d0a0"/>
<path d="M778.2,84 L774.2,73.5 L771.6,74.2 L773.5,85.3 Z" fill="#c86a6a"/>
<line x1="776.5" y1="84.5" x2="773.2" y2="73.8" stroke="#f4b0a0" stroke-width="1.1" opacity="0.7"/>
<path d="M774.2,73.5 Q772.3,65.3 777.1,61.1 L762.9,64.9 Q769.2,66.1 771.6,74.2 Z" fill="#f2b878" stroke="#b9532f" stroke-width="1.2"/>
<ellipse cx="770" cy="63" rx="7.4" ry="3.1" transform="rotate(-15.1 770 63)" fill="#f4d2a4" stroke="#b9532f" stroke-width="1"/>
<ellipse cx="770" cy="63" rx="5.3" ry="2.1" transform="rotate(-15.1 770 63)" fill="#c9473c" opacity="0.85"/>
<path d="M796.5,82.2 L794.9,69.3 L791.3,69.4 L790,82.3 Z" fill="#d88a80"/>
<line x1="794.2" y1="82.2" x2="793.5" y2="69.3" stroke="#f4b0a0" stroke-width="1.5" opacity="0.7"/>
<path d="M794.9,69.3 Q795.2,62.3 798.8,59.9 L787.2,60.1 Q790.9,62.4 791.3,69.4 Z" fill="#f4c898" stroke="#b9532f" stroke-width="1.2"/>
<ellipse cx="793" cy="60" rx="5.8" ry="2.4" transform="rotate(-0.6 793 60)" fill="#f4d2a4" stroke="#b9532f" stroke-width="1"/>
<ellipse cx="793" cy="60" rx="4.2" ry="1.6" transform="rotate(-0.6 793 60)" fill="#c9473c" opacity="0.85"/>
<path d="M803.8,82.9 L803.8,69.5 L800.4,69.1 L797.7,82.3 Z" fill="#d88a80"/>
<line x1="801.7" y1="82.7" x2="802.4" y2="69.3" stroke="#f4b0a0" stroke-width="1.4" opacity="0.7"/>
<path d="M803.8,69.5 Q804.8,62.5 808.7,60.6 L797.3,59.4 Q800.8,62.1 800.4,69.1 Z" fill="#f4c898" stroke="#b9532f" stroke-width="1.2"/>
<ellipse cx="803" cy="60" rx="5.8" ry="2.4" transform="rotate(5.6 803 60)" fill="#f4d2a4" stroke="#b9532f" stroke-width="1"/>
<ellipse cx="803" cy="60" rx="4.2" ry="1.6" transform="rotate(5.6 803 60)" fill="#c9473c" opacity="0.85"/>
<path d="M811.5,84.4 L812.4,75.7 L809.9,75.2 L806.9,83.4 Z" fill="#c86a6a"/>
<line x1="809.9" y1="84.1" x2="811.4" y2="75.5" stroke="#f4b0a0" stroke-width="1.1" opacity="0.7"/>
<path d="M812.4,75.7 Q814,69.5 819.1,68.4 L806.9,65.6 Q811,68.8 809.9,75.2 Z" fill="#f2b878" stroke="#b9532f" stroke-width="1.2"/>
<ellipse cx="813" cy="67" rx="6.3" ry="2.6" transform="rotate(12.6 813 67)" fill="#f4d2a4" stroke="#b9532f" stroke-width="1"/>
<ellipse cx="813" cy="67" rx="4.5" ry="1.8" transform="rotate(12.6 813 67)" fill="#c9473c" opacity="0.85"/>
<path d="M832.9,94 L842.2,77 L840.1,75.7 L828.9,91.6 Z" fill="#e0a090"/>
<line x1="831.5" y1="93.2" x2="841.4" y2="76.5" stroke="#f4b0a0" stroke-width="1.1" opacity="0.7"/>
<path d="M842.2,77 Q846.8,70.2 852.8,70.6 L841.2,63.4 Q844.2,68.5 840.1,75.7 Z" fill="#e89858" stroke="#b9532f" stroke-width="1.2"/>
<ellipse cx="847" cy="67" rx="6.8" ry="2.9" transform="rotate(31.9 847 67)" fill="#f4d2a4" stroke="#b9532f" stroke-width="1"/>
<ellipse cx="847" cy="67" rx="4.9" ry="1.9" transform="rotate(31.9 847 67)" fill="#c9473c" opacity="0.85"/>
<path d="M757.6,92.5 L746.7,78.2 L744.4,79.7 L753.4,95.2 Z" fill="#c05a5a"/>
<line x1="756.1" y1="93.4" x2="745.8" y2="78.8" stroke="#f4b0a0" stroke-width="1.1" opacity="0.7"/>
<path d="M746.7,78.2 Q742,70.6 745.1,64.9 L732.9,73.1 Q739.3,72.4 744.4,79.7 Z" fill="#f0c088" stroke="#b9532f" stroke-width="1.2"/>
<ellipse cx="739" cy="69" rx="7.4" ry="3.1" transform="rotate(-33.5 739 69)" fill="#f4d2a4" stroke="#b9532f" stroke-width="1"/>
<ellipse cx="739" cy="69" rx="5.3" ry="2.1" transform="rotate(-33.5 739 69)" fill="#c9473c" opacity="0.85"/>
<path d="M740.5,107.2 L729.8,100.5 L728,102.8 L737.2,111.4 Z" fill="#d88a80"/>
<line x1="739.3" y1="108.7" x2="729.1" y2="101.4" stroke="#f4b0a0" stroke-width="1.2" opacity="0.7"/>
<path d="M729.8,100.5 Q722.5,94.5 723.8,87.8 L714.2,100.2 Q720.4,97.3 728,102.8 Z" fill="#f2b878" stroke="#b9532f" stroke-width="1.2"/>
<ellipse cx="719" cy="94" rx="7.9" ry="3.3" transform="rotate(-52.3 719 94)" fill="#f4d2a4" stroke="#b9532f" stroke-width="1"/>
<ellipse cx="719" cy="94" rx="5.7" ry="2.2" transform="rotate(-52.3 719 94)" fill="#c9473c" opacity="0.85"/>
<path d="M849.6,109.8 L862.3,97.5 L860.1,94.8 L845.6,105 Z" fill="#c05a5a"/>
<line x1="848.2" y1="108.1" x2="861.4" y2="96.4" stroke="#f4b0a0" stroke-width="1.4" opacity="0.7"/>
<path d="M862.3,97.5 Q869.9,91.6 876,94.1 L866,81.9 Q867.2,88.5 860.1,94.8 Z" fill="#f2b878" stroke="#b9532f" stroke-width="1.2"/>
<ellipse cx="871" cy="88" rx="7.9" ry="3.3" transform="rotate(50.3 871 88)" fill="#f4d2a4" stroke="#b9532f" stroke-width="1"/>
<ellipse cx="871" cy="88" rx="5.7" ry="2.2" transform="rotate(50.3 871 88)" fill="#c9473c" opacity="0.85"/>
<path d="M863.8,153.7 L881.1,151.9 L881.1,148.5 L863.7,147.5 Z" fill="#d88a80"/>
<line x1="863.8" y1="151.5" x2="881.1" y2="150.6" stroke="#f4b0a0" stroke-width="1.4" opacity="0.7"/>
<path d="M881.1,151.9 Q890.1,152.1 893.1,157.3 L892.9,142.7 Q890,148 881.1,148.5 Z" fill="#f0c088" stroke="#b9532f" stroke-width="1.2"/>
<ellipse cx="893" cy="150" rx="7.4" ry="3.1" transform="rotate(88.8 893 150)" fill="#f4d2a4" stroke="#b9532f" stroke-width="1"/>
<ellipse cx="893" cy="150" rx="5.3" ry="2.1" transform="rotate(88.8 893 150)" fill="#c9473c" opacity="0.85"/>
<path d="M862.6,164.9 L880.8,166.1 L881.3,162.8 L863.5,158.9 Z" fill="#d88a80"/>
<line x1="862.9" y1="162.8" x2="881" y2="164.8" stroke="#f4b0a0" stroke-width="1.4" opacity="0.7"/>
<path d="M880.8,166.1 Q889,167.6 891,172.8 L893,159.2 Q889.5,163.6 881.3,162.8 Z" fill="#e89858" stroke="#b9532f" stroke-width="1.2"/>
<ellipse cx="892" cy="166" rx="6.8" ry="2.9" transform="rotate(98.1 892 166)" fill="#f4d2a4" stroke="#b9532f" stroke-width="1"/>
<ellipse cx="892" cy="166" rx="4.9" ry="1.9" transform="rotate(98.1 892 166)" fill="#c9473c" opacity="0.85"/>
<path d="M858,179.9 L865.9,181.6 L867.1,178.6 L860.1,174.5 Z" fill="#d88a80"/>
<line x1="858.7" y1="178" x2="866.4" y2="180.4" stroke="#f4b0a0" stroke-width="1.3" opacity="0.7"/>
<path d="M865.9,181.6 Q871.4,184.1 871.3,189.9 L876.7,176.1 Q872.8,180.5 867.1,178.6 Z" fill="#f0c088" stroke="#b9532f" stroke-width="1.2"/>
<ellipse cx="874" cy="183" rx="7.4" ry="3.1" transform="rotate(111.2 874 183)" fill="#f4d2a4" stroke="#b9532f" stroke-width="1"/>
<ellipse cx="874" cy="183" rx="5.3" ry="2.1" transform="rotate(111.2 874 183)" fill="#c9473c" opacity="0.85"/>
<path d="M724.5,145.4 L715.3,146.1 L715.1,149 L724.2,150.7 Z" fill="#e0a090"/>
<line x1="724.4" y1="147.3" x2="715.2" y2="147.2" stroke="#f4b0a0" stroke-width="1.2" opacity="0.7"/>
<path d="M715.3,146.1 Q708.4,145.4 706.4,139.7 L705.6,154.3 Q708.2,148.9 715.1,149 Z" fill="#f0c088" stroke="#b9532f" stroke-width="1.2"/>
<ellipse cx="706" cy="147" rx="7.4" ry="3.1" transform="rotate(-86.7 706 147)" fill="#f4d2a4" stroke="#b9532f" stroke-width="1"/>
<ellipse cx="706" cy="147" rx="5.3" ry="2.1" transform="rotate(-86.7 706 147)" fill="#c9473c" opacity="0.85"/>
<path d="M728.9,177.2 L716.5,184.1 L717.8,187.1 L731.3,182.6 Z" fill="#c05a5a"/>
<line x1="729.7" y1="179.1" x2="717" y2="185.3" stroke="#f4b0a0" stroke-width="1.3" opacity="0.7"/>
<path d="M716.5,184.1 Q708.8,187.1 704.3,183.7 L709.7,196.3 Q710.3,190.7 717.8,187.1 Z" fill="#f2b878" stroke="#b9532f" stroke-width="1.2"/>
<ellipse cx="707" cy="190" rx="6.8" ry="2.9" transform="rotate(246.4 707 190)" fill="#f4d2a4" stroke="#b9532f" stroke-width="1"/>
<ellipse cx="707" cy="190" rx="4.9" ry="1.9" transform="rotate(246.4 707 190)" fill="#c9473c" opacity="0.85"/>
<path d="M740.6,197 L732.7,206.4 L735.1,209 L745.1,201.8 Z" fill="#c86a6a"/>
<line x1="742.2" y1="198.7" x2="733.7" y2="207.5" stroke="#f4b0a0" stroke-width="1.5" opacity="0.7"/>
<path d="M732.7,206.4 Q725.8,212.4 719.6,210.2 L730.4,221.8 Q728.7,215.5 735.1,209 Z" fill="#e89858" stroke="#b9532f" stroke-width="1.2"/>
<ellipse cx="725" cy="216" rx="7.9" ry="3.3" transform="rotate(227.2 725 216)" fill="#f4d2a4" stroke="#b9532f" stroke-width="1"/>
<ellipse cx="725" cy="216" rx="5.7" ry="2.2" transform="rotate(227.2 725 216)" fill="#c9473c" opacity="0.85"/>
<path d="M748.5,204.9 L745.2,210.9 L747.3,212.6 L752.4,208 Z" fill="#c86a6a"/>
<line x1="749.8" y1="206" x2="746" y2="211.6" stroke="#f4b0a0" stroke-width="1.1" opacity="0.7"/>
<path d="M745.2,210.9 Q741.8,214.7 736.3,212.4 L747.7,221.6 Q744.3,216.7 747.3,212.6 Z" fill="#e8a070" stroke="#b9532f" stroke-width="1.2"/>
<ellipse cx="742" cy="217" rx="7.4" ry="3.1" transform="rotate(218.7 742 217)" fill="#f4d2a4" stroke="#b9532f" stroke-width="1"/>
<ellipse cx="742" cy="217" rx="5.3" ry="2.1" transform="rotate(218.7 742 217)" fill="#c9473c" opacity="0.85"/>
<path d="M774.7,219.1 L773.2,230 L776.1,230.7 L779.9,220.4 Z" fill="#c86a6a"/>
<line x1="776.5" y1="219.5" x2="774.3" y2="230.3" stroke="#f4b0a0" stroke-width="1.2" opacity="0.7"/>
<path d="M773.2,230 Q771,237.9 764.4,239.1 L779.6,242.9 Q774.4,238.8 776.1,230.7 Z" fill="#f4c898" stroke="#b9532f" stroke-width="1.2"/>
<ellipse cx="772" cy="241" rx="7.9" ry="3.3" transform="rotate(193.9 772 241)" fill="#f4d2a4" stroke="#b9532f" stroke-width="1"/>
<ellipse cx="772" cy="241" rx="5.7" ry="2.2" transform="rotate(193.9 772 241)" fill="#c9473c" opacity="0.85"/>
<path d="M801,221.5 L803.4,227.8 L806.7,227.3 L807.2,220.6 Z" fill="#d88a80"/>
<line x1="803.2" y1="221.2" x2="804.7" y2="227.6" stroke="#f4b0a0" stroke-width="1.4" opacity="0.7"/>
<path d="M803.4,227.8 Q803.7,232.7 799.8,234.9 L812.2,233.1 Q807.8,232.1 806.7,227.3 Z" fill="#eea868" stroke="#b9532f" stroke-width="1.2"/>
<ellipse cx="806" cy="234" rx="6.3" ry="2.6" transform="rotate(171.7 806 234)" fill="#f4d2a4" stroke="#b9532f" stroke-width="1"/>
<ellipse cx="806" cy="234" rx="4.5" ry="1.8" transform="rotate(171.7 806 234)" fill="#c9473c" opacity="0.85"/>
<path d="M830.1,211.7 L840.2,224.9 L842.7,223.2 L834.6,208.8 Z" fill="#c86a6a"/>
<line x1="831.7" y1="210.7" x2="841.2" y2="224.2" stroke="#f4b0a0" stroke-width="1.2" opacity="0.7"/>
<path d="M840.2,224.9 Q844.9,232.5 841.9,238 L854.1,230 Q847.8,230.5 842.7,223.2 Z" fill="#e8a070" stroke="#b9532f" stroke-width="1.2"/>
<ellipse cx="848" cy="234" rx="7.4" ry="3.1" transform="rotate(146.6 848 234)" fill="#f4d2a4" stroke="#b9532f" stroke-width="1"/>
<ellipse cx="848" cy="234" rx="5.3" ry="2.1" transform="rotate(146.6 848 234)" fill="#c9473c" opacity="0.85"/>
<path d="M854.6,186.7 L860.2,188 L861.8,184.9 L857.5,181.1 Z" fill="#c86a6a"/>
<line x1="855.6" y1="184.7" x2="860.9" y2="186.7" stroke="#f4b0a0" stroke-width="1.4" opacity="0.7"/>
<path d="M860.2,188 Q863.8,190.2 862.9,195.1 L869.1,182.9 Q865.7,186.5 861.8,184.9 Z" fill="#f2b878" stroke="#b9532f" stroke-width="1.2"/>
<ellipse cx="866" cy="189" rx="6.8" ry="2.9" transform="rotate(117.2 866 189)" fill="#f4d2a4" stroke="#b9532f" stroke-width="1"/>
<ellipse cx="866" cy="189" rx="4.9" ry="1.9" transform="rotate(117.2 866 189)" fill="#c9473c" opacity="0.85"/>
<path d="M766.8,87.7 L763.5,83.3 L761,84.5 L762.3,89.8 Z" fill="#d88a80"/>
<line x1="765.2" y1="88.5" x2="762.5" y2="83.8" stroke="#f4b0a0" stroke-width="1.1" opacity="0.7"/>
<path d="M763.5,83.3 Q762.1,79.5 765.7,76.3 L754.3,81.7 Q759.1,80.9 761,84.5 Z" fill="#f4c898" stroke="#b9532f" stroke-width="1.2"/>
<ellipse cx="760" cy="79" rx="6.3" ry="2.6" transform="rotate(-25 760 79)" fill="#f4d2a4" stroke="#b9532f" stroke-width="1"/>
<ellipse cx="760" cy="79" rx="4.5" ry="1.8" transform="rotate(-25 760 79)" fill="#c9473c" opacity="0.85"/>
<path d="M862.8,140 L861.9,138.6 L861.1,135.1 L861.3,133.6 Z" fill="#d88a80"/>
<line x1="862.3" y1="137.7" x2="861.6" y2="137.2" stroke="#f4b0a0" stroke-width="1.5" opacity="0.7"/>
<path d="M861.9,138.6 Q861.6,139.1 863.1,146.2 L858.9,127.8 Q860.7,134.9 861.1,135.1 Z" fill="#f0c088" stroke="#b9532f" stroke-width="1.2"/>
<ellipse cx="861" cy="137" rx="9.5" ry="4" transform="rotate(77.4 861 137)" fill="#f4d2a4" stroke="#b9532f" stroke-width="1"/>
<ellipse cx="861" cy="137" rx="6.8" ry="2.6" transform="rotate(77.4 861 137)" fill="#c9473c" opacity="0.85"/>
<path d="M735.9,113.3 L733.5,113 L732.2,115.2 L733.4,117.3 Z" fill="#c05a5a"/>
<line x1="735.1" y1="114.7" x2="733" y2="113.9" stroke="#f4b0a0" stroke-width="1.1" opacity="0.7"/>
<path d="M733.5,113 Q732.3,112 734.6,107.2 L727.4,118.8 Q730.6,114.6 732.2,115.2 Z" fill="#e89858" stroke="#b9532f" stroke-width="1.2"/>
<ellipse cx="731" cy="113" rx="6.8" ry="2.9" transform="rotate(-58.2 731 113)" fill="#f4d2a4" stroke="#b9532f" stroke-width="1"/>
<ellipse cx="731" cy="113" rx="4.9" ry="1.9" transform="rotate(-58.2 731 113)" fill="#c9473c" opacity="0.85"/></svg>
</body></html>
